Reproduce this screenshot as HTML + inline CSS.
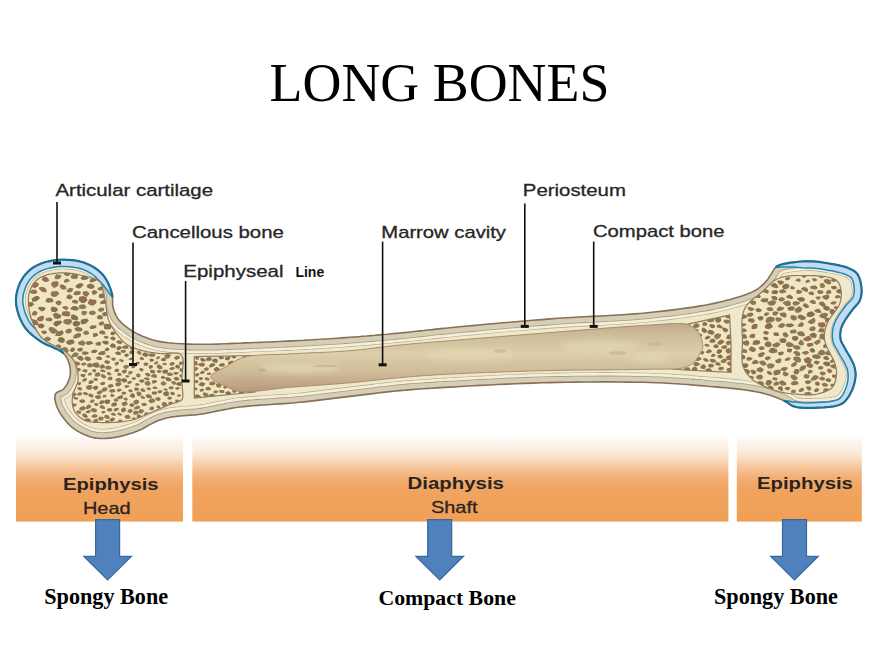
<!DOCTYPE html>
<html><head><meta charset="utf-8"><style>
html,body{margin:0;padding:0;background:#fff;}
body{width:880px;height:660px;overflow:hidden;}
svg{display:block;}
</style></head><body>
<svg width="880" height="660" viewBox="0 0 880 660">
<defs>
<linearGradient id="og" x1="0" y1="432" x2="0" y2="522" gradientUnits="userSpaceOnUse">
<stop offset="0" stop-color="#ffffff"/>
<stop offset="0.044" stop-color="#ffffff"/>
<stop offset="0.111" stop-color="#fdf4ee"/>
<stop offset="0.222" stop-color="#fbebd9"/>
<stop offset="0.289" stop-color="#f7e0c2"/>
<stop offset="0.378" stop-color="#f7c9a1"/>
<stop offset="0.489" stop-color="#f3b27b"/>
<stop offset="0.622" stop-color="#f0a461"/>
<stop offset="1" stop-color="#f0a055"/>
</linearGradient>
<linearGradient id="mg" x1="0" y1="0" x2="0" y2="1">
<stop offset="0" stop-color="#c0a888"/>
<stop offset="0.15" stop-color="#cdba98"/>
<stop offset="0.45" stop-color="#dccfaa"/>
<stop offset="0.75" stop-color="#cdb896"/>
<stop offset="1" stop-color="#b8987c"/>
</linearGradient>
<filter id="soft" x="-2%" y="-5%" width="104%" height="110%"><feGaussianBlur stdDeviation="0.35"/></filter>
<filter id="bl" x="-50%" y="-50%" width="200%" height="200%"><feGaussianBlur stdDeviation="2.5"/></filter>
<clipPath id="cm"><path d="M210.7,377.0 L211.0,376.0 L211.8,374.9 L213.1,373.7 L214.8,372.6 L216.7,371.5 L218.8,370.3 L221.0,369.2 L223.2,368.1 L225.2,367.0 L227.0,366.0 L228.6,365.0 L230.2,364.0 L231.7,363.1 L233.3,362.1 L234.8,361.2 L236.4,360.3 L238.1,359.5 L240.0,358.7 L241.9,358.0 L244.0,357.3 L247.6,356.5 L251.6,355.8 L255.9,355.4 L260.4,355.0 L265.1,354.8 L270.0,354.6 L275.0,354.5 L280.0,354.3 L285.0,354.2 L290.0,353.9 L295.7,353.6 L301.6,353.3 L307.6,353.0 L313.7,352.7 L319.9,352.5 L326.0,352.2 L332.2,351.9 L338.2,351.5 L344.2,351.1 L350.0,350.7 L355.2,350.2 L360.3,349.7 L365.3,349.1 L370.3,348.5 L375.3,347.9 L380.2,347.3 L385.1,346.7 L390.1,346.1 L395.0,345.5 L400.0,345.0 L404.9,344.5 L409.7,344.1 L414.5,343.6 L419.2,343.2 L423.9,342.8 L428.8,342.4 L433.7,342.0 L438.9,341.6 L444.3,341.2 L450.0,340.7 L458.6,340.0 L467.8,339.2 L477.5,338.4 L487.5,337.6 L497.9,336.8 L508.4,335.9 L518.9,335.1 L529.4,334.2 L539.8,333.4 L550.0,332.6 L560.2,331.8 L570.8,330.9 L581.6,330.1 L592.5,329.2 L603.2,328.3 L613.7,327.5 L623.8,326.7 L633.3,326.1 L642.1,325.5 L650.0,325.0 L654.3,324.7 L658.5,324.5 L662.5,324.2 L666.3,323.9 L670.0,323.7 L673.4,323.5 L676.6,323.4 L679.5,323.4 L682.2,323.5 L684.5,323.8 L685.5,324.0 L686.4,324.2 L687.2,324.4 L688.0,324.6 L688.7,324.9 L689.4,325.1 L690.1,325.5 L690.7,325.8 L691.4,326.1 L692.0,326.5 L692.6,326.9 L693.2,327.3 L693.8,327.7 L694.3,328.1 L694.8,328.6 L695.4,329.1 L695.9,329.6 L696.4,330.1 L696.8,330.6 L697.3,331.2 L697.8,331.8 L698.3,332.5 L698.8,333.2 L699.2,333.9 L699.7,334.7 L700.1,335.4 L700.5,336.2 L700.9,337.0 L701.2,337.8 L701.5,338.6 L701.8,339.5 L702.0,340.4 L702.3,341.4 L702.4,342.4 L702.6,343.4 L702.7,344.4 L702.8,345.4 L702.8,346.4 L702.7,347.3 L702.6,348.2 L702.4,348.9 L702.2,349.6 L702.0,350.2 L701.6,350.9 L701.3,351.5 L700.9,352.1 L700.6,352.7 L700.2,353.3 L699.8,353.9 L699.4,354.5 L699.0,355.2 L698.6,355.8 L698.3,356.5 L697.9,357.2 L697.5,357.8 L697.0,358.5 L696.6,359.1 L696.1,359.8 L695.6,360.4 L695.0,361.0 L694.3,361.7 L693.5,362.4 L692.8,363.1 L691.9,363.8 L691.1,364.5 L690.1,365.1 L689.1,365.7 L688.0,366.3 L686.9,366.8 L685.6,367.3 L683.1,368.0 L680.3,368.5 L677.3,368.8 L674.0,369.0 L670.4,369.0 L666.7,369.1 L662.8,369.1 L658.7,369.1 L654.4,369.1 L650.0,369.2 L642.0,369.4 L633.2,369.6 L623.7,369.7 L613.6,369.8 L603.2,369.9 L592.4,369.9 L581.6,370.0 L570.8,370.1 L560.2,370.3 L550.0,370.5 L539.8,370.8 L529.4,371.0 L518.9,371.4 L508.3,371.7 L497.8,372.1 L487.5,372.4 L477.5,372.8 L467.8,373.2 L458.6,373.7 L450.0,374.1 L444.3,374.4 L438.9,374.7 L433.7,375.0 L428.8,375.4 L423.9,375.7 L419.2,376.0 L414.5,376.4 L409.7,376.8 L404.9,377.2 L400.0,377.6 L395.0,378.1 L390.1,378.5 L385.1,379.1 L380.2,379.6 L375.3,380.2 L370.3,380.7 L365.3,381.3 L360.3,381.8 L355.2,382.3 L350.0,382.8 L344.2,383.3 L338.3,383.8 L332.2,384.2 L326.1,384.7 L320.0,385.1 L313.9,385.6 L307.8,386.0 L301.7,386.4 L295.8,386.9 L290.0,387.3 L284.7,387.8 L279.3,388.4 L273.8,389.1 L268.3,389.8 L262.9,390.5 L257.7,391.1 L252.8,391.5 L248.1,391.7 L243.8,391.7 L240.0,391.4 L238.0,391.1 L236.1,390.7 L234.4,390.2 L232.8,389.6 L231.3,389.0 L229.8,388.4 L228.3,387.7 L226.9,387.0 L225.5,386.2 L224.0,385.5 L222.5,384.8 L220.8,384.0 L219.0,383.2 L217.3,382.4 L215.6,381.5 L214.0,380.6 L212.7,379.7 L211.6,378.8 L211.0,377.9 L210.7,377.0Z"/></clipPath>
<clipPath id="cs"><path d="M57.0,260.0 L59.2,259.8 L61.6,259.7 L64.0,259.7 L66.4,259.8 L68.8,259.9 L71.3,260.1 L73.7,260.4 L76.1,260.7 L78.5,261.2 L80.8,261.7 L82.9,262.3 L85.0,263.0 L86.7,263.7 L88.5,264.4 L90.1,265.2 L91.8,266.1 L93.4,267.0 L94.9,268.0 L96.4,269.0 L97.9,270.1 L99.3,271.3 L100.6,272.5 L101.8,273.7 L103.0,275.0 L104.1,276.3 L105.1,277.8 L106.1,279.3 L107.0,280.9 L107.8,282.6 L108.6,284.2 L109.3,285.9 L110.0,287.6 L110.6,289.3 L111.1,290.9 L111.6,292.5 L112.0,294.0 L112.3,295.1 L112.4,296.3 L112.5,297.4 L112.6,298.5 L112.6,299.6 L112.6,300.7 L112.6,301.7 L112.6,302.8 L112.6,303.9 L112.7,304.9 L112.8,306.0 L113.0,307.0 L113.3,308.0 L113.6,309.1 L113.9,310.1 L114.2,311.2 L114.6,312.2 L114.9,313.2 L115.4,314.2 L115.8,315.2 L116.4,316.2 L116.9,317.2 L117.5,318.2 L118.2,319.1 L119.1,320.2 L120.1,321.3 L121.1,322.4 L122.3,323.5 L123.5,324.6 L124.8,325.6 L126.1,326.6 L127.4,327.6 L128.7,328.6 L130.1,329.5 L131.4,330.4 L132.7,331.2 L134.0,332.0 L135.2,332.7 L136.5,333.4 L137.8,334.1 L139.2,334.7 L140.5,335.3 L141.8,335.9 L143.2,336.5 L144.5,337.0 L145.9,337.5 L147.2,338.0 L148.5,338.5 L149.7,338.9 L150.8,339.3 L152.0,339.7 L153.1,340.0 L154.2,340.3 L155.3,340.6 L156.5,340.9 L157.7,341.1 L158.9,341.4 L160.2,341.6 L161.5,341.9 L163.0,342.1 L165.5,342.4 L168.1,342.8 L170.9,343.0 L173.8,343.3 L176.9,343.5 L180.1,343.7 L183.3,343.8 L186.6,344.0 L190.0,344.1 L193.3,344.2 L196.7,344.2 L200.0,344.3 L203.9,344.3 L207.9,344.3 L212.0,344.2 L216.1,344.1 L220.3,344.0 L224.5,343.8 L228.8,343.6 L233.1,343.4 L237.3,343.2 L241.6,343.1 L245.8,342.9 L250.0,342.7 L254.2,342.5 L258.3,342.4 L262.5,342.2 L266.7,342.0 L270.8,341.9 L275.0,341.7 L279.2,341.5 L283.3,341.3 L287.5,341.1 L291.7,340.9 L295.8,340.7 L300.0,340.5 L304.2,340.3 L308.3,340.0 L312.5,339.8 L316.7,339.5 L320.8,339.3 L325.0,339.0 L329.2,338.8 L333.3,338.5 L337.5,338.2 L341.7,337.9 L345.8,337.6 L350.0,337.3 L354.2,337.0 L358.3,336.7 L362.5,336.3 L366.7,336.0 L370.8,335.6 L375.0,335.3 L379.2,334.9 L383.3,334.5 L387.5,334.2 L391.7,333.8 L395.8,333.4 L400.0,333.0 L404.1,332.6 L408.1,332.2 L412.1,331.8 L416.0,331.3 L420.0,330.9 L423.9,330.5 L427.9,330.0 L432.1,329.6 L436.3,329.1 L440.7,328.6 L445.2,328.2 L450.0,327.7 L457.1,327.0 L464.7,326.3 L472.6,325.6 L480.8,324.8 L489.2,324.0 L497.8,323.2 L506.6,322.5 L515.4,321.7 L524.2,321.0 L532.9,320.2 L541.6,319.6 L550.0,318.9 L558.4,318.3 L566.9,317.8 L575.4,317.3 L584.0,316.8 L592.6,316.4 L601.1,316.0 L609.6,315.5 L618.0,315.0 L626.3,314.5 L634.4,313.9 L642.3,313.3 L650.0,312.5 L656.4,311.8 L662.7,311.1 L669.0,310.4 L675.2,309.6 L681.3,308.8 L687.4,307.9 L693.3,307.1 L699.0,306.1 L704.6,305.2 L709.9,304.2 L715.1,303.1 L720.0,302.0 L723.4,301.2 L726.8,300.3 L730.2,299.4 L733.4,298.5 L736.6,297.6 L739.6,296.7 L742.6,295.7 L745.4,294.7 L748.1,293.7 L750.6,292.7 L752.9,291.6 L755.0,290.5 L756.2,289.8 L757.4,289.1 L758.4,288.4 L759.5,287.6 L760.4,286.9 L761.3,286.1 L762.2,285.4 L763.0,284.6 L763.8,283.8 L764.5,283.1 L765.3,282.3 L766.0,281.5 L766.6,280.8 L767.1,280.2 L767.6,279.5 L768.1,278.9 L768.5,278.2 L768.9,277.5 L769.4,276.8 L769.8,276.1 L770.2,275.5 L770.6,274.8 L771.0,274.1 L771.5,273.5 L771.9,272.9 L772.3,272.2 L772.7,271.6 L773.0,270.9 L773.4,270.3 L773.8,269.7 L774.2,269.0 L774.6,268.4 L775.1,267.9 L775.6,267.3 L776.3,266.8 L777.0,266.3 L778.6,265.5 L780.6,264.8 L782.8,264.1 L785.3,263.6 L787.9,263.1 L790.7,262.6 L793.5,262.3 L796.3,262.0 L799.1,261.7 L801.9,261.5 L804.4,261.4 L806.8,261.3 L808.6,261.3 L810.4,261.3 L812.1,261.3 L813.8,261.4 L815.5,261.6 L817.1,261.7 L818.8,261.9 L820.4,262.2 L822.0,262.4 L823.7,262.7 L825.3,262.9 L827.0,263.2 L828.8,263.5 L830.6,263.8 L832.5,264.1 L834.3,264.4 L836.2,264.8 L838.1,265.2 L839.9,265.6 L841.7,266.0 L843.4,266.4 L845.0,266.9 L846.6,267.4 L848.0,268.0 L849.0,268.4 L849.9,268.8 L850.8,269.2 L851.7,269.6 L852.5,270.1 L853.3,270.5 L854.0,271.0 L854.8,271.5 L855.5,272.1 L856.1,272.6 L856.7,273.3 L857.3,274.0 L857.9,274.9 L858.4,275.9 L858.9,276.9 L859.4,278.0 L859.8,279.2 L860.1,280.4 L860.5,281.7 L860.7,282.9 L860.9,284.1 L861.1,285.4 L861.3,286.6 L861.4,287.7 L861.5,288.7 L861.5,289.8 L861.6,290.8 L861.6,291.9 L861.5,292.9 L861.4,294.0 L861.3,295.0 L861.1,296.0 L860.9,297.0 L860.7,298.0 L860.4,299.0 L860.0,300.0 L859.5,301.1 L858.9,302.1 L858.2,303.1 L857.4,304.1 L856.6,305.1 L855.7,306.1 L854.8,307.1 L853.9,308.1 L853.0,309.1 L852.1,310.2 L851.3,311.2 L850.5,312.3 L849.7,313.5 L848.8,314.7 L848.0,315.9 L847.1,317.2 L846.2,318.4 L845.4,319.7 L844.6,321.0 L843.8,322.3 L843.1,323.6 L842.5,324.8 L841.9,326.1 L841.5,327.3 L841.2,328.3 L840.9,329.3 L840.7,330.3 L840.5,331.3 L840.4,332.3 L840.3,333.3 L840.2,334.3 L840.2,335.3 L840.2,336.2 L840.3,337.2 L840.4,338.1 L840.5,339.0 L840.7,339.8 L840.9,340.5 L841.1,341.2 L841.4,341.9 L841.8,342.6 L842.1,343.3 L842.5,344.0 L842.9,344.6 L843.3,345.4 L843.7,346.1 L844.2,346.9 L844.6,347.7 L845.3,349.0 L846.0,350.4 L846.9,351.8 L847.7,353.3 L848.7,354.9 L849.6,356.4 L850.5,358.0 L851.3,359.6 L852.1,361.2 L852.9,362.7 L853.5,364.1 L854.0,365.5 L854.3,366.5 L854.6,367.4 L854.8,368.3 L855.0,369.2 L855.2,370.1 L855.3,371.0 L855.4,371.8 L855.5,372.7 L855.6,373.6 L855.6,374.5 L855.5,375.4 L855.5,376.4 L855.4,377.6 L855.2,378.8 L855.1,380.1 L854.8,381.3 L854.5,382.6 L854.2,383.9 L853.8,385.2 L853.4,386.5 L853.0,387.8 L852.5,389.0 L852.0,390.2 L851.4,391.4 L850.8,392.5 L850.2,393.7 L849.6,394.9 L849.0,396.0 L848.3,397.1 L847.5,398.2 L846.7,399.3 L845.9,400.3 L845.0,401.2 L844.0,402.1 L842.9,403.0 L841.8,403.7 L840.1,404.5 L838.2,405.3 L836.1,405.8 L833.8,406.3 L831.4,406.7 L829.0,407.0 L826.5,407.2 L824.0,407.4 L821.5,407.5 L819.1,407.6 L816.8,407.7 L814.6,407.8 L812.8,407.9 L810.9,407.9 L809.1,407.9 L807.2,407.9 L805.4,407.9 L803.6,407.8 L801.8,407.7 L800.1,407.6 L798.5,407.3 L796.9,407.1 L795.4,406.8 L794.0,406.4 L793.1,406.1 L792.2,405.7 L791.4,405.3 L790.7,404.9 L790.0,404.4 L789.3,403.9 L788.6,403.4 L787.9,402.9 L787.1,402.4 L786.3,401.9 L785.5,401.5 L784.5,401.0 L782.9,400.3 L781.2,399.6 L779.5,398.8 L777.7,398.1 L775.7,397.3 L773.7,396.6 L771.6,395.8 L769.5,395.1 L767.2,394.4 L764.9,393.7 L762.5,393.1 L760.0,392.5 L755.9,391.7 L751.5,390.9 L746.8,390.2 L741.8,389.5 L736.7,388.9 L731.4,388.4 L726.0,387.8 L720.6,387.4 L715.3,386.9 L710.0,386.5 L704.9,386.0 L700.0,385.6 L695.7,385.2 L691.6,384.9 L687.6,384.5 L683.6,384.2 L679.7,384.0 L675.8,383.7 L671.8,383.5 L667.8,383.2 L663.6,383.0 L659.3,382.8 L654.8,382.7 L650.0,382.5 L642.9,382.3 L635.3,382.2 L627.4,382.1 L619.2,382.0 L610.8,381.9 L602.1,381.9 L593.4,382.0 L584.6,382.0 L575.8,382.1 L567.1,382.3 L558.4,382.4 L550.0,382.6 L541.6,382.8 L532.9,383.1 L524.2,383.4 L515.4,383.8 L506.6,384.1 L497.8,384.5 L489.2,385.0 L480.8,385.4 L472.6,385.8 L464.7,386.3 L457.1,386.7 L450.0,387.1 L445.2,387.4 L440.7,387.6 L436.3,387.9 L432.1,388.2 L427.9,388.4 L423.9,388.7 L420.0,389.0 L416.0,389.3 L412.1,389.6 L408.1,389.9 L404.1,390.2 L400.0,390.6 L395.8,391.0 L391.7,391.4 L387.5,391.9 L383.3,392.4 L379.2,392.8 L375.0,393.4 L370.8,393.9 L366.7,394.4 L362.5,394.9 L358.3,395.4 L354.2,395.9 L350.0,396.4 L345.8,396.9 L341.7,397.4 L337.6,397.9 L333.5,398.4 L329.4,398.9 L325.3,399.4 L321.2,399.9 L317.0,400.4 L312.8,400.9 L308.6,401.4 L304.3,401.9 L300.0,402.3 L295.1,402.8 L289.9,403.2 L284.6,403.6 L279.2,403.9 L273.8,404.3 L268.3,404.7 L263.0,405.0 L257.8,405.4 L252.9,405.7 L248.2,406.1 L243.9,406.6 L240.0,407.0 L238.0,407.3 L236.0,407.5 L234.2,407.8 L232.5,408.1 L230.9,408.4 L229.3,408.7 L227.8,409.0 L226.3,409.3 L224.7,409.6 L223.2,409.9 L221.6,410.2 L220.0,410.5 L218.3,410.8 L216.7,411.1 L215.0,411.5 L213.3,411.8 L211.7,412.2 L210.0,412.5 L208.3,412.9 L206.7,413.2 L205.0,413.5 L203.3,413.8 L201.7,414.1 L200.0,414.3 L198.3,414.5 L196.6,414.7 L194.8,414.9 L193.1,415.0 L191.3,415.1 L189.6,415.3 L187.9,415.4 L186.2,415.5 L184.5,415.6 L182.9,415.7 L181.4,415.9 L180.0,416.0 L179.0,416.1 L178.1,416.2 L177.3,416.3 L176.4,416.4 L175.6,416.5 L174.8,416.6 L174.0,416.7 L173.2,416.8 L172.4,416.9 L171.6,417.0 L170.8,417.1 L170.0,417.3 L169.2,417.5 L168.3,417.7 L167.5,417.8 L166.6,418.0 L165.8,418.2 L165.0,418.5 L164.1,418.7 L163.3,418.9 L162.5,419.2 L161.6,419.4 L160.8,419.7 L160.0,420.0 L159.2,420.3 L158.3,420.6 L157.5,421.0 L156.6,421.3 L155.8,421.7 L155.0,422.1 L154.1,422.5 L153.3,422.9 L152.5,423.3 L151.7,423.7 L150.8,424.1 L150.0,424.5 L149.2,424.9 L148.4,425.4 L147.6,425.8 L146.8,426.3 L146.0,426.8 L145.2,427.2 L144.4,427.7 L143.6,428.2 L142.8,428.7 L141.9,429.1 L141.0,429.6 L140.0,430.0 L138.6,430.6 L137.1,431.2 L135.5,431.8 L133.9,432.4 L132.2,433.0 L130.5,433.5 L128.7,434.1 L127.0,434.6 L125.2,435.1 L123.4,435.6 L121.7,436.0 L120.0,436.4 L118.3,436.7 L116.6,437.1 L114.9,437.4 L113.2,437.6 L111.4,437.9 L109.7,438.1 L108.0,438.3 L106.3,438.4 L104.6,438.5 L103.0,438.5 L101.5,438.5 L100.0,438.5 L98.9,438.4 L97.8,438.3 L96.8,438.2 L95.8,438.1 L94.8,437.9 L93.8,437.7 L92.9,437.5 L91.9,437.3 L91.0,437.0 L90.0,436.7 L89.0,436.4 L88.0,436.0 L86.8,435.5 L85.5,435.0 L84.2,434.5 L82.9,433.9 L81.6,433.3 L80.3,432.6 L79.0,431.9 L77.8,431.2 L76.5,430.4 L75.3,429.6 L74.1,428.8 L73.0,428.0 L71.9,427.1 L70.9,426.3 L69.9,425.3 L68.9,424.4 L67.9,423.4 L67.0,422.3 L66.1,421.3 L65.2,420.2 L64.3,419.2 L63.5,418.1 L62.7,417.1 L62.0,416.0 L61.3,415.0 L60.7,414.1 L60.1,413.1 L59.5,412.1 L58.9,411.1 L58.4,410.0 L57.9,409.0 L57.4,408.0 L57.0,407.0 L56.6,406.0 L56.3,405.0 L56.0,404.0 L55.8,403.1 L55.6,402.3 L55.4,401.4 L55.2,400.5 L55.0,399.6 L54.9,398.7 L54.9,397.8 L54.8,397.0 L54.9,396.2 L55.0,395.4 L55.2,394.7 L55.5,394.0 L55.9,393.4 L56.4,392.9 L57.1,392.4 L57.8,392.0 L58.6,391.6 L59.4,391.3 L60.2,390.9 L61.1,390.5 L61.9,390.1 L62.7,389.6 L63.4,389.1 L64.0,388.5 L64.7,387.7 L65.3,386.8 L66.0,385.9 L66.6,384.9 L67.2,383.8 L67.7,382.7 L68.2,381.6 L68.7,380.5 L69.1,379.3 L69.5,378.2 L69.8,377.1 L70.0,376.0 L70.2,374.9 L70.3,373.9 L70.4,372.8 L70.4,371.6 L70.3,370.5 L70.3,369.4 L70.1,368.3 L70.0,367.2 L69.8,366.1 L69.6,365.0 L69.3,364.0 L69.0,363.0 L68.7,362.1 L68.4,361.2 L68.0,360.3 L67.6,359.4 L67.2,358.6 L66.8,357.8 L66.3,356.9 L65.7,356.1 L65.1,355.3 L64.5,354.6 L63.8,353.8 L63.0,353.0 L61.7,351.9 L60.1,350.9 L58.3,349.9 L56.4,348.9 L54.3,348.0 L52.2,347.1 L50.0,346.1 L47.9,345.2 L45.7,344.2 L43.7,343.2 L41.8,342.1 L40.0,341.0 L38.5,339.9 L37.0,338.8 L35.5,337.7 L34.0,336.5 L32.6,335.4 L31.2,334.2 L29.8,332.9 L28.5,331.7 L27.3,330.3 L26.1,329.0 L25.0,327.5 L24.0,326.0 L23.0,324.3 L22.0,322.5 L21.0,320.5 L20.1,318.6 L19.3,316.5 L18.5,314.4 L17.9,312.3 L17.3,310.2 L16.8,308.1 L16.4,306.0 L16.1,304.0 L16.0,302.0 L16.0,300.2 L16.0,298.4 L16.2,296.5 L16.4,294.7 L16.8,292.9 L17.2,291.0 L17.7,289.2 L18.2,287.5 L18.8,285.8 L19.5,284.1 L20.2,282.5 L21.0,281.0 L21.8,279.6 L22.6,278.3 L23.5,276.9 L24.5,275.6 L25.5,274.4 L26.6,273.2 L27.7,272.0 L28.8,270.9 L30.1,269.9 L31.3,268.8 L32.6,267.9 L34.0,267.0 L35.6,266.1 L37.3,265.2 L39.1,264.4 L40.9,263.6 L42.8,263.0 L44.8,262.3 L46.8,261.8 L48.8,261.3 L50.8,260.9 L52.9,260.5 L55.0,260.2 L57.0,260.0Z"/></clipPath>
<clipPath id="c1"><path d="M57.0,273.0 L59.2,272.8 L61.5,272.8 L63.8,272.8 L66.1,272.9 L68.5,273.1 L70.8,273.4 L73.2,273.7 L75.5,274.1 L77.8,274.5 L80.0,275.0 L82.2,275.5 L84.4,275.9 L86.7,276.5 L89.0,277.0 L91.2,277.7 L93.4,278.4 L95.4,279.1 L97.2,280.0 L98.7,280.9 L100.0,282.0 L100.7,282.8 L101.3,283.7 L101.7,284.7 L102.1,285.7 L102.4,286.7 L102.6,287.8 L102.8,288.9 L103.0,289.9 L103.2,291.0 L103.5,292.0 L103.8,293.0 L104.0,293.9 L104.2,294.9 L104.4,295.8 L104.6,296.8 L104.7,297.8 L104.9,298.8 L105.1,299.8 L105.3,300.9 L105.5,302.0 L105.8,303.6 L106.0,305.3 L106.2,307.1 L106.4,308.9 L106.6,310.8 L106.9,312.7 L107.2,314.6 L107.6,316.5 L108.0,318.3 L108.6,320.0 L109.3,321.6 L110.0,323.2 L110.8,324.8 L111.7,326.4 L112.6,327.9 L113.6,329.4 L114.6,330.9 L115.6,332.3 L116.6,333.7 L117.6,335.0 L118.5,336.1 L119.3,337.2 L120.2,338.2 L121.1,339.2 L121.9,340.2 L122.9,341.1 L123.8,342.0 L124.8,342.9 L125.9,343.7 L127.0,344.5 L128.3,345.3 L129.7,346.1 L131.2,346.8 L132.7,347.4 L134.3,348.0 L135.9,348.6 L137.5,349.2 L139.1,349.7 L140.8,350.1 L142.4,350.6 L144.1,351.0 L145.8,351.4 L147.5,351.8 L149.2,352.1 L151.0,352.4 L152.8,352.6 L154.5,352.8 L156.3,353.1 L158.2,353.3 L160.0,353.5 L162.1,353.6 L164.4,353.6 L166.9,353.4 L169.3,353.2 L171.8,353.1 L174.1,353.0 L176.3,353.1 L178.3,353.4 L180.0,354.0 L181.3,355.0 L182.3,356.5 L182.9,358.5 L183.2,360.8 L183.2,363.4 L183.0,366.2 L182.7,369.1 L182.4,372.0 L182.1,374.8 L181.9,377.5 L181.8,380.0 L181.9,382.1 L182.0,384.3 L182.2,386.5 L182.4,388.7 L182.6,390.8 L182.8,392.9 L182.8,394.7 L182.8,396.4 L182.6,397.9 L182.2,399.0 L182.0,399.4 L181.7,399.8 L181.5,400.1 L181.2,400.3 L180.9,400.5 L180.5,400.7 L180.2,400.9 L179.8,401.1 L179.4,401.3 L179.0,401.5 L178.3,401.8 L177.6,402.1 L176.8,402.4 L175.9,402.7 L175.0,402.9 L174.1,403.2 L173.1,403.5 L172.1,403.8 L171.1,404.1 L170.0,404.5 L168.3,405.2 L166.5,405.9 L164.6,406.7 L162.6,407.6 L160.5,408.5 L158.4,409.4 L156.3,410.4 L154.1,411.3 L152.0,412.2 L150.0,413.0 L148.0,413.8 L146.1,414.6 L144.2,415.5 L142.2,416.3 L140.3,417.1 L138.4,417.9 L136.4,418.7 L134.3,419.4 L132.2,420.0 L130.0,420.5 L127.2,421.0 L124.3,421.5 L121.2,421.8 L118.0,422.1 L114.8,422.4 L111.6,422.5 L108.5,422.6 L105.5,422.6 L102.6,422.6 L100.0,422.5 L98.2,422.4 L96.4,422.4 L94.7,422.3 L93.0,422.1 L91.3,422.0 L89.8,421.8 L88.2,421.5 L86.8,421.1 L85.4,420.6 L84.0,420.0 L82.8,419.3 L81.6,418.5 L80.4,417.7 L79.2,416.7 L78.2,415.7 L77.2,414.6 L76.2,413.5 L75.4,412.4 L74.6,411.2 L74.0,410.0 L73.5,408.8 L73.1,407.5 L72.7,406.1 L72.5,404.7 L72.3,403.3 L72.2,401.8 L72.2,400.4 L72.3,398.9 L72.4,397.4 L72.5,396.0 L72.8,394.4 L73.3,392.8 L73.9,391.3 L74.6,389.7 L75.3,388.1 L76.0,386.5 L76.7,384.8 L77.3,383.2 L77.7,381.6 L78.0,380.0 L78.1,378.4 L78.1,376.8 L78.1,375.1 L77.9,373.4 L77.7,371.8 L77.4,370.1 L77.0,368.5 L76.6,367.0 L76.1,365.5 L75.5,364.0 L74.9,362.7 L74.2,361.4 L73.4,360.1 L72.5,358.9 L71.6,357.7 L70.6,356.5 L69.6,355.4 L68.5,354.3 L67.3,353.1 L66.0,352.0 L64.1,350.5 L61.8,349.2 L59.4,347.9 L56.8,346.7 L54.1,345.5 L51.4,344.2 L48.7,342.9 L46.2,341.4 L44.0,339.8 L42.0,338.0 L40.3,336.0 L38.7,333.9 L37.2,331.6 L35.8,329.1 L34.5,326.7 L33.4,324.1 L32.4,321.5 L31.4,319.0 L30.7,316.5 L30.0,314.0 L29.5,311.8 L29.1,309.5 L28.8,307.2 L28.5,304.9 L28.4,302.6 L28.4,300.3 L28.5,298.1 L28.7,296.0 L29.0,293.9 L29.5,292.0 L30.0,290.5 L30.6,289.0 L31.2,287.5 L31.9,286.1 L32.8,284.7 L33.7,283.4 L34.6,282.2 L35.7,281.1 L36.8,280.0 L38.0,279.0 L39.5,278.0 L41.1,277.1 L42.9,276.3 L44.8,275.6 L46.7,274.9 L48.8,274.4 L50.8,274.0 L52.9,273.6 L55.0,273.3 L57.0,273.0Z"/></clipPath>
<clipPath id="c2"><path d="M194.3,356.6 L255.0,355.5 L255.0,392.0 L194.3,398.2 L194.3,356.6Z"/></clipPath>
<clipPath id="c3"><path d="M672.0,328.0 L689.0,323.8 L729.6,315.1 L731.0,343.0 L731.0,372.3 L684.0,370.0 L672.0,369.0 L672.0,328.0Z"/></clipPath>
<clipPath id="c4"><path d="M742.5,316.0 L742.8,314.7 L743.1,313.5 L743.4,312.3 L743.7,311.2 L744.1,310.1 L744.6,309.1 L745.1,308.1 L745.6,307.1 L746.3,306.0 L747.0,305.0 L748.1,303.6 L749.3,302.3 L750.7,301.0 L752.3,299.7 L753.9,298.4 L755.5,297.1 L757.2,295.9 L758.8,294.6 L760.5,293.3 L762.0,292.0 L763.5,290.7 L764.9,289.2 L766.3,287.8 L767.7,286.3 L769.1,284.9 L770.6,283.5 L772.1,282.2 L773.6,281.0 L775.3,279.9 L777.0,279.0 L779.0,278.2 L781.1,277.5 L783.2,276.9 L785.4,276.5 L787.7,276.2 L790.1,275.9 L792.5,275.7 L795.0,275.6 L797.5,275.5 L800.0,275.5 L803.4,275.5 L807.2,275.5 L811.3,275.6 L815.5,275.7 L819.7,276.0 L823.7,276.4 L827.5,277.0 L830.9,277.8 L833.8,278.8 L836.0,280.0 L837.0,280.8 L837.8,281.7 L838.5,282.7 L839.1,283.7 L839.6,284.8 L840.0,285.9 L840.3,287.0 L840.6,288.2 L840.8,289.3 L841.0,290.5 L841.2,291.8 L841.3,293.0 L841.3,294.3 L841.3,295.7 L841.2,297.0 L841.0,298.4 L840.8,299.8 L840.4,301.2 L840.1,302.6 L839.6,304.0 L838.8,305.8 L837.7,307.7 L836.5,309.6 L835.1,311.5 L833.6,313.5 L832.1,315.4 L830.6,317.4 L829.3,319.3 L828.2,321.3 L827.3,323.2 L826.7,324.8 L826.1,326.4 L825.6,328.0 L825.2,329.6 L824.8,331.2 L824.6,332.9 L824.4,334.5 L824.3,336.2 L824.4,337.9 L824.5,339.6 L825.0,341.9 L825.8,344.4 L826.8,346.9 L828.1,349.5 L829.4,352.1 L830.8,354.7 L832.1,357.2 L833.3,359.6 L834.3,361.9 L835.0,364.0 L835.3,365.2 L835.6,366.4 L835.9,367.6 L836.1,368.7 L836.3,369.7 L836.4,370.8 L836.5,371.8 L836.5,372.8 L836.5,373.9 L836.4,375.0 L836.3,376.2 L836.1,377.5 L835.9,378.8 L835.6,380.2 L835.3,381.5 L834.8,382.8 L834.4,384.0 L833.8,385.2 L833.1,386.3 L832.3,387.3 L831.3,388.3 L830.1,389.2 L828.7,390.1 L827.3,390.8 L825.7,391.5 L824.1,392.1 L822.5,392.7 L820.7,393.2 L819.0,393.6 L817.3,394.0 L815.2,394.4 L813.0,394.6 L810.7,394.8 L808.3,394.8 L805.9,394.8 L803.5,394.7 L801.0,394.6 L798.6,394.4 L796.3,394.2 L794.0,394.0 L791.9,393.8 L789.8,393.5 L787.8,393.3 L785.7,393.0 L783.7,392.6 L781.7,392.2 L779.6,391.8 L777.6,391.2 L775.6,390.7 L773.6,390.0 L771.4,389.2 L769.1,388.3 L766.7,387.4 L764.4,386.4 L762.0,385.3 L759.8,384.1 L757.6,382.9 L755.6,381.7 L753.7,380.4 L752.0,379.0 L750.8,377.9 L749.6,376.7 L748.5,375.6 L747.5,374.4 L746.6,373.1 L745.7,371.8 L744.9,370.5 L744.2,369.1 L743.6,367.6 L743.0,366.0 L742.4,363.8 L742.1,361.5 L741.9,358.9 L741.9,356.3 L741.9,353.6 L742.1,350.8 L742.2,348.1 L742.4,345.3 L742.5,342.6 L742.5,340.0 L742.4,337.5 L742.3,335.0 L742.2,332.4 L742.1,329.9 L742.0,327.3 L741.9,324.8 L741.9,322.4 L742.0,320.2 L742.2,318.0 L742.5,316.0Z"/></clipPath>
</defs>
<rect x="16" y="432" width="167" height="89.6" fill="url(#og)"/>
<rect x="192.3" y="432" width="536.1" height="89.6" fill="url(#og)"/>
<rect x="736.8" y="432" width="125" height="89.6" fill="url(#og)"/>
<g filter="url(#soft)">
<path d="M57.0,260.0 L59.2,259.8 L61.6,259.7 L64.0,259.7 L66.4,259.8 L68.8,259.9 L71.3,260.1 L73.7,260.4 L76.1,260.7 L78.5,261.2 L80.8,261.7 L82.9,262.3 L85.0,263.0 L86.7,263.7 L88.5,264.4 L90.1,265.2 L91.8,266.1 L93.4,267.0 L94.9,268.0 L96.4,269.0 L97.9,270.1 L99.3,271.3 L100.6,272.5 L101.8,273.7 L103.0,275.0 L104.1,276.3 L105.1,277.8 L106.1,279.3 L107.0,280.9 L107.8,282.6 L108.6,284.2 L109.3,285.9 L110.0,287.6 L110.6,289.3 L111.1,290.9 L111.6,292.5 L112.0,294.0 L112.3,295.1 L112.4,296.3 L112.5,297.4 L112.6,298.5 L112.6,299.6 L112.6,300.7 L112.6,301.7 L112.6,302.8 L112.6,303.9 L112.7,304.9 L112.8,306.0 L113.0,307.0 L113.3,308.0 L113.6,309.1 L113.9,310.1 L114.2,311.2 L114.6,312.2 L114.9,313.2 L115.4,314.2 L115.8,315.2 L116.4,316.2 L116.9,317.2 L117.5,318.2 L118.2,319.1 L119.1,320.2 L120.1,321.3 L121.1,322.4 L122.3,323.5 L123.5,324.6 L124.8,325.6 L126.1,326.6 L127.4,327.6 L128.7,328.6 L130.1,329.5 L131.4,330.4 L132.7,331.2 L134.0,332.0 L135.2,332.7 L136.5,333.4 L137.8,334.1 L139.2,334.7 L140.5,335.3 L141.8,335.9 L143.2,336.5 L144.5,337.0 L145.9,337.5 L147.2,338.0 L148.5,338.5 L149.7,338.9 L150.8,339.3 L152.0,339.7 L153.1,340.0 L154.2,340.3 L155.3,340.6 L156.5,340.9 L157.7,341.1 L158.9,341.4 L160.2,341.6 L161.5,341.9 L163.0,342.1 L165.5,342.4 L168.1,342.8 L170.9,343.0 L173.8,343.3 L176.9,343.5 L180.1,343.7 L183.3,343.8 L186.6,344.0 L190.0,344.1 L193.3,344.2 L196.7,344.2 L200.0,344.3 L203.9,344.3 L207.9,344.3 L212.0,344.2 L216.1,344.1 L220.3,344.0 L224.5,343.8 L228.8,343.6 L233.1,343.4 L237.3,343.2 L241.6,343.1 L245.8,342.9 L250.0,342.7 L254.2,342.5 L258.3,342.4 L262.5,342.2 L266.7,342.0 L270.8,341.9 L275.0,341.7 L279.2,341.5 L283.3,341.3 L287.5,341.1 L291.7,340.9 L295.8,340.7 L300.0,340.5 L304.2,340.3 L308.3,340.0 L312.5,339.8 L316.7,339.5 L320.8,339.3 L325.0,339.0 L329.2,338.8 L333.3,338.5 L337.5,338.2 L341.7,337.9 L345.8,337.6 L350.0,337.3 L354.2,337.0 L358.3,336.7 L362.5,336.3 L366.7,336.0 L370.8,335.6 L375.0,335.3 L379.2,334.9 L383.3,334.5 L387.5,334.2 L391.7,333.8 L395.8,333.4 L400.0,333.0 L404.1,332.6 L408.1,332.2 L412.1,331.8 L416.0,331.3 L420.0,330.9 L423.9,330.5 L427.9,330.0 L432.1,329.6 L436.3,329.1 L440.7,328.6 L445.2,328.2 L450.0,327.7 L457.1,327.0 L464.7,326.3 L472.6,325.6 L480.8,324.8 L489.2,324.0 L497.8,323.2 L506.6,322.5 L515.4,321.7 L524.2,321.0 L532.9,320.2 L541.6,319.6 L550.0,318.9 L558.4,318.3 L566.9,317.8 L575.4,317.3 L584.0,316.8 L592.6,316.4 L601.1,316.0 L609.6,315.5 L618.0,315.0 L626.3,314.5 L634.4,313.9 L642.3,313.3 L650.0,312.5 L656.4,311.8 L662.7,311.1 L669.0,310.4 L675.2,309.6 L681.3,308.8 L687.4,307.9 L693.3,307.1 L699.0,306.1 L704.6,305.2 L709.9,304.2 L715.1,303.1 L720.0,302.0 L723.4,301.2 L726.8,300.3 L730.2,299.4 L733.4,298.5 L736.6,297.6 L739.6,296.7 L742.6,295.7 L745.4,294.7 L748.1,293.7 L750.6,292.7 L752.9,291.6 L755.0,290.5 L756.2,289.8 L757.4,289.1 L758.4,288.4 L759.5,287.6 L760.4,286.9 L761.3,286.1 L762.2,285.4 L763.0,284.6 L763.8,283.8 L764.5,283.1 L765.3,282.3 L766.0,281.5 L766.6,280.8 L767.1,280.2 L767.6,279.5 L768.1,278.9 L768.5,278.2 L768.9,277.5 L769.4,276.8 L769.8,276.1 L770.2,275.5 L770.6,274.8 L771.0,274.1 L771.5,273.5 L771.9,272.9 L772.3,272.2 L772.7,271.6 L773.0,270.9 L773.4,270.3 L773.8,269.7 L774.2,269.0 L774.6,268.4 L775.1,267.9 L775.6,267.3 L776.3,266.8 L777.0,266.3 L778.6,265.5 L780.6,264.8 L782.8,264.1 L785.3,263.6 L787.9,263.1 L790.7,262.6 L793.5,262.3 L796.3,262.0 L799.1,261.7 L801.9,261.5 L804.4,261.4 L806.8,261.3 L808.6,261.3 L810.4,261.3 L812.1,261.3 L813.8,261.4 L815.5,261.6 L817.1,261.7 L818.8,261.9 L820.4,262.2 L822.0,262.4 L823.7,262.7 L825.3,262.9 L827.0,263.2 L828.8,263.5 L830.6,263.8 L832.5,264.1 L834.3,264.4 L836.2,264.8 L838.1,265.2 L839.9,265.6 L841.7,266.0 L843.4,266.4 L845.0,266.9 L846.6,267.4 L848.0,268.0 L849.0,268.4 L849.9,268.8 L850.8,269.2 L851.7,269.6 L852.5,270.1 L853.3,270.5 L854.0,271.0 L854.8,271.5 L855.5,272.1 L856.1,272.6 L856.7,273.3 L857.3,274.0 L857.9,274.9 L858.4,275.9 L858.9,276.9 L859.4,278.0 L859.8,279.2 L860.1,280.4 L860.5,281.7 L860.7,282.9 L860.9,284.1 L861.1,285.4 L861.3,286.6 L861.4,287.7 L861.5,288.7 L861.5,289.8 L861.6,290.8 L861.6,291.9 L861.5,292.9 L861.4,294.0 L861.3,295.0 L861.1,296.0 L860.9,297.0 L860.7,298.0 L860.4,299.0 L860.0,300.0 L859.5,301.1 L858.9,302.1 L858.2,303.1 L857.4,304.1 L856.6,305.1 L855.7,306.1 L854.8,307.1 L853.9,308.1 L853.0,309.1 L852.1,310.2 L851.3,311.2 L850.5,312.3 L849.7,313.5 L848.8,314.7 L848.0,315.9 L847.1,317.2 L846.2,318.4 L845.4,319.7 L844.6,321.0 L843.8,322.3 L843.1,323.6 L842.5,324.8 L841.9,326.1 L841.5,327.3 L841.2,328.3 L840.9,329.3 L840.7,330.3 L840.5,331.3 L840.4,332.3 L840.3,333.3 L840.2,334.3 L840.2,335.3 L840.2,336.2 L840.3,337.2 L840.4,338.1 L840.5,339.0 L840.7,339.8 L840.9,340.5 L841.1,341.2 L841.4,341.9 L841.8,342.6 L842.1,343.3 L842.5,344.0 L842.9,344.6 L843.3,345.4 L843.7,346.1 L844.2,346.9 L844.6,347.7 L845.3,349.0 L846.0,350.4 L846.9,351.8 L847.7,353.3 L848.7,354.9 L849.6,356.4 L850.5,358.0 L851.3,359.6 L852.1,361.2 L852.9,362.7 L853.5,364.1 L854.0,365.5 L854.3,366.5 L854.6,367.4 L854.8,368.3 L855.0,369.2 L855.2,370.1 L855.3,371.0 L855.4,371.8 L855.5,372.7 L855.6,373.6 L855.6,374.5 L855.5,375.4 L855.5,376.4 L855.4,377.6 L855.2,378.8 L855.1,380.1 L854.8,381.3 L854.5,382.6 L854.2,383.9 L853.8,385.2 L853.4,386.5 L853.0,387.8 L852.5,389.0 L852.0,390.2 L851.4,391.4 L850.8,392.5 L850.2,393.7 L849.6,394.9 L849.0,396.0 L848.3,397.1 L847.5,398.2 L846.7,399.3 L845.9,400.3 L845.0,401.2 L844.0,402.1 L842.9,403.0 L841.8,403.7 L840.1,404.5 L838.2,405.3 L836.1,405.8 L833.8,406.3 L831.4,406.7 L829.0,407.0 L826.5,407.2 L824.0,407.4 L821.5,407.5 L819.1,407.6 L816.8,407.7 L814.6,407.8 L812.8,407.9 L810.9,407.9 L809.1,407.9 L807.2,407.9 L805.4,407.9 L803.6,407.8 L801.8,407.7 L800.1,407.6 L798.5,407.3 L796.9,407.1 L795.4,406.8 L794.0,406.4 L793.1,406.1 L792.2,405.7 L791.4,405.3 L790.7,404.9 L790.0,404.4 L789.3,403.9 L788.6,403.4 L787.9,402.9 L787.1,402.4 L786.3,401.9 L785.5,401.5 L784.5,401.0 L782.9,400.3 L781.2,399.6 L779.5,398.8 L777.7,398.1 L775.7,397.3 L773.7,396.6 L771.6,395.8 L769.5,395.1 L767.2,394.4 L764.9,393.7 L762.5,393.1 L760.0,392.5 L755.9,391.7 L751.5,390.9 L746.8,390.2 L741.8,389.5 L736.7,388.9 L731.4,388.4 L726.0,387.8 L720.6,387.4 L715.3,386.9 L710.0,386.5 L704.9,386.0 L700.0,385.6 L695.7,385.2 L691.6,384.9 L687.6,384.5 L683.6,384.2 L679.7,384.0 L675.8,383.7 L671.8,383.5 L667.8,383.2 L663.6,383.0 L659.3,382.8 L654.8,382.7 L650.0,382.5 L642.9,382.3 L635.3,382.2 L627.4,382.1 L619.2,382.0 L610.8,381.9 L602.1,381.9 L593.4,382.0 L584.6,382.0 L575.8,382.1 L567.1,382.3 L558.4,382.4 L550.0,382.6 L541.6,382.8 L532.9,383.1 L524.2,383.4 L515.4,383.8 L506.6,384.1 L497.8,384.5 L489.2,385.0 L480.8,385.4 L472.6,385.8 L464.7,386.3 L457.1,386.7 L450.0,387.1 L445.2,387.4 L440.7,387.6 L436.3,387.9 L432.1,388.2 L427.9,388.4 L423.9,388.7 L420.0,389.0 L416.0,389.3 L412.1,389.6 L408.1,389.9 L404.1,390.2 L400.0,390.6 L395.8,391.0 L391.7,391.4 L387.5,391.9 L383.3,392.4 L379.2,392.8 L375.0,393.4 L370.8,393.9 L366.7,394.4 L362.5,394.9 L358.3,395.4 L354.2,395.9 L350.0,396.4 L345.8,396.9 L341.7,397.4 L337.6,397.9 L333.5,398.4 L329.4,398.9 L325.3,399.4 L321.2,399.9 L317.0,400.4 L312.8,400.9 L308.6,401.4 L304.3,401.9 L300.0,402.3 L295.1,402.8 L289.9,403.2 L284.6,403.6 L279.2,403.9 L273.8,404.3 L268.3,404.7 L263.0,405.0 L257.8,405.4 L252.9,405.7 L248.2,406.1 L243.9,406.6 L240.0,407.0 L238.0,407.3 L236.0,407.5 L234.2,407.8 L232.5,408.1 L230.9,408.4 L229.3,408.7 L227.8,409.0 L226.3,409.3 L224.7,409.6 L223.2,409.9 L221.6,410.2 L220.0,410.5 L218.3,410.8 L216.7,411.1 L215.0,411.5 L213.3,411.8 L211.7,412.2 L210.0,412.5 L208.3,412.9 L206.7,413.2 L205.0,413.5 L203.3,413.8 L201.7,414.1 L200.0,414.3 L198.3,414.5 L196.6,414.7 L194.8,414.9 L193.1,415.0 L191.3,415.1 L189.6,415.3 L187.9,415.4 L186.2,415.5 L184.5,415.6 L182.9,415.7 L181.4,415.9 L180.0,416.0 L179.0,416.1 L178.1,416.2 L177.3,416.3 L176.4,416.4 L175.6,416.5 L174.8,416.6 L174.0,416.7 L173.2,416.8 L172.4,416.9 L171.6,417.0 L170.8,417.1 L170.0,417.3 L169.2,417.5 L168.3,417.7 L167.5,417.8 L166.6,418.0 L165.8,418.2 L165.0,418.5 L164.1,418.7 L163.3,418.9 L162.5,419.2 L161.6,419.4 L160.8,419.7 L160.0,420.0 L159.2,420.3 L158.3,420.6 L157.5,421.0 L156.6,421.3 L155.8,421.7 L155.0,422.1 L154.1,422.5 L153.3,422.9 L152.5,423.3 L151.7,423.7 L150.8,424.1 L150.0,424.5 L149.2,424.9 L148.4,425.4 L147.6,425.8 L146.8,426.3 L146.0,426.8 L145.2,427.2 L144.4,427.7 L143.6,428.2 L142.8,428.7 L141.9,429.1 L141.0,429.6 L140.0,430.0 L138.6,430.6 L137.1,431.2 L135.5,431.8 L133.9,432.4 L132.2,433.0 L130.5,433.5 L128.7,434.1 L127.0,434.6 L125.2,435.1 L123.4,435.6 L121.7,436.0 L120.0,436.4 L118.3,436.7 L116.6,437.1 L114.9,437.4 L113.2,437.6 L111.4,437.9 L109.7,438.1 L108.0,438.3 L106.3,438.4 L104.6,438.5 L103.0,438.5 L101.5,438.5 L100.0,438.5 L98.9,438.4 L97.8,438.3 L96.8,438.2 L95.8,438.1 L94.8,437.9 L93.8,437.7 L92.9,437.5 L91.9,437.3 L91.0,437.0 L90.0,436.7 L89.0,436.4 L88.0,436.0 L86.8,435.5 L85.5,435.0 L84.2,434.5 L82.9,433.9 L81.6,433.3 L80.3,432.6 L79.0,431.9 L77.8,431.2 L76.5,430.4 L75.3,429.6 L74.1,428.8 L73.0,428.0 L71.9,427.1 L70.9,426.3 L69.9,425.3 L68.9,424.4 L67.9,423.4 L67.0,422.3 L66.1,421.3 L65.2,420.2 L64.3,419.2 L63.5,418.1 L62.7,417.1 L62.0,416.0 L61.3,415.0 L60.7,414.1 L60.1,413.1 L59.5,412.1 L58.9,411.1 L58.4,410.0 L57.9,409.0 L57.4,408.0 L57.0,407.0 L56.6,406.0 L56.3,405.0 L56.0,404.0 L55.8,403.1 L55.6,402.3 L55.4,401.4 L55.2,400.5 L55.0,399.6 L54.9,398.7 L54.9,397.8 L54.8,397.0 L54.9,396.2 L55.0,395.4 L55.2,394.7 L55.5,394.0 L55.9,393.4 L56.4,392.9 L57.1,392.4 L57.8,392.0 L58.6,391.6 L59.4,391.3 L60.2,390.9 L61.1,390.5 L61.9,390.1 L62.7,389.6 L63.4,389.1 L64.0,388.5 L64.7,387.7 L65.3,386.8 L66.0,385.9 L66.6,384.9 L67.2,383.8 L67.7,382.7 L68.2,381.6 L68.7,380.5 L69.1,379.3 L69.5,378.2 L69.8,377.1 L70.0,376.0 L70.2,374.9 L70.3,373.9 L70.4,372.8 L70.4,371.6 L70.3,370.5 L70.3,369.4 L70.1,368.3 L70.0,367.2 L69.8,366.1 L69.6,365.0 L69.3,364.0 L69.0,363.0 L68.7,362.1 L68.4,361.2 L68.0,360.3 L67.6,359.4 L67.2,358.6 L66.8,357.8 L66.3,356.9 L65.7,356.1 L65.1,355.3 L64.5,354.6 L63.8,353.8 L63.0,353.0 L61.7,351.9 L60.1,350.9 L58.3,349.9 L56.4,348.9 L54.3,348.0 L52.2,347.1 L50.0,346.1 L47.9,345.2 L45.7,344.2 L43.7,343.2 L41.8,342.1 L40.0,341.0 L38.5,339.9 L37.0,338.8 L35.5,337.7 L34.0,336.5 L32.6,335.4 L31.2,334.2 L29.8,332.9 L28.5,331.7 L27.3,330.3 L26.1,329.0 L25.0,327.5 L24.0,326.0 L23.0,324.3 L22.0,322.5 L21.0,320.5 L20.1,318.6 L19.3,316.5 L18.5,314.4 L17.9,312.3 L17.3,310.2 L16.8,308.1 L16.4,306.0 L16.1,304.0 L16.0,302.0 L16.0,300.2 L16.0,298.4 L16.2,296.5 L16.4,294.7 L16.8,292.9 L17.2,291.0 L17.7,289.2 L18.2,287.5 L18.8,285.8 L19.5,284.1 L20.2,282.5 L21.0,281.0 L21.8,279.6 L22.6,278.3 L23.5,276.9 L24.5,275.6 L25.5,274.4 L26.6,273.2 L27.7,272.0 L28.8,270.9 L30.1,269.9 L31.3,268.8 L32.6,267.9 L34.0,267.0 L35.6,266.1 L37.3,265.2 L39.1,264.4 L40.9,263.6 L42.8,263.0 L44.8,262.3 L46.8,261.8 L48.8,261.3 L50.8,260.9 L52.9,260.5 L55.0,260.2 L57.0,260.0Z" fill="#f0e8cb"/>
<g clip-path="url(#cs)"><path d="M57.0,260.0 L59.2,259.8 L61.6,259.7 L64.0,259.7 L66.4,259.8 L68.8,259.9 L71.3,260.1 L73.7,260.4 L76.1,260.7 L78.5,261.2 L80.8,261.7 L82.9,262.3 L85.0,263.0 L86.7,263.7 L88.5,264.4 L90.1,265.2 L91.8,266.1 L93.4,267.0 L94.9,268.0 L96.4,269.0 L97.9,270.1 L99.3,271.3 L100.6,272.5 L101.8,273.7 L103.0,275.0 L104.1,276.3 L105.1,277.8 L106.1,279.3 L107.0,280.9 L107.8,282.6 L108.6,284.2 L109.3,285.9 L110.0,287.6 L110.6,289.3 L111.1,290.9 L111.6,292.5 L112.0,294.0 L112.3,295.1 L112.4,296.3 L112.5,297.4 L112.6,298.5 L112.6,299.6 L112.6,300.7 L112.6,301.7 L112.6,302.8 L112.6,303.9 L112.7,304.9 L112.8,306.0 L113.0,307.0 L113.3,308.0 L113.6,309.1 L113.9,310.1 L114.2,311.2 L114.6,312.2 L114.9,313.2 L115.4,314.2 L115.8,315.2 L116.4,316.2 L116.9,317.2 L117.5,318.2 L118.2,319.1 L119.1,320.2 L120.1,321.3 L121.1,322.4 L122.3,323.5 L123.5,324.6 L124.8,325.6 L126.1,326.6 L127.4,327.6 L128.7,328.6 L130.1,329.5 L131.4,330.4 L132.7,331.2 L134.0,332.0 L135.2,332.7 L136.5,333.4 L137.8,334.1 L139.2,334.7 L140.5,335.3 L141.8,335.9 L143.2,336.5 L144.5,337.0 L145.9,337.5 L147.2,338.0 L148.5,338.5 L149.7,338.9 L150.8,339.3 L152.0,339.7 L153.1,340.0 L154.2,340.3 L155.3,340.6 L156.5,340.9 L157.7,341.1 L158.9,341.4 L160.2,341.6 L161.5,341.9 L163.0,342.1 L165.5,342.4 L168.1,342.8 L170.9,343.0 L173.8,343.3 L176.9,343.5 L180.1,343.7 L183.3,343.8 L186.6,344.0 L190.0,344.1 L193.3,344.2 L196.7,344.2 L200.0,344.3 L203.9,344.3 L207.9,344.3 L212.0,344.2 L216.1,344.1 L220.3,344.0 L224.5,343.8 L228.8,343.6 L233.1,343.4 L237.3,343.2 L241.6,343.1 L245.8,342.9 L250.0,342.7 L254.2,342.5 L258.3,342.4 L262.5,342.2 L266.7,342.0 L270.8,341.9 L275.0,341.7 L279.2,341.5 L283.3,341.3 L287.5,341.1 L291.7,340.9 L295.8,340.7 L300.0,340.5 L304.2,340.3 L308.3,340.0 L312.5,339.8 L316.7,339.5 L320.8,339.3 L325.0,339.0 L329.2,338.8 L333.3,338.5 L337.5,338.2 L341.7,337.9 L345.8,337.6 L350.0,337.3 L354.2,337.0 L358.3,336.7 L362.5,336.3 L366.7,336.0 L370.8,335.6 L375.0,335.3 L379.2,334.9 L383.3,334.5 L387.5,334.2 L391.7,333.8 L395.8,333.4 L400.0,333.0 L404.1,332.6 L408.1,332.2 L412.1,331.8 L416.0,331.3 L420.0,330.9 L423.9,330.5 L427.9,330.0 L432.1,329.6 L436.3,329.1 L440.7,328.6 L445.2,328.2 L450.0,327.7 L457.1,327.0 L464.7,326.3 L472.6,325.6 L480.8,324.8 L489.2,324.0 L497.8,323.2 L506.6,322.5 L515.4,321.7 L524.2,321.0 L532.9,320.2 L541.6,319.6 L550.0,318.9 L558.4,318.3 L566.9,317.8 L575.4,317.3 L584.0,316.8 L592.6,316.4 L601.1,316.0 L609.6,315.5 L618.0,315.0 L626.3,314.5 L634.4,313.9 L642.3,313.3 L650.0,312.5 L656.4,311.8 L662.7,311.1 L669.0,310.4 L675.2,309.6 L681.3,308.8 L687.4,307.9 L693.3,307.1 L699.0,306.1 L704.6,305.2 L709.9,304.2 L715.1,303.1 L720.0,302.0 L723.4,301.2 L726.8,300.3 L730.2,299.4 L733.4,298.5 L736.6,297.6 L739.6,296.7 L742.6,295.7 L745.4,294.7 L748.1,293.7 L750.6,292.7 L752.9,291.6 L755.0,290.5 L756.2,289.8 L757.4,289.1 L758.4,288.4 L759.5,287.6 L760.4,286.9 L761.3,286.1 L762.2,285.4 L763.0,284.6 L763.8,283.8 L764.5,283.1 L765.3,282.3 L766.0,281.5 L766.6,280.8 L767.1,280.2 L767.6,279.5 L768.1,278.9 L768.5,278.2 L768.9,277.5 L769.4,276.8 L769.8,276.1 L770.2,275.5 L770.6,274.8 L771.0,274.1 L771.5,273.5 L771.9,272.9 L772.3,272.2 L772.7,271.6 L773.0,270.9 L773.4,270.3 L773.8,269.7 L774.2,269.0 L774.6,268.4 L775.1,267.9 L775.6,267.3 L776.3,266.8 L777.0,266.3 L778.6,265.5 L780.6,264.8 L782.8,264.1 L785.3,263.6 L787.9,263.1 L790.7,262.6 L793.5,262.3 L796.3,262.0 L799.1,261.7 L801.9,261.5 L804.4,261.4 L806.8,261.3 L808.6,261.3 L810.4,261.3 L812.1,261.3 L813.8,261.4 L815.5,261.6 L817.1,261.7 L818.8,261.9 L820.4,262.2 L822.0,262.4 L823.7,262.7 L825.3,262.9 L827.0,263.2 L828.8,263.5 L830.6,263.8 L832.5,264.1 L834.3,264.4 L836.2,264.8 L838.1,265.2 L839.9,265.6 L841.7,266.0 L843.4,266.4 L845.0,266.9 L846.6,267.4 L848.0,268.0 L849.0,268.4 L849.9,268.8 L850.8,269.2 L851.7,269.6 L852.5,270.1 L853.3,270.5 L854.0,271.0 L854.8,271.5 L855.5,272.1 L856.1,272.6 L856.7,273.3 L857.3,274.0 L857.9,274.9 L858.4,275.9 L858.9,276.9 L859.4,278.0 L859.8,279.2 L860.1,280.4 L860.5,281.7 L860.7,282.9 L860.9,284.1 L861.1,285.4 L861.3,286.6 L861.4,287.7 L861.5,288.7 L861.5,289.8 L861.6,290.8 L861.6,291.9 L861.5,292.9 L861.4,294.0 L861.3,295.0 L861.1,296.0 L860.9,297.0 L860.7,298.0 L860.4,299.0 L860.0,300.0 L859.5,301.1 L858.9,302.1 L858.2,303.1 L857.4,304.1 L856.6,305.1 L855.7,306.1 L854.8,307.1 L853.9,308.1 L853.0,309.1 L852.1,310.2 L851.3,311.2 L850.5,312.3 L849.7,313.5 L848.8,314.7 L848.0,315.9 L847.1,317.2 L846.2,318.4 L845.4,319.7 L844.6,321.0 L843.8,322.3 L843.1,323.6 L842.5,324.8 L841.9,326.1 L841.5,327.3 L841.2,328.3 L840.9,329.3 L840.7,330.3 L840.5,331.3 L840.4,332.3 L840.3,333.3 L840.2,334.3 L840.2,335.3 L840.2,336.2 L840.3,337.2 L840.4,338.1 L840.5,339.0 L840.7,339.8 L840.9,340.5 L841.1,341.2 L841.4,341.9 L841.8,342.6 L842.1,343.3 L842.5,344.0 L842.9,344.6 L843.3,345.4 L843.7,346.1 L844.2,346.9 L844.6,347.7 L845.3,349.0 L846.0,350.4 L846.9,351.8 L847.7,353.3 L848.7,354.9 L849.6,356.4 L850.5,358.0 L851.3,359.6 L852.1,361.2 L852.9,362.7 L853.5,364.1 L854.0,365.5 L854.3,366.5 L854.6,367.4 L854.8,368.3 L855.0,369.2 L855.2,370.1 L855.3,371.0 L855.4,371.8 L855.5,372.7 L855.6,373.6 L855.6,374.5 L855.5,375.4 L855.5,376.4 L855.4,377.6 L855.2,378.8 L855.1,380.1 L854.8,381.3 L854.5,382.6 L854.2,383.9 L853.8,385.2 L853.4,386.5 L853.0,387.8 L852.5,389.0 L852.0,390.2 L851.4,391.4 L850.8,392.5 L850.2,393.7 L849.6,394.9 L849.0,396.0 L848.3,397.1 L847.5,398.2 L846.7,399.3 L845.9,400.3 L845.0,401.2 L844.0,402.1 L842.9,403.0 L841.8,403.7 L840.1,404.5 L838.2,405.3 L836.1,405.8 L833.8,406.3 L831.4,406.7 L829.0,407.0 L826.5,407.2 L824.0,407.4 L821.5,407.5 L819.1,407.6 L816.8,407.7 L814.6,407.8 L812.8,407.9 L810.9,407.9 L809.1,407.9 L807.2,407.9 L805.4,407.9 L803.6,407.8 L801.8,407.7 L800.1,407.6 L798.5,407.3 L796.9,407.1 L795.4,406.8 L794.0,406.4 L793.1,406.1 L792.2,405.7 L791.4,405.3 L790.7,404.9 L790.0,404.4 L789.3,403.9 L788.6,403.4 L787.9,402.9 L787.1,402.4 L786.3,401.9 L785.5,401.5 L784.5,401.0 L782.9,400.3 L781.2,399.6 L779.5,398.8 L777.7,398.1 L775.7,397.3 L773.7,396.6 L771.6,395.8 L769.5,395.1 L767.2,394.4 L764.9,393.7 L762.5,393.1 L760.0,392.5 L755.9,391.7 L751.5,390.9 L746.8,390.2 L741.8,389.5 L736.7,388.9 L731.4,388.4 L726.0,387.8 L720.6,387.4 L715.3,386.9 L710.0,386.5 L704.9,386.0 L700.0,385.6 L695.7,385.2 L691.6,384.9 L687.6,384.5 L683.6,384.2 L679.7,384.0 L675.8,383.7 L671.8,383.5 L667.8,383.2 L663.6,383.0 L659.3,382.8 L654.8,382.7 L650.0,382.5 L642.9,382.3 L635.3,382.2 L627.4,382.1 L619.2,382.0 L610.8,381.9 L602.1,381.9 L593.4,382.0 L584.6,382.0 L575.8,382.1 L567.1,382.3 L558.4,382.4 L550.0,382.6 L541.6,382.8 L532.9,383.1 L524.2,383.4 L515.4,383.8 L506.6,384.1 L497.8,384.5 L489.2,385.0 L480.8,385.4 L472.6,385.8 L464.7,386.3 L457.1,386.7 L450.0,387.1 L445.2,387.4 L440.7,387.6 L436.3,387.9 L432.1,388.2 L427.9,388.4 L423.9,388.7 L420.0,389.0 L416.0,389.3 L412.1,389.6 L408.1,389.9 L404.1,390.2 L400.0,390.6 L395.8,391.0 L391.7,391.4 L387.5,391.9 L383.3,392.4 L379.2,392.8 L375.0,393.4 L370.8,393.9 L366.7,394.4 L362.5,394.9 L358.3,395.4 L354.2,395.9 L350.0,396.4 L345.8,396.9 L341.7,397.4 L337.6,397.9 L333.5,398.4 L329.4,398.9 L325.3,399.4 L321.2,399.9 L317.0,400.4 L312.8,400.9 L308.6,401.4 L304.3,401.9 L300.0,402.3 L295.1,402.8 L289.9,403.2 L284.6,403.6 L279.2,403.9 L273.8,404.3 L268.3,404.7 L263.0,405.0 L257.8,405.4 L252.9,405.7 L248.2,406.1 L243.9,406.6 L240.0,407.0 L238.0,407.3 L236.0,407.5 L234.2,407.8 L232.5,408.1 L230.9,408.4 L229.3,408.7 L227.8,409.0 L226.3,409.3 L224.7,409.6 L223.2,409.9 L221.6,410.2 L220.0,410.5 L218.3,410.8 L216.7,411.1 L215.0,411.5 L213.3,411.8 L211.7,412.2 L210.0,412.5 L208.3,412.9 L206.7,413.2 L205.0,413.5 L203.3,413.8 L201.7,414.1 L200.0,414.3 L198.3,414.5 L196.6,414.7 L194.8,414.9 L193.1,415.0 L191.3,415.1 L189.6,415.3 L187.9,415.4 L186.2,415.5 L184.5,415.6 L182.9,415.7 L181.4,415.9 L180.0,416.0 L179.0,416.1 L178.1,416.2 L177.3,416.3 L176.4,416.4 L175.6,416.5 L174.8,416.6 L174.0,416.7 L173.2,416.8 L172.4,416.9 L171.6,417.0 L170.8,417.1 L170.0,417.3 L169.2,417.5 L168.3,417.7 L167.5,417.8 L166.6,418.0 L165.8,418.2 L165.0,418.5 L164.1,418.7 L163.3,418.9 L162.5,419.2 L161.6,419.4 L160.8,419.7 L160.0,420.0 L159.2,420.3 L158.3,420.6 L157.5,421.0 L156.6,421.3 L155.8,421.7 L155.0,422.1 L154.1,422.5 L153.3,422.9 L152.5,423.3 L151.7,423.7 L150.8,424.1 L150.0,424.5 L149.2,424.9 L148.4,425.4 L147.6,425.8 L146.8,426.3 L146.0,426.8 L145.2,427.2 L144.4,427.7 L143.6,428.2 L142.8,428.7 L141.9,429.1 L141.0,429.6 L140.0,430.0 L138.6,430.6 L137.1,431.2 L135.5,431.8 L133.9,432.4 L132.2,433.0 L130.5,433.5 L128.7,434.1 L127.0,434.6 L125.2,435.1 L123.4,435.6 L121.7,436.0 L120.0,436.4 L118.3,436.7 L116.6,437.1 L114.9,437.4 L113.2,437.6 L111.4,437.9 L109.7,438.1 L108.0,438.3 L106.3,438.4 L104.6,438.5 L103.0,438.5 L101.5,438.5 L100.0,438.5 L98.9,438.4 L97.8,438.3 L96.8,438.2 L95.8,438.1 L94.8,437.9 L93.8,437.7 L92.9,437.5 L91.9,437.3 L91.0,437.0 L90.0,436.7 L89.0,436.4 L88.0,436.0 L86.8,435.5 L85.5,435.0 L84.2,434.5 L82.9,433.9 L81.6,433.3 L80.3,432.6 L79.0,431.9 L77.8,431.2 L76.5,430.4 L75.3,429.6 L74.1,428.8 L73.0,428.0 L71.9,427.1 L70.9,426.3 L69.9,425.3 L68.9,424.4 L67.9,423.4 L67.0,422.3 L66.1,421.3 L65.2,420.2 L64.3,419.2 L63.5,418.1 L62.7,417.1 L62.0,416.0 L61.3,415.0 L60.7,414.1 L60.1,413.1 L59.5,412.1 L58.9,411.1 L58.4,410.0 L57.9,409.0 L57.4,408.0 L57.0,407.0 L56.6,406.0 L56.3,405.0 L56.0,404.0 L55.8,403.1 L55.6,402.3 L55.4,401.4 L55.2,400.5 L55.0,399.6 L54.9,398.7 L54.9,397.8 L54.8,397.0 L54.9,396.2 L55.0,395.4 L55.2,394.7 L55.5,394.0 L55.9,393.4 L56.4,392.9 L57.1,392.4 L57.8,392.0 L58.6,391.6 L59.4,391.3 L60.2,390.9 L61.1,390.5 L61.9,390.1 L62.7,389.6 L63.4,389.1 L64.0,388.5 L64.7,387.7 L65.3,386.8 L66.0,385.9 L66.6,384.9 L67.2,383.8 L67.7,382.7 L68.2,381.6 L68.7,380.5 L69.1,379.3 L69.5,378.2 L69.8,377.1 L70.0,376.0 L70.2,374.9 L70.3,373.9 L70.4,372.8 L70.4,371.6 L70.3,370.5 L70.3,369.4 L70.1,368.3 L70.0,367.2 L69.8,366.1 L69.6,365.0 L69.3,364.0 L69.0,363.0 L68.7,362.1 L68.4,361.2 L68.0,360.3 L67.6,359.4 L67.2,358.6 L66.8,357.8 L66.3,356.9 L65.7,356.1 L65.1,355.3 L64.5,354.6 L63.8,353.8 L63.0,353.0 L61.7,351.9 L60.1,350.9 L58.3,349.9 L56.4,348.9 L54.3,348.0 L52.2,347.1 L50.0,346.1 L47.9,345.2 L45.7,344.2 L43.7,343.2 L41.8,342.1 L40.0,341.0 L38.5,339.9 L37.0,338.8 L35.5,337.7 L34.0,336.5 L32.6,335.4 L31.2,334.2 L29.8,332.9 L28.5,331.7 L27.3,330.3 L26.1,329.0 L25.0,327.5 L24.0,326.0 L23.0,324.3 L22.0,322.5 L21.0,320.5 L20.1,318.6 L19.3,316.5 L18.5,314.4 L17.9,312.3 L17.3,310.2 L16.8,308.1 L16.4,306.0 L16.1,304.0 L16.0,302.0 L16.0,300.2 L16.0,298.4 L16.2,296.5 L16.4,294.7 L16.8,292.9 L17.2,291.0 L17.7,289.2 L18.2,287.5 L18.8,285.8 L19.5,284.1 L20.2,282.5 L21.0,281.0 L21.8,279.6 L22.6,278.3 L23.5,276.9 L24.5,275.6 L25.5,274.4 L26.6,273.2 L27.7,272.0 L28.8,270.9 L30.1,269.9 L31.3,268.8 L32.6,267.9 L34.0,267.0 L35.6,266.1 L37.3,265.2 L39.1,264.4 L40.9,263.6 L42.8,263.0 L44.8,262.3 L46.8,261.8 L48.8,261.3 L50.8,260.9 L52.9,260.5 L55.0,260.2 L57.0,260.0Z" fill="none" stroke="#b5a585" stroke-width="19.2"/><path d="M57.0,260.0 L59.2,259.8 L61.6,259.7 L64.0,259.7 L66.4,259.8 L68.8,259.9 L71.3,260.1 L73.7,260.4 L76.1,260.7 L78.5,261.2 L80.8,261.7 L82.9,262.3 L85.0,263.0 L86.7,263.7 L88.5,264.4 L90.1,265.2 L91.8,266.1 L93.4,267.0 L94.9,268.0 L96.4,269.0 L97.9,270.1 L99.3,271.3 L100.6,272.5 L101.8,273.7 L103.0,275.0 L104.1,276.3 L105.1,277.8 L106.1,279.3 L107.0,280.9 L107.8,282.6 L108.6,284.2 L109.3,285.9 L110.0,287.6 L110.6,289.3 L111.1,290.9 L111.6,292.5 L112.0,294.0 L112.3,295.1 L112.4,296.3 L112.5,297.4 L112.6,298.5 L112.6,299.6 L112.6,300.7 L112.6,301.7 L112.6,302.8 L112.6,303.9 L112.7,304.9 L112.8,306.0 L113.0,307.0 L113.3,308.0 L113.6,309.1 L113.9,310.1 L114.2,311.2 L114.6,312.2 L114.9,313.2 L115.4,314.2 L115.8,315.2 L116.4,316.2 L116.9,317.2 L117.5,318.2 L118.2,319.1 L119.1,320.2 L120.1,321.3 L121.1,322.4 L122.3,323.5 L123.5,324.6 L124.8,325.6 L126.1,326.6 L127.4,327.6 L128.7,328.6 L130.1,329.5 L131.4,330.4 L132.7,331.2 L134.0,332.0 L135.2,332.7 L136.5,333.4 L137.8,334.1 L139.2,334.7 L140.5,335.3 L141.8,335.9 L143.2,336.5 L144.5,337.0 L145.9,337.5 L147.2,338.0 L148.5,338.5 L149.7,338.9 L150.8,339.3 L152.0,339.7 L153.1,340.0 L154.2,340.3 L155.3,340.6 L156.5,340.9 L157.7,341.1 L158.9,341.4 L160.2,341.6 L161.5,341.9 L163.0,342.1 L165.5,342.4 L168.1,342.8 L170.9,343.0 L173.8,343.3 L176.9,343.5 L180.1,343.7 L183.3,343.8 L186.6,344.0 L190.0,344.1 L193.3,344.2 L196.7,344.2 L200.0,344.3 L203.9,344.3 L207.9,344.3 L212.0,344.2 L216.1,344.1 L220.3,344.0 L224.5,343.8 L228.8,343.6 L233.1,343.4 L237.3,343.2 L241.6,343.1 L245.8,342.9 L250.0,342.7 L254.2,342.5 L258.3,342.4 L262.5,342.2 L266.7,342.0 L270.8,341.9 L275.0,341.7 L279.2,341.5 L283.3,341.3 L287.5,341.1 L291.7,340.9 L295.8,340.7 L300.0,340.5 L304.2,340.3 L308.3,340.0 L312.5,339.8 L316.7,339.5 L320.8,339.3 L325.0,339.0 L329.2,338.8 L333.3,338.5 L337.5,338.2 L341.7,337.9 L345.8,337.6 L350.0,337.3 L354.2,337.0 L358.3,336.7 L362.5,336.3 L366.7,336.0 L370.8,335.6 L375.0,335.3 L379.2,334.9 L383.3,334.5 L387.5,334.2 L391.7,333.8 L395.8,333.4 L400.0,333.0 L404.1,332.6 L408.1,332.2 L412.1,331.8 L416.0,331.3 L420.0,330.9 L423.9,330.5 L427.9,330.0 L432.1,329.6 L436.3,329.1 L440.7,328.6 L445.2,328.2 L450.0,327.7 L457.1,327.0 L464.7,326.3 L472.6,325.6 L480.8,324.8 L489.2,324.0 L497.8,323.2 L506.6,322.5 L515.4,321.7 L524.2,321.0 L532.9,320.2 L541.6,319.6 L550.0,318.9 L558.4,318.3 L566.9,317.8 L575.4,317.3 L584.0,316.8 L592.6,316.4 L601.1,316.0 L609.6,315.5 L618.0,315.0 L626.3,314.5 L634.4,313.9 L642.3,313.3 L650.0,312.5 L656.4,311.8 L662.7,311.1 L669.0,310.4 L675.2,309.6 L681.3,308.8 L687.4,307.9 L693.3,307.1 L699.0,306.1 L704.6,305.2 L709.9,304.2 L715.1,303.1 L720.0,302.0 L723.4,301.2 L726.8,300.3 L730.2,299.4 L733.4,298.5 L736.6,297.6 L739.6,296.7 L742.6,295.7 L745.4,294.7 L748.1,293.7 L750.6,292.7 L752.9,291.6 L755.0,290.5 L756.2,289.8 L757.4,289.1 L758.4,288.4 L759.5,287.6 L760.4,286.9 L761.3,286.1 L762.2,285.4 L763.0,284.6 L763.8,283.8 L764.5,283.1 L765.3,282.3 L766.0,281.5 L766.6,280.8 L767.1,280.2 L767.6,279.5 L768.1,278.9 L768.5,278.2 L768.9,277.5 L769.4,276.8 L769.8,276.1 L770.2,275.5 L770.6,274.8 L771.0,274.1 L771.5,273.5 L771.9,272.9 L772.3,272.2 L772.7,271.6 L773.0,270.9 L773.4,270.3 L773.8,269.7 L774.2,269.0 L774.6,268.4 L775.1,267.9 L775.6,267.3 L776.3,266.8 L777.0,266.3 L778.6,265.5 L780.6,264.8 L782.8,264.1 L785.3,263.6 L787.9,263.1 L790.7,262.6 L793.5,262.3 L796.3,262.0 L799.1,261.7 L801.9,261.5 L804.4,261.4 L806.8,261.3 L808.6,261.3 L810.4,261.3 L812.1,261.3 L813.8,261.4 L815.5,261.6 L817.1,261.7 L818.8,261.9 L820.4,262.2 L822.0,262.4 L823.7,262.7 L825.3,262.9 L827.0,263.2 L828.8,263.5 L830.6,263.8 L832.5,264.1 L834.3,264.4 L836.2,264.8 L838.1,265.2 L839.9,265.6 L841.7,266.0 L843.4,266.4 L845.0,266.9 L846.6,267.4 L848.0,268.0 L849.0,268.4 L849.9,268.8 L850.8,269.2 L851.7,269.6 L852.5,270.1 L853.3,270.5 L854.0,271.0 L854.8,271.5 L855.5,272.1 L856.1,272.6 L856.7,273.3 L857.3,274.0 L857.9,274.9 L858.4,275.9 L858.9,276.9 L859.4,278.0 L859.8,279.2 L860.1,280.4 L860.5,281.7 L860.7,282.9 L860.9,284.1 L861.1,285.4 L861.3,286.6 L861.4,287.7 L861.5,288.7 L861.5,289.8 L861.6,290.8 L861.6,291.9 L861.5,292.9 L861.4,294.0 L861.3,295.0 L861.1,296.0 L860.9,297.0 L860.7,298.0 L860.4,299.0 L860.0,300.0 L859.5,301.1 L858.9,302.1 L858.2,303.1 L857.4,304.1 L856.6,305.1 L855.7,306.1 L854.8,307.1 L853.9,308.1 L853.0,309.1 L852.1,310.2 L851.3,311.2 L850.5,312.3 L849.7,313.5 L848.8,314.7 L848.0,315.9 L847.1,317.2 L846.2,318.4 L845.4,319.7 L844.6,321.0 L843.8,322.3 L843.1,323.6 L842.5,324.8 L841.9,326.1 L841.5,327.3 L841.2,328.3 L840.9,329.3 L840.7,330.3 L840.5,331.3 L840.4,332.3 L840.3,333.3 L840.2,334.3 L840.2,335.3 L840.2,336.2 L840.3,337.2 L840.4,338.1 L840.5,339.0 L840.7,339.8 L840.9,340.5 L841.1,341.2 L841.4,341.9 L841.8,342.6 L842.1,343.3 L842.5,344.0 L842.9,344.6 L843.3,345.4 L843.7,346.1 L844.2,346.9 L844.6,347.7 L845.3,349.0 L846.0,350.4 L846.9,351.8 L847.7,353.3 L848.7,354.9 L849.6,356.4 L850.5,358.0 L851.3,359.6 L852.1,361.2 L852.9,362.7 L853.5,364.1 L854.0,365.5 L854.3,366.5 L854.6,367.4 L854.8,368.3 L855.0,369.2 L855.2,370.1 L855.3,371.0 L855.4,371.8 L855.5,372.7 L855.6,373.6 L855.6,374.5 L855.5,375.4 L855.5,376.4 L855.4,377.6 L855.2,378.8 L855.1,380.1 L854.8,381.3 L854.5,382.6 L854.2,383.9 L853.8,385.2 L853.4,386.5 L853.0,387.8 L852.5,389.0 L852.0,390.2 L851.4,391.4 L850.8,392.5 L850.2,393.7 L849.6,394.9 L849.0,396.0 L848.3,397.1 L847.5,398.2 L846.7,399.3 L845.9,400.3 L845.0,401.2 L844.0,402.1 L842.9,403.0 L841.8,403.7 L840.1,404.5 L838.2,405.3 L836.1,405.8 L833.8,406.3 L831.4,406.7 L829.0,407.0 L826.5,407.2 L824.0,407.4 L821.5,407.5 L819.1,407.6 L816.8,407.7 L814.6,407.8 L812.8,407.9 L810.9,407.9 L809.1,407.9 L807.2,407.9 L805.4,407.9 L803.6,407.8 L801.8,407.7 L800.1,407.6 L798.5,407.3 L796.9,407.1 L795.4,406.8 L794.0,406.4 L793.1,406.1 L792.2,405.7 L791.4,405.3 L790.7,404.9 L790.0,404.4 L789.3,403.9 L788.6,403.4 L787.9,402.9 L787.1,402.4 L786.3,401.9 L785.5,401.5 L784.5,401.0 L782.9,400.3 L781.2,399.6 L779.5,398.8 L777.7,398.1 L775.7,397.3 L773.7,396.6 L771.6,395.8 L769.5,395.1 L767.2,394.4 L764.9,393.7 L762.5,393.1 L760.0,392.5 L755.9,391.7 L751.5,390.9 L746.8,390.2 L741.8,389.5 L736.7,388.9 L731.4,388.4 L726.0,387.8 L720.6,387.4 L715.3,386.9 L710.0,386.5 L704.9,386.0 L700.0,385.6 L695.7,385.2 L691.6,384.9 L687.6,384.5 L683.6,384.2 L679.7,384.0 L675.8,383.7 L671.8,383.5 L667.8,383.2 L663.6,383.0 L659.3,382.8 L654.8,382.7 L650.0,382.5 L642.9,382.3 L635.3,382.2 L627.4,382.1 L619.2,382.0 L610.8,381.9 L602.1,381.9 L593.4,382.0 L584.6,382.0 L575.8,382.1 L567.1,382.3 L558.4,382.4 L550.0,382.6 L541.6,382.8 L532.9,383.1 L524.2,383.4 L515.4,383.8 L506.6,384.1 L497.8,384.5 L489.2,385.0 L480.8,385.4 L472.6,385.8 L464.7,386.3 L457.1,386.7 L450.0,387.1 L445.2,387.4 L440.7,387.6 L436.3,387.9 L432.1,388.2 L427.9,388.4 L423.9,388.7 L420.0,389.0 L416.0,389.3 L412.1,389.6 L408.1,389.9 L404.1,390.2 L400.0,390.6 L395.8,391.0 L391.7,391.4 L387.5,391.9 L383.3,392.4 L379.2,392.8 L375.0,393.4 L370.8,393.9 L366.7,394.4 L362.5,394.9 L358.3,395.4 L354.2,395.9 L350.0,396.4 L345.8,396.9 L341.7,397.4 L337.6,397.9 L333.5,398.4 L329.4,398.9 L325.3,399.4 L321.2,399.9 L317.0,400.4 L312.8,400.9 L308.6,401.4 L304.3,401.9 L300.0,402.3 L295.1,402.8 L289.9,403.2 L284.6,403.6 L279.2,403.9 L273.8,404.3 L268.3,404.7 L263.0,405.0 L257.8,405.4 L252.9,405.7 L248.2,406.1 L243.9,406.6 L240.0,407.0 L238.0,407.3 L236.0,407.5 L234.2,407.8 L232.5,408.1 L230.9,408.4 L229.3,408.7 L227.8,409.0 L226.3,409.3 L224.7,409.6 L223.2,409.9 L221.6,410.2 L220.0,410.5 L218.3,410.8 L216.7,411.1 L215.0,411.5 L213.3,411.8 L211.7,412.2 L210.0,412.5 L208.3,412.9 L206.7,413.2 L205.0,413.5 L203.3,413.8 L201.7,414.1 L200.0,414.3 L198.3,414.5 L196.6,414.7 L194.8,414.9 L193.1,415.0 L191.3,415.1 L189.6,415.3 L187.9,415.4 L186.2,415.5 L184.5,415.6 L182.9,415.7 L181.4,415.9 L180.0,416.0 L179.0,416.1 L178.1,416.2 L177.3,416.3 L176.4,416.4 L175.6,416.5 L174.8,416.6 L174.0,416.7 L173.2,416.8 L172.4,416.9 L171.6,417.0 L170.8,417.1 L170.0,417.3 L169.2,417.5 L168.3,417.7 L167.5,417.8 L166.6,418.0 L165.8,418.2 L165.0,418.5 L164.1,418.7 L163.3,418.9 L162.5,419.2 L161.6,419.4 L160.8,419.7 L160.0,420.0 L159.2,420.3 L158.3,420.6 L157.5,421.0 L156.6,421.3 L155.8,421.7 L155.0,422.1 L154.1,422.5 L153.3,422.9 L152.5,423.3 L151.7,423.7 L150.8,424.1 L150.0,424.5 L149.2,424.9 L148.4,425.4 L147.6,425.8 L146.8,426.3 L146.0,426.8 L145.2,427.2 L144.4,427.7 L143.6,428.2 L142.8,428.7 L141.9,429.1 L141.0,429.6 L140.0,430.0 L138.6,430.6 L137.1,431.2 L135.5,431.8 L133.9,432.4 L132.2,433.0 L130.5,433.5 L128.7,434.1 L127.0,434.6 L125.2,435.1 L123.4,435.6 L121.7,436.0 L120.0,436.4 L118.3,436.7 L116.6,437.1 L114.9,437.4 L113.2,437.6 L111.4,437.9 L109.7,438.1 L108.0,438.3 L106.3,438.4 L104.6,438.5 L103.0,438.5 L101.5,438.5 L100.0,438.5 L98.9,438.4 L97.8,438.3 L96.8,438.2 L95.8,438.1 L94.8,437.9 L93.8,437.7 L92.9,437.5 L91.9,437.3 L91.0,437.0 L90.0,436.7 L89.0,436.4 L88.0,436.0 L86.8,435.5 L85.5,435.0 L84.2,434.5 L82.9,433.9 L81.6,433.3 L80.3,432.6 L79.0,431.9 L77.8,431.2 L76.5,430.4 L75.3,429.6 L74.1,428.8 L73.0,428.0 L71.9,427.1 L70.9,426.3 L69.9,425.3 L68.9,424.4 L67.9,423.4 L67.0,422.3 L66.1,421.3 L65.2,420.2 L64.3,419.2 L63.5,418.1 L62.7,417.1 L62.0,416.0 L61.3,415.0 L60.7,414.1 L60.1,413.1 L59.5,412.1 L58.9,411.1 L58.4,410.0 L57.9,409.0 L57.4,408.0 L57.0,407.0 L56.6,406.0 L56.3,405.0 L56.0,404.0 L55.8,403.1 L55.6,402.3 L55.4,401.4 L55.2,400.5 L55.0,399.6 L54.9,398.7 L54.9,397.8 L54.8,397.0 L54.9,396.2 L55.0,395.4 L55.2,394.7 L55.5,394.0 L55.9,393.4 L56.4,392.9 L57.1,392.4 L57.8,392.0 L58.6,391.6 L59.4,391.3 L60.2,390.9 L61.1,390.5 L61.9,390.1 L62.7,389.6 L63.4,389.1 L64.0,388.5 L64.7,387.7 L65.3,386.8 L66.0,385.9 L66.6,384.9 L67.2,383.8 L67.7,382.7 L68.2,381.6 L68.7,380.5 L69.1,379.3 L69.5,378.2 L69.8,377.1 L70.0,376.0 L70.2,374.9 L70.3,373.9 L70.4,372.8 L70.4,371.6 L70.3,370.5 L70.3,369.4 L70.1,368.3 L70.0,367.2 L69.8,366.1 L69.6,365.0 L69.3,364.0 L69.0,363.0 L68.7,362.1 L68.4,361.2 L68.0,360.3 L67.6,359.4 L67.2,358.6 L66.8,357.8 L66.3,356.9 L65.7,356.1 L65.1,355.3 L64.5,354.6 L63.8,353.8 L63.0,353.0 L61.7,351.9 L60.1,350.9 L58.3,349.9 L56.4,348.9 L54.3,348.0 L52.2,347.1 L50.0,346.1 L47.9,345.2 L45.7,344.2 L43.7,343.2 L41.8,342.1 L40.0,341.0 L38.5,339.9 L37.0,338.8 L35.5,337.7 L34.0,336.5 L32.6,335.4 L31.2,334.2 L29.8,332.9 L28.5,331.7 L27.3,330.3 L26.1,329.0 L25.0,327.5 L24.0,326.0 L23.0,324.3 L22.0,322.5 L21.0,320.5 L20.1,318.6 L19.3,316.5 L18.5,314.4 L17.9,312.3 L17.3,310.2 L16.8,308.1 L16.4,306.0 L16.1,304.0 L16.0,302.0 L16.0,300.2 L16.0,298.4 L16.2,296.5 L16.4,294.7 L16.8,292.9 L17.2,291.0 L17.7,289.2 L18.2,287.5 L18.8,285.8 L19.5,284.1 L20.2,282.5 L21.0,281.0 L21.8,279.6 L22.6,278.3 L23.5,276.9 L24.5,275.6 L25.5,274.4 L26.6,273.2 L27.7,272.0 L28.8,270.9 L30.1,269.9 L31.3,268.8 L32.6,267.9 L34.0,267.0 L35.6,266.1 L37.3,265.2 L39.1,264.4 L40.9,263.6 L42.8,263.0 L44.8,262.3 L46.8,261.8 L48.8,261.3 L50.8,260.9 L52.9,260.5 L55.0,260.2 L57.0,260.0Z" fill="none" stroke="#f3efdc" stroke-width="18"/><path d="M57.0,260.0 L59.2,259.8 L61.6,259.7 L64.0,259.7 L66.4,259.8 L68.8,259.9 L71.3,260.1 L73.7,260.4 L76.1,260.7 L78.5,261.2 L80.8,261.7 L82.9,262.3 L85.0,263.0 L86.7,263.7 L88.5,264.4 L90.1,265.2 L91.8,266.1 L93.4,267.0 L94.9,268.0 L96.4,269.0 L97.9,270.1 L99.3,271.3 L100.6,272.5 L101.8,273.7 L103.0,275.0 L104.1,276.3 L105.1,277.8 L106.1,279.3 L107.0,280.9 L107.8,282.6 L108.6,284.2 L109.3,285.9 L110.0,287.6 L110.6,289.3 L111.1,290.9 L111.6,292.5 L112.0,294.0 L112.3,295.1 L112.4,296.3 L112.5,297.4 L112.6,298.5 L112.6,299.6 L112.6,300.7 L112.6,301.7 L112.6,302.8 L112.6,303.9 L112.7,304.9 L112.8,306.0 L113.0,307.0 L113.3,308.0 L113.6,309.1 L113.9,310.1 L114.2,311.2 L114.6,312.2 L114.9,313.2 L115.4,314.2 L115.8,315.2 L116.4,316.2 L116.9,317.2 L117.5,318.2 L118.2,319.1 L119.1,320.2 L120.1,321.3 L121.1,322.4 L122.3,323.5 L123.5,324.6 L124.8,325.6 L126.1,326.6 L127.4,327.6 L128.7,328.6 L130.1,329.5 L131.4,330.4 L132.7,331.2 L134.0,332.0 L135.2,332.7 L136.5,333.4 L137.8,334.1 L139.2,334.7 L140.5,335.3 L141.8,335.9 L143.2,336.5 L144.5,337.0 L145.9,337.5 L147.2,338.0 L148.5,338.5 L149.7,338.9 L150.8,339.3 L152.0,339.7 L153.1,340.0 L154.2,340.3 L155.3,340.6 L156.5,340.9 L157.7,341.1 L158.9,341.4 L160.2,341.6 L161.5,341.9 L163.0,342.1 L165.5,342.4 L168.1,342.8 L170.9,343.0 L173.8,343.3 L176.9,343.5 L180.1,343.7 L183.3,343.8 L186.6,344.0 L190.0,344.1 L193.3,344.2 L196.7,344.2 L200.0,344.3 L203.9,344.3 L207.9,344.3 L212.0,344.2 L216.1,344.1 L220.3,344.0 L224.5,343.8 L228.8,343.6 L233.1,343.4 L237.3,343.2 L241.6,343.1 L245.8,342.9 L250.0,342.7 L254.2,342.5 L258.3,342.4 L262.5,342.2 L266.7,342.0 L270.8,341.9 L275.0,341.7 L279.2,341.5 L283.3,341.3 L287.5,341.1 L291.7,340.9 L295.8,340.7 L300.0,340.5 L304.2,340.3 L308.3,340.0 L312.5,339.8 L316.7,339.5 L320.8,339.3 L325.0,339.0 L329.2,338.8 L333.3,338.5 L337.5,338.2 L341.7,337.9 L345.8,337.6 L350.0,337.3 L354.2,337.0 L358.3,336.7 L362.5,336.3 L366.7,336.0 L370.8,335.6 L375.0,335.3 L379.2,334.9 L383.3,334.5 L387.5,334.2 L391.7,333.8 L395.8,333.4 L400.0,333.0 L404.1,332.6 L408.1,332.2 L412.1,331.8 L416.0,331.3 L420.0,330.9 L423.9,330.5 L427.9,330.0 L432.1,329.6 L436.3,329.1 L440.7,328.6 L445.2,328.2 L450.0,327.7 L457.1,327.0 L464.7,326.3 L472.6,325.6 L480.8,324.8 L489.2,324.0 L497.8,323.2 L506.6,322.5 L515.4,321.7 L524.2,321.0 L532.9,320.2 L541.6,319.6 L550.0,318.9 L558.4,318.3 L566.9,317.8 L575.4,317.3 L584.0,316.8 L592.6,316.4 L601.1,316.0 L609.6,315.5 L618.0,315.0 L626.3,314.5 L634.4,313.9 L642.3,313.3 L650.0,312.5 L656.4,311.8 L662.7,311.1 L669.0,310.4 L675.2,309.6 L681.3,308.8 L687.4,307.9 L693.3,307.1 L699.0,306.1 L704.6,305.2 L709.9,304.2 L715.1,303.1 L720.0,302.0 L723.4,301.2 L726.8,300.3 L730.2,299.4 L733.4,298.5 L736.6,297.6 L739.6,296.7 L742.6,295.7 L745.4,294.7 L748.1,293.7 L750.6,292.7 L752.9,291.6 L755.0,290.5 L756.2,289.8 L757.4,289.1 L758.4,288.4 L759.5,287.6 L760.4,286.9 L761.3,286.1 L762.2,285.4 L763.0,284.6 L763.8,283.8 L764.5,283.1 L765.3,282.3 L766.0,281.5 L766.6,280.8 L767.1,280.2 L767.6,279.5 L768.1,278.9 L768.5,278.2 L768.9,277.5 L769.4,276.8 L769.8,276.1 L770.2,275.5 L770.6,274.8 L771.0,274.1 L771.5,273.5 L771.9,272.9 L772.3,272.2 L772.7,271.6 L773.0,270.9 L773.4,270.3 L773.8,269.7 L774.2,269.0 L774.6,268.4 L775.1,267.9 L775.6,267.3 L776.3,266.8 L777.0,266.3 L778.6,265.5 L780.6,264.8 L782.8,264.1 L785.3,263.6 L787.9,263.1 L790.7,262.6 L793.5,262.3 L796.3,262.0 L799.1,261.7 L801.9,261.5 L804.4,261.4 L806.8,261.3 L808.6,261.3 L810.4,261.3 L812.1,261.3 L813.8,261.4 L815.5,261.6 L817.1,261.7 L818.8,261.9 L820.4,262.2 L822.0,262.4 L823.7,262.7 L825.3,262.9 L827.0,263.2 L828.8,263.5 L830.6,263.8 L832.5,264.1 L834.3,264.4 L836.2,264.8 L838.1,265.2 L839.9,265.6 L841.7,266.0 L843.4,266.4 L845.0,266.9 L846.6,267.4 L848.0,268.0 L849.0,268.4 L849.9,268.8 L850.8,269.2 L851.7,269.6 L852.5,270.1 L853.3,270.5 L854.0,271.0 L854.8,271.5 L855.5,272.1 L856.1,272.6 L856.7,273.3 L857.3,274.0 L857.9,274.9 L858.4,275.9 L858.9,276.9 L859.4,278.0 L859.8,279.2 L860.1,280.4 L860.5,281.7 L860.7,282.9 L860.9,284.1 L861.1,285.4 L861.3,286.6 L861.4,287.7 L861.5,288.7 L861.5,289.8 L861.6,290.8 L861.6,291.9 L861.5,292.9 L861.4,294.0 L861.3,295.0 L861.1,296.0 L860.9,297.0 L860.7,298.0 L860.4,299.0 L860.0,300.0 L859.5,301.1 L858.9,302.1 L858.2,303.1 L857.4,304.1 L856.6,305.1 L855.7,306.1 L854.8,307.1 L853.9,308.1 L853.0,309.1 L852.1,310.2 L851.3,311.2 L850.5,312.3 L849.7,313.5 L848.8,314.7 L848.0,315.9 L847.1,317.2 L846.2,318.4 L845.4,319.7 L844.6,321.0 L843.8,322.3 L843.1,323.6 L842.5,324.8 L841.9,326.1 L841.5,327.3 L841.2,328.3 L840.9,329.3 L840.7,330.3 L840.5,331.3 L840.4,332.3 L840.3,333.3 L840.2,334.3 L840.2,335.3 L840.2,336.2 L840.3,337.2 L840.4,338.1 L840.5,339.0 L840.7,339.8 L840.9,340.5 L841.1,341.2 L841.4,341.9 L841.8,342.6 L842.1,343.3 L842.5,344.0 L842.9,344.6 L843.3,345.4 L843.7,346.1 L844.2,346.9 L844.6,347.7 L845.3,349.0 L846.0,350.4 L846.9,351.8 L847.7,353.3 L848.7,354.9 L849.6,356.4 L850.5,358.0 L851.3,359.6 L852.1,361.2 L852.9,362.7 L853.5,364.1 L854.0,365.5 L854.3,366.5 L854.6,367.4 L854.8,368.3 L855.0,369.2 L855.2,370.1 L855.3,371.0 L855.4,371.8 L855.5,372.7 L855.6,373.6 L855.6,374.5 L855.5,375.4 L855.5,376.4 L855.4,377.6 L855.2,378.8 L855.1,380.1 L854.8,381.3 L854.5,382.6 L854.2,383.9 L853.8,385.2 L853.4,386.5 L853.0,387.8 L852.5,389.0 L852.0,390.2 L851.4,391.4 L850.8,392.5 L850.2,393.7 L849.6,394.9 L849.0,396.0 L848.3,397.1 L847.5,398.2 L846.7,399.3 L845.9,400.3 L845.0,401.2 L844.0,402.1 L842.9,403.0 L841.8,403.7 L840.1,404.5 L838.2,405.3 L836.1,405.8 L833.8,406.3 L831.4,406.7 L829.0,407.0 L826.5,407.2 L824.0,407.4 L821.5,407.5 L819.1,407.6 L816.8,407.7 L814.6,407.8 L812.8,407.9 L810.9,407.9 L809.1,407.9 L807.2,407.9 L805.4,407.9 L803.6,407.8 L801.8,407.7 L800.1,407.6 L798.5,407.3 L796.9,407.1 L795.4,406.8 L794.0,406.4 L793.1,406.1 L792.2,405.7 L791.4,405.3 L790.7,404.9 L790.0,404.4 L789.3,403.9 L788.6,403.4 L787.9,402.9 L787.1,402.4 L786.3,401.9 L785.5,401.5 L784.5,401.0 L782.9,400.3 L781.2,399.6 L779.5,398.8 L777.7,398.1 L775.7,397.3 L773.7,396.6 L771.6,395.8 L769.5,395.1 L767.2,394.4 L764.9,393.7 L762.5,393.1 L760.0,392.5 L755.9,391.7 L751.5,390.9 L746.8,390.2 L741.8,389.5 L736.7,388.9 L731.4,388.4 L726.0,387.8 L720.6,387.4 L715.3,386.9 L710.0,386.5 L704.9,386.0 L700.0,385.6 L695.7,385.2 L691.6,384.9 L687.6,384.5 L683.6,384.2 L679.7,384.0 L675.8,383.7 L671.8,383.5 L667.8,383.2 L663.6,383.0 L659.3,382.8 L654.8,382.7 L650.0,382.5 L642.9,382.3 L635.3,382.2 L627.4,382.1 L619.2,382.0 L610.8,381.9 L602.1,381.9 L593.4,382.0 L584.6,382.0 L575.8,382.1 L567.1,382.3 L558.4,382.4 L550.0,382.6 L541.6,382.8 L532.9,383.1 L524.2,383.4 L515.4,383.8 L506.6,384.1 L497.8,384.5 L489.2,385.0 L480.8,385.4 L472.6,385.8 L464.7,386.3 L457.1,386.7 L450.0,387.1 L445.2,387.4 L440.7,387.6 L436.3,387.9 L432.1,388.2 L427.9,388.4 L423.9,388.7 L420.0,389.0 L416.0,389.3 L412.1,389.6 L408.1,389.9 L404.1,390.2 L400.0,390.6 L395.8,391.0 L391.7,391.4 L387.5,391.9 L383.3,392.4 L379.2,392.8 L375.0,393.4 L370.8,393.9 L366.7,394.4 L362.5,394.9 L358.3,395.4 L354.2,395.9 L350.0,396.4 L345.8,396.9 L341.7,397.4 L337.6,397.9 L333.5,398.4 L329.4,398.9 L325.3,399.4 L321.2,399.9 L317.0,400.4 L312.8,400.9 L308.6,401.4 L304.3,401.9 L300.0,402.3 L295.1,402.8 L289.9,403.2 L284.6,403.6 L279.2,403.9 L273.8,404.3 L268.3,404.7 L263.0,405.0 L257.8,405.4 L252.9,405.7 L248.2,406.1 L243.9,406.6 L240.0,407.0 L238.0,407.3 L236.0,407.5 L234.2,407.8 L232.5,408.1 L230.9,408.4 L229.3,408.7 L227.8,409.0 L226.3,409.3 L224.7,409.6 L223.2,409.9 L221.6,410.2 L220.0,410.5 L218.3,410.8 L216.7,411.1 L215.0,411.5 L213.3,411.8 L211.7,412.2 L210.0,412.5 L208.3,412.9 L206.7,413.2 L205.0,413.5 L203.3,413.8 L201.7,414.1 L200.0,414.3 L198.3,414.5 L196.6,414.7 L194.8,414.9 L193.1,415.0 L191.3,415.1 L189.6,415.3 L187.9,415.4 L186.2,415.5 L184.5,415.6 L182.9,415.7 L181.4,415.9 L180.0,416.0 L179.0,416.1 L178.1,416.2 L177.3,416.3 L176.4,416.4 L175.6,416.5 L174.8,416.6 L174.0,416.7 L173.2,416.8 L172.4,416.9 L171.6,417.0 L170.8,417.1 L170.0,417.3 L169.2,417.5 L168.3,417.7 L167.5,417.8 L166.6,418.0 L165.8,418.2 L165.0,418.5 L164.1,418.7 L163.3,418.9 L162.5,419.2 L161.6,419.4 L160.8,419.7 L160.0,420.0 L159.2,420.3 L158.3,420.6 L157.5,421.0 L156.6,421.3 L155.8,421.7 L155.0,422.1 L154.1,422.5 L153.3,422.9 L152.5,423.3 L151.7,423.7 L150.8,424.1 L150.0,424.5 L149.2,424.9 L148.4,425.4 L147.6,425.8 L146.8,426.3 L146.0,426.8 L145.2,427.2 L144.4,427.7 L143.6,428.2 L142.8,428.7 L141.9,429.1 L141.0,429.6 L140.0,430.0 L138.6,430.6 L137.1,431.2 L135.5,431.8 L133.9,432.4 L132.2,433.0 L130.5,433.5 L128.7,434.1 L127.0,434.6 L125.2,435.1 L123.4,435.6 L121.7,436.0 L120.0,436.4 L118.3,436.7 L116.6,437.1 L114.9,437.4 L113.2,437.6 L111.4,437.9 L109.7,438.1 L108.0,438.3 L106.3,438.4 L104.6,438.5 L103.0,438.5 L101.5,438.5 L100.0,438.5 L98.9,438.4 L97.8,438.3 L96.8,438.2 L95.8,438.1 L94.8,437.9 L93.8,437.7 L92.9,437.5 L91.9,437.3 L91.0,437.0 L90.0,436.7 L89.0,436.4 L88.0,436.0 L86.8,435.5 L85.5,435.0 L84.2,434.5 L82.9,433.9 L81.6,433.3 L80.3,432.6 L79.0,431.9 L77.8,431.2 L76.5,430.4 L75.3,429.6 L74.1,428.8 L73.0,428.0 L71.9,427.1 L70.9,426.3 L69.9,425.3 L68.9,424.4 L67.9,423.4 L67.0,422.3 L66.1,421.3 L65.2,420.2 L64.3,419.2 L63.5,418.1 L62.7,417.1 L62.0,416.0 L61.3,415.0 L60.7,414.1 L60.1,413.1 L59.5,412.1 L58.9,411.1 L58.4,410.0 L57.9,409.0 L57.4,408.0 L57.0,407.0 L56.6,406.0 L56.3,405.0 L56.0,404.0 L55.8,403.1 L55.6,402.3 L55.4,401.4 L55.2,400.5 L55.0,399.6 L54.9,398.7 L54.9,397.8 L54.8,397.0 L54.9,396.2 L55.0,395.4 L55.2,394.7 L55.5,394.0 L55.9,393.4 L56.4,392.9 L57.1,392.4 L57.8,392.0 L58.6,391.6 L59.4,391.3 L60.2,390.9 L61.1,390.5 L61.9,390.1 L62.7,389.6 L63.4,389.1 L64.0,388.5 L64.7,387.7 L65.3,386.8 L66.0,385.9 L66.6,384.9 L67.2,383.8 L67.7,382.7 L68.2,381.6 L68.7,380.5 L69.1,379.3 L69.5,378.2 L69.8,377.1 L70.0,376.0 L70.2,374.9 L70.3,373.9 L70.4,372.8 L70.4,371.6 L70.3,370.5 L70.3,369.4 L70.1,368.3 L70.0,367.2 L69.8,366.1 L69.6,365.0 L69.3,364.0 L69.0,363.0 L68.7,362.1 L68.4,361.2 L68.0,360.3 L67.6,359.4 L67.2,358.6 L66.8,357.8 L66.3,356.9 L65.7,356.1 L65.1,355.3 L64.5,354.6 L63.8,353.8 L63.0,353.0 L61.7,351.9 L60.1,350.9 L58.3,349.9 L56.4,348.9 L54.3,348.0 L52.2,347.1 L50.0,346.1 L47.9,345.2 L45.7,344.2 L43.7,343.2 L41.8,342.1 L40.0,341.0 L38.5,339.9 L37.0,338.8 L35.5,337.7 L34.0,336.5 L32.6,335.4 L31.2,334.2 L29.8,332.9 L28.5,331.7 L27.3,330.3 L26.1,329.0 L25.0,327.5 L24.0,326.0 L23.0,324.3 L22.0,322.5 L21.0,320.5 L20.1,318.6 L19.3,316.5 L18.5,314.4 L17.9,312.3 L17.3,310.2 L16.8,308.1 L16.4,306.0 L16.1,304.0 L16.0,302.0 L16.0,300.2 L16.0,298.4 L16.2,296.5 L16.4,294.7 L16.8,292.9 L17.2,291.0 L17.7,289.2 L18.2,287.5 L18.8,285.8 L19.5,284.1 L20.2,282.5 L21.0,281.0 L21.8,279.6 L22.6,278.3 L23.5,276.9 L24.5,275.6 L25.5,274.4 L26.6,273.2 L27.7,272.0 L28.8,270.9 L30.1,269.9 L31.3,268.8 L32.6,267.9 L34.0,267.0 L35.6,266.1 L37.3,265.2 L39.1,264.4 L40.9,263.6 L42.8,263.0 L44.8,262.3 L46.8,261.8 L48.8,261.3 L50.8,260.9 L52.9,260.5 L55.0,260.2 L57.0,260.0Z" fill="none" stroke="#a89a7c" stroke-width="12.6"/><path d="M57.0,260.0 L59.2,259.8 L61.6,259.7 L64.0,259.7 L66.4,259.8 L68.8,259.9 L71.3,260.1 L73.7,260.4 L76.1,260.7 L78.5,261.2 L80.8,261.7 L82.9,262.3 L85.0,263.0 L86.7,263.7 L88.5,264.4 L90.1,265.2 L91.8,266.1 L93.4,267.0 L94.9,268.0 L96.4,269.0 L97.9,270.1 L99.3,271.3 L100.6,272.5 L101.8,273.7 L103.0,275.0 L104.1,276.3 L105.1,277.8 L106.1,279.3 L107.0,280.9 L107.8,282.6 L108.6,284.2 L109.3,285.9 L110.0,287.6 L110.6,289.3 L111.1,290.9 L111.6,292.5 L112.0,294.0 L112.3,295.1 L112.4,296.3 L112.5,297.4 L112.6,298.5 L112.6,299.6 L112.6,300.7 L112.6,301.7 L112.6,302.8 L112.6,303.9 L112.7,304.9 L112.8,306.0 L113.0,307.0 L113.3,308.0 L113.6,309.1 L113.9,310.1 L114.2,311.2 L114.6,312.2 L114.9,313.2 L115.4,314.2 L115.8,315.2 L116.4,316.2 L116.9,317.2 L117.5,318.2 L118.2,319.1 L119.1,320.2 L120.1,321.3 L121.1,322.4 L122.3,323.5 L123.5,324.6 L124.8,325.6 L126.1,326.6 L127.4,327.6 L128.7,328.6 L130.1,329.5 L131.4,330.4 L132.7,331.2 L134.0,332.0 L135.2,332.7 L136.5,333.4 L137.8,334.1 L139.2,334.7 L140.5,335.3 L141.8,335.9 L143.2,336.5 L144.5,337.0 L145.9,337.5 L147.2,338.0 L148.5,338.5 L149.7,338.9 L150.8,339.3 L152.0,339.7 L153.1,340.0 L154.2,340.3 L155.3,340.6 L156.5,340.9 L157.7,341.1 L158.9,341.4 L160.2,341.6 L161.5,341.9 L163.0,342.1 L165.5,342.4 L168.1,342.8 L170.9,343.0 L173.8,343.3 L176.9,343.5 L180.1,343.7 L183.3,343.8 L186.6,344.0 L190.0,344.1 L193.3,344.2 L196.7,344.2 L200.0,344.3 L203.9,344.3 L207.9,344.3 L212.0,344.2 L216.1,344.1 L220.3,344.0 L224.5,343.8 L228.8,343.6 L233.1,343.4 L237.3,343.2 L241.6,343.1 L245.8,342.9 L250.0,342.7 L254.2,342.5 L258.3,342.4 L262.5,342.2 L266.7,342.0 L270.8,341.9 L275.0,341.7 L279.2,341.5 L283.3,341.3 L287.5,341.1 L291.7,340.9 L295.8,340.7 L300.0,340.5 L304.2,340.3 L308.3,340.0 L312.5,339.8 L316.7,339.5 L320.8,339.3 L325.0,339.0 L329.2,338.8 L333.3,338.5 L337.5,338.2 L341.7,337.9 L345.8,337.6 L350.0,337.3 L354.2,337.0 L358.3,336.7 L362.5,336.3 L366.7,336.0 L370.8,335.6 L375.0,335.3 L379.2,334.9 L383.3,334.5 L387.5,334.2 L391.7,333.8 L395.8,333.4 L400.0,333.0 L404.1,332.6 L408.1,332.2 L412.1,331.8 L416.0,331.3 L420.0,330.9 L423.9,330.5 L427.9,330.0 L432.1,329.6 L436.3,329.1 L440.7,328.6 L445.2,328.2 L450.0,327.7 L457.1,327.0 L464.7,326.3 L472.6,325.6 L480.8,324.8 L489.2,324.0 L497.8,323.2 L506.6,322.5 L515.4,321.7 L524.2,321.0 L532.9,320.2 L541.6,319.6 L550.0,318.9 L558.4,318.3 L566.9,317.8 L575.4,317.3 L584.0,316.8 L592.6,316.4 L601.1,316.0 L609.6,315.5 L618.0,315.0 L626.3,314.5 L634.4,313.9 L642.3,313.3 L650.0,312.5 L656.4,311.8 L662.7,311.1 L669.0,310.4 L675.2,309.6 L681.3,308.8 L687.4,307.9 L693.3,307.1 L699.0,306.1 L704.6,305.2 L709.9,304.2 L715.1,303.1 L720.0,302.0 L723.4,301.2 L726.8,300.3 L730.2,299.4 L733.4,298.5 L736.6,297.6 L739.6,296.7 L742.6,295.7 L745.4,294.7 L748.1,293.7 L750.6,292.7 L752.9,291.6 L755.0,290.5 L756.2,289.8 L757.4,289.1 L758.4,288.4 L759.5,287.6 L760.4,286.9 L761.3,286.1 L762.2,285.4 L763.0,284.6 L763.8,283.8 L764.5,283.1 L765.3,282.3 L766.0,281.5 L766.6,280.8 L767.1,280.2 L767.6,279.5 L768.1,278.9 L768.5,278.2 L768.9,277.5 L769.4,276.8 L769.8,276.1 L770.2,275.5 L770.6,274.8 L771.0,274.1 L771.5,273.5 L771.9,272.9 L772.3,272.2 L772.7,271.6 L773.0,270.9 L773.4,270.3 L773.8,269.7 L774.2,269.0 L774.6,268.4 L775.1,267.9 L775.6,267.3 L776.3,266.8 L777.0,266.3 L778.6,265.5 L780.6,264.8 L782.8,264.1 L785.3,263.6 L787.9,263.1 L790.7,262.6 L793.5,262.3 L796.3,262.0 L799.1,261.7 L801.9,261.5 L804.4,261.4 L806.8,261.3 L808.6,261.3 L810.4,261.3 L812.1,261.3 L813.8,261.4 L815.5,261.6 L817.1,261.7 L818.8,261.9 L820.4,262.2 L822.0,262.4 L823.7,262.7 L825.3,262.9 L827.0,263.2 L828.8,263.5 L830.6,263.8 L832.5,264.1 L834.3,264.4 L836.2,264.8 L838.1,265.2 L839.9,265.6 L841.7,266.0 L843.4,266.4 L845.0,266.9 L846.6,267.4 L848.0,268.0 L849.0,268.4 L849.9,268.8 L850.8,269.2 L851.7,269.6 L852.5,270.1 L853.3,270.5 L854.0,271.0 L854.8,271.5 L855.5,272.1 L856.1,272.6 L856.7,273.3 L857.3,274.0 L857.9,274.9 L858.4,275.9 L858.9,276.9 L859.4,278.0 L859.8,279.2 L860.1,280.4 L860.5,281.7 L860.7,282.9 L860.9,284.1 L861.1,285.4 L861.3,286.6 L861.4,287.7 L861.5,288.7 L861.5,289.8 L861.6,290.8 L861.6,291.9 L861.5,292.9 L861.4,294.0 L861.3,295.0 L861.1,296.0 L860.9,297.0 L860.7,298.0 L860.4,299.0 L860.0,300.0 L859.5,301.1 L858.9,302.1 L858.2,303.1 L857.4,304.1 L856.6,305.1 L855.7,306.1 L854.8,307.1 L853.9,308.1 L853.0,309.1 L852.1,310.2 L851.3,311.2 L850.5,312.3 L849.7,313.5 L848.8,314.7 L848.0,315.9 L847.1,317.2 L846.2,318.4 L845.4,319.7 L844.6,321.0 L843.8,322.3 L843.1,323.6 L842.5,324.8 L841.9,326.1 L841.5,327.3 L841.2,328.3 L840.9,329.3 L840.7,330.3 L840.5,331.3 L840.4,332.3 L840.3,333.3 L840.2,334.3 L840.2,335.3 L840.2,336.2 L840.3,337.2 L840.4,338.1 L840.5,339.0 L840.7,339.8 L840.9,340.5 L841.1,341.2 L841.4,341.9 L841.8,342.6 L842.1,343.3 L842.5,344.0 L842.9,344.6 L843.3,345.4 L843.7,346.1 L844.2,346.9 L844.6,347.7 L845.3,349.0 L846.0,350.4 L846.9,351.8 L847.7,353.3 L848.7,354.9 L849.6,356.4 L850.5,358.0 L851.3,359.6 L852.1,361.2 L852.9,362.7 L853.5,364.1 L854.0,365.5 L854.3,366.5 L854.6,367.4 L854.8,368.3 L855.0,369.2 L855.2,370.1 L855.3,371.0 L855.4,371.8 L855.5,372.7 L855.6,373.6 L855.6,374.5 L855.5,375.4 L855.5,376.4 L855.4,377.6 L855.2,378.8 L855.1,380.1 L854.8,381.3 L854.5,382.6 L854.2,383.9 L853.8,385.2 L853.4,386.5 L853.0,387.8 L852.5,389.0 L852.0,390.2 L851.4,391.4 L850.8,392.5 L850.2,393.7 L849.6,394.9 L849.0,396.0 L848.3,397.1 L847.5,398.2 L846.7,399.3 L845.9,400.3 L845.0,401.2 L844.0,402.1 L842.9,403.0 L841.8,403.7 L840.1,404.5 L838.2,405.3 L836.1,405.8 L833.8,406.3 L831.4,406.7 L829.0,407.0 L826.5,407.2 L824.0,407.4 L821.5,407.5 L819.1,407.6 L816.8,407.7 L814.6,407.8 L812.8,407.9 L810.9,407.9 L809.1,407.9 L807.2,407.9 L805.4,407.9 L803.6,407.8 L801.8,407.7 L800.1,407.6 L798.5,407.3 L796.9,407.1 L795.4,406.8 L794.0,406.4 L793.1,406.1 L792.2,405.7 L791.4,405.3 L790.7,404.9 L790.0,404.4 L789.3,403.9 L788.6,403.4 L787.9,402.9 L787.1,402.4 L786.3,401.9 L785.5,401.5 L784.5,401.0 L782.9,400.3 L781.2,399.6 L779.5,398.8 L777.7,398.1 L775.7,397.3 L773.7,396.6 L771.6,395.8 L769.5,395.1 L767.2,394.4 L764.9,393.7 L762.5,393.1 L760.0,392.5 L755.9,391.7 L751.5,390.9 L746.8,390.2 L741.8,389.5 L736.7,388.9 L731.4,388.4 L726.0,387.8 L720.6,387.4 L715.3,386.9 L710.0,386.5 L704.9,386.0 L700.0,385.6 L695.7,385.2 L691.6,384.9 L687.6,384.5 L683.6,384.2 L679.7,384.0 L675.8,383.7 L671.8,383.5 L667.8,383.2 L663.6,383.0 L659.3,382.8 L654.8,382.7 L650.0,382.5 L642.9,382.3 L635.3,382.2 L627.4,382.1 L619.2,382.0 L610.8,381.9 L602.1,381.9 L593.4,382.0 L584.6,382.0 L575.8,382.1 L567.1,382.3 L558.4,382.4 L550.0,382.6 L541.6,382.8 L532.9,383.1 L524.2,383.4 L515.4,383.8 L506.6,384.1 L497.8,384.5 L489.2,385.0 L480.8,385.4 L472.6,385.8 L464.7,386.3 L457.1,386.7 L450.0,387.1 L445.2,387.4 L440.7,387.6 L436.3,387.9 L432.1,388.2 L427.9,388.4 L423.9,388.7 L420.0,389.0 L416.0,389.3 L412.1,389.6 L408.1,389.9 L404.1,390.2 L400.0,390.6 L395.8,391.0 L391.7,391.4 L387.5,391.9 L383.3,392.4 L379.2,392.8 L375.0,393.4 L370.8,393.9 L366.7,394.4 L362.5,394.9 L358.3,395.4 L354.2,395.9 L350.0,396.4 L345.8,396.9 L341.7,397.4 L337.6,397.9 L333.5,398.4 L329.4,398.9 L325.3,399.4 L321.2,399.9 L317.0,400.4 L312.8,400.9 L308.6,401.4 L304.3,401.9 L300.0,402.3 L295.1,402.8 L289.9,403.2 L284.6,403.6 L279.2,403.9 L273.8,404.3 L268.3,404.7 L263.0,405.0 L257.8,405.4 L252.9,405.7 L248.2,406.1 L243.9,406.6 L240.0,407.0 L238.0,407.3 L236.0,407.5 L234.2,407.8 L232.5,408.1 L230.9,408.4 L229.3,408.7 L227.8,409.0 L226.3,409.3 L224.7,409.6 L223.2,409.9 L221.6,410.2 L220.0,410.5 L218.3,410.8 L216.7,411.1 L215.0,411.5 L213.3,411.8 L211.7,412.2 L210.0,412.5 L208.3,412.9 L206.7,413.2 L205.0,413.5 L203.3,413.8 L201.7,414.1 L200.0,414.3 L198.3,414.5 L196.6,414.7 L194.8,414.9 L193.1,415.0 L191.3,415.1 L189.6,415.3 L187.9,415.4 L186.2,415.5 L184.5,415.6 L182.9,415.7 L181.4,415.9 L180.0,416.0 L179.0,416.1 L178.1,416.2 L177.3,416.3 L176.4,416.4 L175.6,416.5 L174.8,416.6 L174.0,416.7 L173.2,416.8 L172.4,416.9 L171.6,417.0 L170.8,417.1 L170.0,417.3 L169.2,417.5 L168.3,417.7 L167.5,417.8 L166.6,418.0 L165.8,418.2 L165.0,418.5 L164.1,418.7 L163.3,418.9 L162.5,419.2 L161.6,419.4 L160.8,419.7 L160.0,420.0 L159.2,420.3 L158.3,420.6 L157.5,421.0 L156.6,421.3 L155.8,421.7 L155.0,422.1 L154.1,422.5 L153.3,422.9 L152.5,423.3 L151.7,423.7 L150.8,424.1 L150.0,424.5 L149.2,424.9 L148.4,425.4 L147.6,425.8 L146.8,426.3 L146.0,426.8 L145.2,427.2 L144.4,427.7 L143.6,428.2 L142.8,428.7 L141.9,429.1 L141.0,429.6 L140.0,430.0 L138.6,430.6 L137.1,431.2 L135.5,431.8 L133.9,432.4 L132.2,433.0 L130.5,433.5 L128.7,434.1 L127.0,434.6 L125.2,435.1 L123.4,435.6 L121.7,436.0 L120.0,436.4 L118.3,436.7 L116.6,437.1 L114.9,437.4 L113.2,437.6 L111.4,437.9 L109.7,438.1 L108.0,438.3 L106.3,438.4 L104.6,438.5 L103.0,438.5 L101.5,438.5 L100.0,438.5 L98.9,438.4 L97.8,438.3 L96.8,438.2 L95.8,438.1 L94.8,437.9 L93.8,437.7 L92.9,437.5 L91.9,437.3 L91.0,437.0 L90.0,436.7 L89.0,436.4 L88.0,436.0 L86.8,435.5 L85.5,435.0 L84.2,434.5 L82.9,433.9 L81.6,433.3 L80.3,432.6 L79.0,431.9 L77.8,431.2 L76.5,430.4 L75.3,429.6 L74.1,428.8 L73.0,428.0 L71.9,427.1 L70.9,426.3 L69.9,425.3 L68.9,424.4 L67.9,423.4 L67.0,422.3 L66.1,421.3 L65.2,420.2 L64.3,419.2 L63.5,418.1 L62.7,417.1 L62.0,416.0 L61.3,415.0 L60.7,414.1 L60.1,413.1 L59.5,412.1 L58.9,411.1 L58.4,410.0 L57.9,409.0 L57.4,408.0 L57.0,407.0 L56.6,406.0 L56.3,405.0 L56.0,404.0 L55.8,403.1 L55.6,402.3 L55.4,401.4 L55.2,400.5 L55.0,399.6 L54.9,398.7 L54.9,397.8 L54.8,397.0 L54.9,396.2 L55.0,395.4 L55.2,394.7 L55.5,394.0 L55.9,393.4 L56.4,392.9 L57.1,392.4 L57.8,392.0 L58.6,391.6 L59.4,391.3 L60.2,390.9 L61.1,390.5 L61.9,390.1 L62.7,389.6 L63.4,389.1 L64.0,388.5 L64.7,387.7 L65.3,386.8 L66.0,385.9 L66.6,384.9 L67.2,383.8 L67.7,382.7 L68.2,381.6 L68.7,380.5 L69.1,379.3 L69.5,378.2 L69.8,377.1 L70.0,376.0 L70.2,374.9 L70.3,373.9 L70.4,372.8 L70.4,371.6 L70.3,370.5 L70.3,369.4 L70.1,368.3 L70.0,367.2 L69.8,366.1 L69.6,365.0 L69.3,364.0 L69.0,363.0 L68.7,362.1 L68.4,361.2 L68.0,360.3 L67.6,359.4 L67.2,358.6 L66.8,357.8 L66.3,356.9 L65.7,356.1 L65.1,355.3 L64.5,354.6 L63.8,353.8 L63.0,353.0 L61.7,351.9 L60.1,350.9 L58.3,349.9 L56.4,348.9 L54.3,348.0 L52.2,347.1 L50.0,346.1 L47.9,345.2 L45.7,344.2 L43.7,343.2 L41.8,342.1 L40.0,341.0 L38.5,339.9 L37.0,338.8 L35.5,337.7 L34.0,336.5 L32.6,335.4 L31.2,334.2 L29.8,332.9 L28.5,331.7 L27.3,330.3 L26.1,329.0 L25.0,327.5 L24.0,326.0 L23.0,324.3 L22.0,322.5 L21.0,320.5 L20.1,318.6 L19.3,316.5 L18.5,314.4 L17.9,312.3 L17.3,310.2 L16.8,308.1 L16.4,306.0 L16.1,304.0 L16.0,302.0 L16.0,300.2 L16.0,298.4 L16.2,296.5 L16.4,294.7 L16.8,292.9 L17.2,291.0 L17.7,289.2 L18.2,287.5 L18.8,285.8 L19.5,284.1 L20.2,282.5 L21.0,281.0 L21.8,279.6 L22.6,278.3 L23.5,276.9 L24.5,275.6 L25.5,274.4 L26.6,273.2 L27.7,272.0 L28.8,270.9 L30.1,269.9 L31.3,268.8 L32.6,267.9 L34.0,267.0 L35.6,266.1 L37.3,265.2 L39.1,264.4 L40.9,263.6 L42.8,263.0 L44.8,262.3 L46.8,261.8 L48.8,261.3 L50.8,260.9 L52.9,260.5 L55.0,260.2 L57.0,260.0Z" fill="none" stroke="#d6ceb5" stroke-width="11"/></g>
<path d="M57.0,260.0 L59.2,259.8 L61.6,259.7 L64.0,259.7 L66.4,259.8 L68.8,259.9 L71.3,260.1 L73.7,260.4 L76.1,260.7 L78.5,261.2 L80.8,261.7 L82.9,262.3 L85.0,263.0 L86.7,263.7 L88.5,264.4 L90.1,265.2 L91.8,266.1 L93.4,267.0 L94.9,268.0 L96.4,269.0 L97.9,270.1 L99.3,271.3 L100.6,272.5 L101.8,273.7 L103.0,275.0 L104.1,276.3 L105.1,277.8 L106.1,279.3 L107.0,280.9 L107.8,282.6 L108.6,284.2 L109.3,285.9 L110.0,287.6 L110.6,289.3 L111.1,290.9 L111.6,292.5 L112.0,294.0 L112.3,295.1 L112.4,296.3 L112.5,297.4 L112.6,298.5 L112.6,299.6 L112.6,300.7 L112.6,301.7 L112.6,302.8 L112.6,303.9 L112.7,304.9 L112.8,306.0 L113.0,307.0 L113.3,308.0 L113.6,309.1 L113.9,310.1 L114.2,311.2 L114.6,312.2 L114.9,313.2 L115.4,314.2 L115.8,315.2 L116.4,316.2 L116.9,317.2 L117.5,318.2 L118.2,319.1 L119.1,320.2 L120.1,321.3 L121.1,322.4 L122.3,323.5 L123.5,324.6 L124.8,325.6 L126.1,326.6 L127.4,327.6 L128.7,328.6 L130.1,329.5 L131.4,330.4 L132.7,331.2 L134.0,332.0 L135.2,332.7 L136.5,333.4 L137.8,334.1 L139.2,334.7 L140.5,335.3 L141.8,335.9 L143.2,336.5 L144.5,337.0 L145.9,337.5 L147.2,338.0 L148.5,338.5 L149.7,338.9 L150.8,339.3 L152.0,339.7 L153.1,340.0 L154.2,340.3 L155.3,340.6 L156.5,340.9 L157.7,341.1 L158.9,341.4 L160.2,341.6 L161.5,341.9 L163.0,342.1 L165.5,342.4 L168.1,342.8 L170.9,343.0 L173.8,343.3 L176.9,343.5 L180.1,343.7 L183.3,343.8 L186.6,344.0 L190.0,344.1 L193.3,344.2 L196.7,344.2 L200.0,344.3 L203.9,344.3 L207.9,344.3 L212.0,344.2 L216.1,344.1 L220.3,344.0 L224.5,343.8 L228.8,343.6 L233.1,343.4 L237.3,343.2 L241.6,343.1 L245.8,342.9 L250.0,342.7 L254.2,342.5 L258.3,342.4 L262.5,342.2 L266.7,342.0 L270.8,341.9 L275.0,341.7 L279.2,341.5 L283.3,341.3 L287.5,341.1 L291.7,340.9 L295.8,340.7 L300.0,340.5 L304.2,340.3 L308.3,340.0 L312.5,339.8 L316.7,339.5 L320.8,339.3 L325.0,339.0 L329.2,338.8 L333.3,338.5 L337.5,338.2 L341.7,337.9 L345.8,337.6 L350.0,337.3 L354.2,337.0 L358.3,336.7 L362.5,336.3 L366.7,336.0 L370.8,335.6 L375.0,335.3 L379.2,334.9 L383.3,334.5 L387.5,334.2 L391.7,333.8 L395.8,333.4 L400.0,333.0 L404.1,332.6 L408.1,332.2 L412.1,331.8 L416.0,331.3 L420.0,330.9 L423.9,330.5 L427.9,330.0 L432.1,329.6 L436.3,329.1 L440.7,328.6 L445.2,328.2 L450.0,327.7 L457.1,327.0 L464.7,326.3 L472.6,325.6 L480.8,324.8 L489.2,324.0 L497.8,323.2 L506.6,322.5 L515.4,321.7 L524.2,321.0 L532.9,320.2 L541.6,319.6 L550.0,318.9 L558.4,318.3 L566.9,317.8 L575.4,317.3 L584.0,316.8 L592.6,316.4 L601.1,316.0 L609.6,315.5 L618.0,315.0 L626.3,314.5 L634.4,313.9 L642.3,313.3 L650.0,312.5 L656.4,311.8 L662.7,311.1 L669.0,310.4 L675.2,309.6 L681.3,308.8 L687.4,307.9 L693.3,307.1 L699.0,306.1 L704.6,305.2 L709.9,304.2 L715.1,303.1 L720.0,302.0 L723.4,301.2 L726.8,300.3 L730.2,299.4 L733.4,298.5 L736.6,297.6 L739.6,296.7 L742.6,295.7 L745.4,294.7 L748.1,293.7 L750.6,292.7 L752.9,291.6 L755.0,290.5 L756.2,289.8 L757.4,289.1 L758.4,288.4 L759.5,287.6 L760.4,286.9 L761.3,286.1 L762.2,285.4 L763.0,284.6 L763.8,283.8 L764.5,283.1 L765.3,282.3 L766.0,281.5 L766.6,280.8 L767.1,280.2 L767.6,279.5 L768.1,278.9 L768.5,278.2 L768.9,277.5 L769.4,276.8 L769.8,276.1 L770.2,275.5 L770.6,274.8 L771.0,274.1 L771.5,273.5 L771.9,272.9 L772.3,272.2 L772.7,271.6 L773.0,270.9 L773.4,270.3 L773.8,269.7 L774.2,269.0 L774.6,268.4 L775.1,267.9 L775.6,267.3 L776.3,266.8 L777.0,266.3 L778.6,265.5 L780.6,264.8 L782.8,264.1 L785.3,263.6 L787.9,263.1 L790.7,262.6 L793.5,262.3 L796.3,262.0 L799.1,261.7 L801.9,261.5 L804.4,261.4 L806.8,261.3 L808.6,261.3 L810.4,261.3 L812.1,261.3 L813.8,261.4 L815.5,261.6 L817.1,261.7 L818.8,261.9 L820.4,262.2 L822.0,262.4 L823.7,262.7 L825.3,262.9 L827.0,263.2 L828.8,263.5 L830.6,263.8 L832.5,264.1 L834.3,264.4 L836.2,264.8 L838.1,265.2 L839.9,265.6 L841.7,266.0 L843.4,266.4 L845.0,266.9 L846.6,267.4 L848.0,268.0 L849.0,268.4 L849.9,268.8 L850.8,269.2 L851.7,269.6 L852.5,270.1 L853.3,270.5 L854.0,271.0 L854.8,271.5 L855.5,272.1 L856.1,272.6 L856.7,273.3 L857.3,274.0 L857.9,274.9 L858.4,275.9 L858.9,276.9 L859.4,278.0 L859.8,279.2 L860.1,280.4 L860.5,281.7 L860.7,282.9 L860.9,284.1 L861.1,285.4 L861.3,286.6 L861.4,287.7 L861.5,288.7 L861.5,289.8 L861.6,290.8 L861.6,291.9 L861.5,292.9 L861.4,294.0 L861.3,295.0 L861.1,296.0 L860.9,297.0 L860.7,298.0 L860.4,299.0 L860.0,300.0 L859.5,301.1 L858.9,302.1 L858.2,303.1 L857.4,304.1 L856.6,305.1 L855.7,306.1 L854.8,307.1 L853.9,308.1 L853.0,309.1 L852.1,310.2 L851.3,311.2 L850.5,312.3 L849.7,313.5 L848.8,314.7 L848.0,315.9 L847.1,317.2 L846.2,318.4 L845.4,319.7 L844.6,321.0 L843.8,322.3 L843.1,323.6 L842.5,324.8 L841.9,326.1 L841.5,327.3 L841.2,328.3 L840.9,329.3 L840.7,330.3 L840.5,331.3 L840.4,332.3 L840.3,333.3 L840.2,334.3 L840.2,335.3 L840.2,336.2 L840.3,337.2 L840.4,338.1 L840.5,339.0 L840.7,339.8 L840.9,340.5 L841.1,341.2 L841.4,341.9 L841.8,342.6 L842.1,343.3 L842.5,344.0 L842.9,344.6 L843.3,345.4 L843.7,346.1 L844.2,346.9 L844.6,347.7 L845.3,349.0 L846.0,350.4 L846.9,351.8 L847.7,353.3 L848.7,354.9 L849.6,356.4 L850.5,358.0 L851.3,359.6 L852.1,361.2 L852.9,362.7 L853.5,364.1 L854.0,365.5 L854.3,366.5 L854.6,367.4 L854.8,368.3 L855.0,369.2 L855.2,370.1 L855.3,371.0 L855.4,371.8 L855.5,372.7 L855.6,373.6 L855.6,374.5 L855.5,375.4 L855.5,376.4 L855.4,377.6 L855.2,378.8 L855.1,380.1 L854.8,381.3 L854.5,382.6 L854.2,383.9 L853.8,385.2 L853.4,386.5 L853.0,387.8 L852.5,389.0 L852.0,390.2 L851.4,391.4 L850.8,392.5 L850.2,393.7 L849.6,394.9 L849.0,396.0 L848.3,397.1 L847.5,398.2 L846.7,399.3 L845.9,400.3 L845.0,401.2 L844.0,402.1 L842.9,403.0 L841.8,403.7 L840.1,404.5 L838.2,405.3 L836.1,405.8 L833.8,406.3 L831.4,406.7 L829.0,407.0 L826.5,407.2 L824.0,407.4 L821.5,407.5 L819.1,407.6 L816.8,407.7 L814.6,407.8 L812.8,407.9 L810.9,407.9 L809.1,407.9 L807.2,407.9 L805.4,407.9 L803.6,407.8 L801.8,407.7 L800.1,407.6 L798.5,407.3 L796.9,407.1 L795.4,406.8 L794.0,406.4 L793.1,406.1 L792.2,405.7 L791.4,405.3 L790.7,404.9 L790.0,404.4 L789.3,403.9 L788.6,403.4 L787.9,402.9 L787.1,402.4 L786.3,401.9 L785.5,401.5 L784.5,401.0 L782.9,400.3 L781.2,399.6 L779.5,398.8 L777.7,398.1 L775.7,397.3 L773.7,396.6 L771.6,395.8 L769.5,395.1 L767.2,394.4 L764.9,393.7 L762.5,393.1 L760.0,392.5 L755.9,391.7 L751.5,390.9 L746.8,390.2 L741.8,389.5 L736.7,388.9 L731.4,388.4 L726.0,387.8 L720.6,387.4 L715.3,386.9 L710.0,386.5 L704.9,386.0 L700.0,385.6 L695.7,385.2 L691.6,384.9 L687.6,384.5 L683.6,384.2 L679.7,384.0 L675.8,383.7 L671.8,383.5 L667.8,383.2 L663.6,383.0 L659.3,382.8 L654.8,382.7 L650.0,382.5 L642.9,382.3 L635.3,382.2 L627.4,382.1 L619.2,382.0 L610.8,381.9 L602.1,381.9 L593.4,382.0 L584.6,382.0 L575.8,382.1 L567.1,382.3 L558.4,382.4 L550.0,382.6 L541.6,382.8 L532.9,383.1 L524.2,383.4 L515.4,383.8 L506.6,384.1 L497.8,384.5 L489.2,385.0 L480.8,385.4 L472.6,385.8 L464.7,386.3 L457.1,386.7 L450.0,387.1 L445.2,387.4 L440.7,387.6 L436.3,387.9 L432.1,388.2 L427.9,388.4 L423.9,388.7 L420.0,389.0 L416.0,389.3 L412.1,389.6 L408.1,389.9 L404.1,390.2 L400.0,390.6 L395.8,391.0 L391.7,391.4 L387.5,391.9 L383.3,392.4 L379.2,392.8 L375.0,393.4 L370.8,393.9 L366.7,394.4 L362.5,394.9 L358.3,395.4 L354.2,395.9 L350.0,396.4 L345.8,396.9 L341.7,397.4 L337.6,397.9 L333.5,398.4 L329.4,398.9 L325.3,399.4 L321.2,399.9 L317.0,400.4 L312.8,400.9 L308.6,401.4 L304.3,401.9 L300.0,402.3 L295.1,402.8 L289.9,403.2 L284.6,403.6 L279.2,403.9 L273.8,404.3 L268.3,404.7 L263.0,405.0 L257.8,405.4 L252.9,405.7 L248.2,406.1 L243.9,406.6 L240.0,407.0 L238.0,407.3 L236.0,407.5 L234.2,407.8 L232.5,408.1 L230.9,408.4 L229.3,408.7 L227.8,409.0 L226.3,409.3 L224.7,409.6 L223.2,409.9 L221.6,410.2 L220.0,410.5 L218.3,410.8 L216.7,411.1 L215.0,411.5 L213.3,411.8 L211.7,412.2 L210.0,412.5 L208.3,412.9 L206.7,413.2 L205.0,413.5 L203.3,413.8 L201.7,414.1 L200.0,414.3 L198.3,414.5 L196.6,414.7 L194.8,414.9 L193.1,415.0 L191.3,415.1 L189.6,415.3 L187.9,415.4 L186.2,415.5 L184.5,415.6 L182.9,415.7 L181.4,415.9 L180.0,416.0 L179.0,416.1 L178.1,416.2 L177.3,416.3 L176.4,416.4 L175.6,416.5 L174.8,416.6 L174.0,416.7 L173.2,416.8 L172.4,416.9 L171.6,417.0 L170.8,417.1 L170.0,417.3 L169.2,417.5 L168.3,417.7 L167.5,417.8 L166.6,418.0 L165.8,418.2 L165.0,418.5 L164.1,418.7 L163.3,418.9 L162.5,419.2 L161.6,419.4 L160.8,419.7 L160.0,420.0 L159.2,420.3 L158.3,420.6 L157.5,421.0 L156.6,421.3 L155.8,421.7 L155.0,422.1 L154.1,422.5 L153.3,422.9 L152.5,423.3 L151.7,423.7 L150.8,424.1 L150.0,424.5 L149.2,424.9 L148.4,425.4 L147.6,425.8 L146.8,426.3 L146.0,426.8 L145.2,427.2 L144.4,427.7 L143.6,428.2 L142.8,428.7 L141.9,429.1 L141.0,429.6 L140.0,430.0 L138.6,430.6 L137.1,431.2 L135.5,431.8 L133.9,432.4 L132.2,433.0 L130.5,433.5 L128.7,434.1 L127.0,434.6 L125.2,435.1 L123.4,435.6 L121.7,436.0 L120.0,436.4 L118.3,436.7 L116.6,437.1 L114.9,437.4 L113.2,437.6 L111.4,437.9 L109.7,438.1 L108.0,438.3 L106.3,438.4 L104.6,438.5 L103.0,438.5 L101.5,438.5 L100.0,438.5 L98.9,438.4 L97.8,438.3 L96.8,438.2 L95.8,438.1 L94.8,437.9 L93.8,437.7 L92.9,437.5 L91.9,437.3 L91.0,437.0 L90.0,436.7 L89.0,436.4 L88.0,436.0 L86.8,435.5 L85.5,435.0 L84.2,434.5 L82.9,433.9 L81.6,433.3 L80.3,432.6 L79.0,431.9 L77.8,431.2 L76.5,430.4 L75.3,429.6 L74.1,428.8 L73.0,428.0 L71.9,427.1 L70.9,426.3 L69.9,425.3 L68.9,424.4 L67.9,423.4 L67.0,422.3 L66.1,421.3 L65.2,420.2 L64.3,419.2 L63.5,418.1 L62.7,417.1 L62.0,416.0 L61.3,415.0 L60.7,414.1 L60.1,413.1 L59.5,412.1 L58.9,411.1 L58.4,410.0 L57.9,409.0 L57.4,408.0 L57.0,407.0 L56.6,406.0 L56.3,405.0 L56.0,404.0 L55.8,403.1 L55.6,402.3 L55.4,401.4 L55.2,400.5 L55.0,399.6 L54.9,398.7 L54.9,397.8 L54.8,397.0 L54.9,396.2 L55.0,395.4 L55.2,394.7 L55.5,394.0 L55.9,393.4 L56.4,392.9 L57.1,392.4 L57.8,392.0 L58.6,391.6 L59.4,391.3 L60.2,390.9 L61.1,390.5 L61.9,390.1 L62.7,389.6 L63.4,389.1 L64.0,388.5 L64.7,387.7 L65.3,386.8 L66.0,385.9 L66.6,384.9 L67.2,383.8 L67.7,382.7 L68.2,381.6 L68.7,380.5 L69.1,379.3 L69.5,378.2 L69.8,377.1 L70.0,376.0 L70.2,374.9 L70.3,373.9 L70.4,372.8 L70.4,371.6 L70.3,370.5 L70.3,369.4 L70.1,368.3 L70.0,367.2 L69.8,366.1 L69.6,365.0 L69.3,364.0 L69.0,363.0 L68.7,362.1 L68.4,361.2 L68.0,360.3 L67.6,359.4 L67.2,358.6 L66.8,357.8 L66.3,356.9 L65.7,356.1 L65.1,355.3 L64.5,354.6 L63.8,353.8 L63.0,353.0 L61.7,351.9 L60.1,350.9 L58.3,349.9 L56.4,348.9 L54.3,348.0 L52.2,347.1 L50.0,346.1 L47.9,345.2 L45.7,344.2 L43.7,343.2 L41.8,342.1 L40.0,341.0 L38.5,339.9 L37.0,338.8 L35.5,337.7 L34.0,336.5 L32.6,335.4 L31.2,334.2 L29.8,332.9 L28.5,331.7 L27.3,330.3 L26.1,329.0 L25.0,327.5 L24.0,326.0 L23.0,324.3 L22.0,322.5 L21.0,320.5 L20.1,318.6 L19.3,316.5 L18.5,314.4 L17.9,312.3 L17.3,310.2 L16.8,308.1 L16.4,306.0 L16.1,304.0 L16.0,302.0 L16.0,300.2 L16.0,298.4 L16.2,296.5 L16.4,294.7 L16.8,292.9 L17.2,291.0 L17.7,289.2 L18.2,287.5 L18.8,285.8 L19.5,284.1 L20.2,282.5 L21.0,281.0 L21.8,279.6 L22.6,278.3 L23.5,276.9 L24.5,275.6 L25.5,274.4 L26.6,273.2 L27.7,272.0 L28.8,270.9 L30.1,269.9 L31.3,268.8 L32.6,267.9 L34.0,267.0 L35.6,266.1 L37.3,265.2 L39.1,264.4 L40.9,263.6 L42.8,263.0 L44.8,262.3 L46.8,261.8 L48.8,261.3 L50.8,260.9 L52.9,260.5 L55.0,260.2 L57.0,260.0Z" fill="none" stroke="#86705a" stroke-width="1.6"/>
<path d="M63.0,353.0 L62.3,351.0 L61.0,349.3 L59.4,347.7 L57.6,346.3 L55.7,344.8 L53.8,343.5 L51.8,342.1 L49.8,340.8 L48.0,339.6 L46.3,338.3 L44.8,337.0 L43.5,335.7 L42.4,334.4 L41.0,333.3 L39.6,332.3 L38.2,331.2 L36.9,330.2 L35.7,329.1 L34.5,328.0 L33.4,326.9 L32.4,325.8 L31.4,324.7 L30.6,323.5 L29.7,322.3 L28.8,320.9 L28.0,319.3 L27.2,317.6 L26.4,315.9 L25.6,314.1 L25.0,312.2 L24.4,310.4 L23.9,308.5 L23.5,306.7 L23.1,305.0 L22.9,303.3 L22.8,301.7 L22.8,300.2 L22.8,298.8 L23.0,297.3 L23.2,295.7 L23.4,294.2 L23.8,292.7 L24.2,291.1 L24.7,289.7 L25.2,288.2 L25.8,286.8 L26.4,285.5 L27.0,284.2 L27.6,283.1 L28.3,282.0 L29.1,280.9 L29.8,279.8 L30.7,278.8 L31.6,277.8 L32.5,276.9 L33.4,275.9 L34.4,275.1 L35.4,274.3 L36.5,273.5 L37.6,272.8 L38.9,272.0 L40.3,271.3 L41.8,270.6 L43.3,270.0 L45.0,269.4 L46.7,268.9 L48.5,268.4 L50.3,267.9 L52.1,267.6 L54.0,267.2 L55.8,267.0 L57.6,266.8 L59.6,266.6 L61.7,266.5 L63.9,266.5 L66.1,266.6 L68.4,266.7 L70.6,266.9 L72.8,267.1 L75.0,267.5 L77.1,267.8 L79.1,268.3 L81.0,268.8 L82.8,269.4 L84.2,270.0 L85.6,270.6 L87.1,271.3 L88.5,272.0 L89.9,272.8 L91.2,273.7 L92.4,274.5 L93.7,275.5 L94.8,276.4 L95.9,277.4 L96.9,278.4 L97.8,279.4 L98.7,280.4 L99.8,281.3 L100.9,282.4 L102.0,283.6 L103.1,284.8 L104.2,286.2 L105.3,287.6 L106.3,289.0 L107.3,290.4 L108.3,291.8 L109.3,293.2 L110.2,294.4 L111.2,295.4 L112.4,296.3 L112.3,295.1 L112.0,294.0 L111.6,292.5 L111.1,290.9 L110.6,289.3 L110.0,287.6 L109.3,285.9 L108.6,284.2 L107.8,282.6 L107.0,280.9 L106.1,279.3 L105.1,277.8 L104.1,276.3 L103.0,275.0 L101.8,273.7 L100.6,272.5 L99.3,271.3 L97.9,270.1 L96.4,269.0 L94.9,268.0 L93.4,267.0 L91.8,266.1 L90.1,265.2 L88.5,264.4 L86.7,263.7 L85.0,263.0 L82.9,262.3 L80.8,261.7 L78.5,261.2 L76.1,260.7 L73.7,260.4 L71.3,260.1 L68.8,259.9 L66.4,259.8 L64.0,259.7 L61.6,259.7 L59.2,259.8 L57.0,260.0 L55.0,260.2 L52.9,260.5 L50.8,260.9 L48.8,261.3 L46.8,261.8 L44.8,262.3 L42.8,263.0 L40.9,263.6 L39.1,264.4 L37.3,265.2 L35.6,266.1 L34.0,267.0 L32.6,267.9 L31.3,268.8 L30.1,269.9 L28.8,270.9 L27.7,272.0 L26.6,273.2 L25.5,274.4 L24.5,275.6 L23.5,276.9 L22.6,278.3 L21.8,279.6 L21.0,281.0 L20.2,282.5 L19.5,284.1 L18.8,285.8 L18.2,287.5 L17.7,289.2 L17.2,291.0 L16.8,292.9 L16.4,294.7 L16.2,296.5 L16.0,298.4 L16.0,300.2 L16.0,302.0 L16.1,304.0 L16.4,306.0 L16.8,308.1 L17.3,310.2 L17.9,312.3 L18.5,314.4 L19.3,316.5 L20.1,318.6 L21.0,320.5 L22.0,322.5 L23.0,324.3 L24.0,326.0 L25.0,327.5 L26.1,329.0 L27.3,330.3 L28.5,331.7 L29.8,332.9 L31.2,334.2 L32.6,335.4 L34.0,336.5 L35.5,337.7 L37.0,338.8 L38.5,339.9 L40.0,341.0 L41.8,342.1 L43.7,343.2 L45.7,344.2 L47.9,345.2 L50.0,346.1 L52.2,347.1 L54.3,348.0 L56.4,348.9 L58.3,349.9 L60.1,350.9 L61.7,351.9 L63.0,353.0Z" fill="#c4dcf0"/>
<path d="M63.0,353.0 L62.3,351.0 L61.0,349.3 L59.4,347.7 L57.6,346.3 L55.7,344.8 L53.8,343.5 L51.8,342.1 L49.8,340.8 L48.0,339.6 L46.3,338.3 L44.8,337.0 L43.5,335.7 L42.4,334.4 L41.0,333.3 L39.6,332.3 L38.2,331.2 L36.9,330.2 L35.7,329.1 L34.5,328.0 L33.4,326.9 L32.4,325.8 L31.4,324.7 L30.6,323.5 L29.7,322.3 L28.8,320.9 L28.0,319.3 L27.2,317.6 L26.4,315.9 L25.6,314.1 L25.0,312.2 L24.4,310.4 L23.9,308.5 L23.5,306.7 L23.1,305.0 L22.9,303.3 L22.8,301.7 L22.8,300.2 L22.8,298.8 L23.0,297.3 L23.2,295.7 L23.4,294.2 L23.8,292.7 L24.2,291.1 L24.7,289.7 L25.2,288.2 L25.8,286.8 L26.4,285.5 L27.0,284.2 L27.6,283.1 L28.3,282.0 L29.1,280.9 L29.8,279.8 L30.7,278.8 L31.6,277.8 L32.5,276.9 L33.4,275.9 L34.4,275.1 L35.4,274.3 L36.5,273.5 L37.6,272.8 L38.9,272.0 L40.3,271.3 L41.8,270.6 L43.3,270.0 L45.0,269.4 L46.7,268.9 L48.5,268.4 L50.3,267.9 L52.1,267.6 L54.0,267.2 L55.8,267.0 L57.6,266.8 L59.6,266.6 L61.7,266.5 L63.9,266.5 L66.1,266.6 L68.4,266.7 L70.6,266.9 L72.8,267.1 L75.0,267.5 L77.1,267.8 L79.1,268.3 L81.0,268.8 L82.8,269.4 L84.2,270.0 L85.6,270.6 L87.1,271.3 L88.5,272.0 L89.9,272.8 L91.2,273.7 L92.4,274.5 L93.7,275.5 L94.8,276.4 L95.9,277.4 L96.9,278.4 L97.8,279.4 L98.7,280.4 L99.8,281.3 L100.9,282.4 L102.0,283.6 L103.1,284.8 L104.2,286.2 L105.3,287.6 L106.3,289.0 L107.3,290.4 L108.3,291.8 L109.3,293.2 L110.2,294.4 L111.2,295.4 L112.4,296.3" fill="none" stroke="#2187b2" stroke-width="1.5" stroke-linecap="round"/>
<path d="M63.0,353.0 L61.7,351.9 L60.1,350.9 L58.3,349.9 L56.4,348.9 L54.3,348.0 L52.2,347.1 L50.0,346.1 L47.9,345.2 L45.7,344.2 L43.7,343.2 L41.8,342.1 L40.0,341.0 L38.5,339.9 L37.0,338.8 L35.5,337.7 L34.0,336.5 L32.6,335.4 L31.2,334.2 L29.8,332.9 L28.5,331.7 L27.3,330.3 L26.1,329.0 L25.0,327.5 L24.0,326.0 L23.0,324.3 L22.0,322.5 L21.0,320.5 L20.1,318.6 L19.3,316.5 L18.5,314.4 L17.9,312.3 L17.3,310.2 L16.8,308.1 L16.4,306.0 L16.1,304.0 L16.0,302.0 L16.0,300.2 L16.0,298.4 L16.2,296.5 L16.4,294.7 L16.8,292.9 L17.2,291.0 L17.7,289.2 L18.2,287.5 L18.8,285.8 L19.5,284.1 L20.2,282.5 L21.0,281.0 L21.8,279.6 L22.6,278.3 L23.5,276.9 L24.5,275.6 L25.5,274.4 L26.6,273.2 L27.7,272.0 L28.8,270.9 L30.1,269.9 L31.3,268.8 L32.6,267.9 L34.0,267.0 L35.6,266.1 L37.3,265.2 L39.1,264.4 L40.9,263.6 L42.8,263.0 L44.8,262.3 L46.8,261.8 L48.8,261.3 L50.8,260.9 L52.9,260.5 L55.0,260.2 L57.0,260.0 L59.2,259.8 L61.6,259.7 L64.0,259.7 L66.4,259.8 L68.8,259.9 L71.3,260.1 L73.7,260.4 L76.1,260.7 L78.5,261.2 L80.8,261.7 L82.9,262.3 L85.0,263.0 L86.7,263.7 L88.5,264.4 L90.1,265.2 L91.8,266.1 L93.4,267.0 L94.9,268.0 L96.4,269.0 L97.9,270.1 L99.3,271.3 L100.6,272.5 L101.8,273.7 L103.0,275.0 L104.1,276.3 L105.1,277.8 L106.1,279.3 L107.0,280.9 L107.8,282.6 L108.6,284.2 L109.3,285.9 L110.0,287.6 L110.6,289.3 L111.1,290.9 L111.6,292.5 L112.0,294.0 L112.3,295.1 L112.4,296.3" fill="none" stroke="#1a7097" stroke-width="2.2" stroke-linecap="round"/>
<path d="M776.3,266.8 L777.5,267.3 L779.3,267.2 L781.3,267.1 L783.5,267.0 L786.0,267.0 L788.6,267.0 L791.3,267.0 L794.1,267.1 L796.9,267.3 L799.6,267.4 L802.3,267.7 L804.8,267.9 L807.0,267.9 L808.7,267.9 L810.3,267.9 L811.8,268.0 L813.3,268.1 L814.9,268.2 L816.4,268.4 L817.9,268.6 L819.5,268.8 L821.0,269.1 L822.6,269.3 L824.3,269.6 L825.9,269.9 L827.7,270.2 L829.5,270.5 L831.3,270.8 L833.1,271.1 L834.9,271.5 L836.7,271.9 L838.4,272.2 L840.0,272.6 L841.5,273.1 L842.9,273.5 L844.3,274.0 L845.5,274.5 L846.3,274.8 L847.1,275.2 L847.8,275.5 L848.5,275.9 L849.1,276.2 L849.7,276.5 L850.2,276.8 L850.6,277.1 L850.9,277.4 L851.2,277.7 L851.4,277.9 L851.6,278.1 L851.9,278.6 L852.2,279.1 L852.4,279.8 L852.7,280.5 L853.0,281.4 L853.3,282.3 L853.5,283.3 L853.7,284.3 L853.9,285.3 L854.0,286.4 L854.1,287.4 L854.2,288.4 L854.3,289.2 L854.3,290.1 L854.3,290.9 L854.3,291.7 L854.2,292.5 L854.1,293.2 L854.0,294.0 L853.9,294.7 L853.7,295.3 L853.5,296.0 L853.3,296.5 L853.1,297.0 L852.8,297.6 L852.5,298.1 L852.0,298.7 L851.5,299.4 L850.8,300.2 L850.0,301.1 L849.1,302.0 L848.1,303.0 L847.1,304.1 L846.1,305.3 L845.1,306.5 L844.2,307.7 L843.3,309.0 L842.4,310.2 L841.5,311.4 L840.6,312.7 L839.6,314.0 L838.7,315.4 L837.8,316.8 L836.9,318.3 L836.0,319.9 L835.3,321.5 L834.6,323.1 L834.0,324.7 L833.6,326.1 L833.2,327.4 L832.9,328.7 L832.7,330.0 L832.5,331.3 L832.4,332.7 L832.3,334.0 L832.3,335.3 L832.3,336.5 L832.4,337.8 L832.6,339.1 L832.8,340.4 L833.1,341.7 L833.4,342.9 L833.9,344.1 L834.3,345.1 L834.8,346.1 L835.3,347.0 L835.7,347.8 L836.2,348.5 L836.6,349.2 L837.0,349.8 L837.4,350.5 L837.8,351.3 L838.5,352.7 L839.3,354.1 L840.2,355.6 L841.1,357.2 L842.0,358.7 L842.9,360.2 L843.8,361.7 L844.6,363.2 L845.3,364.5 L845.9,365.8 L846.4,367.0 L846.8,368.1 L847.1,368.7 L847.3,369.4 L847.4,370.1 L847.6,370.8 L847.7,371.4 L847.9,372.0 L847.9,372.6 L848.0,373.2 L848.0,373.9 L848.1,374.5 L848.1,375.2 L848.1,375.9 L848.1,376.8 L848.1,377.8 L848.0,378.8 L847.9,379.9 L847.7,381.0 L847.5,382.1 L847.3,383.3 L847.0,384.4 L846.7,385.5 L846.4,386.5 L846.0,387.6 L845.6,388.6 L845.2,389.7 L844.7,390.8 L844.2,391.8 L843.7,392.9 L843.2,393.9 L842.7,394.8 L842.2,395.6 L841.6,396.4 L841.0,397.2 L840.4,397.8 L839.9,398.4 L839.2,398.9 L838.0,399.5 L836.5,400.1 L834.8,400.6 L832.8,401.1 L830.7,401.4 L828.4,401.7 L826.1,402.0 L823.7,402.2 L821.3,402.3 L818.9,402.4 L816.6,402.5 L814.4,402.7 L812.6,402.7 L810.8,402.8 L809.0,402.9 L807.3,402.9 L805.5,402.9 L803.8,402.8 L802.2,402.8 L800.7,402.6 L799.2,402.5 L797.8,402.3 L796.5,402.1 L795.3,401.8 L794.6,401.9 L793.9,402.0 L793.2,402.0 L792.5,401.9 L791.7,401.8 L790.9,401.6 L790.0,401.4 L789.0,401.2 L788.0,401.0 L787.0,400.8 L785.8,400.8 L784.5,401.0 L785.5,401.5 L786.3,401.9 L787.1,402.4 L787.9,402.9 L788.6,403.4 L789.3,403.9 L790.0,404.4 L790.7,404.9 L791.4,405.3 L792.2,405.7 L793.1,406.1 L794.0,406.4 L795.4,406.8 L796.9,407.1 L798.5,407.3 L800.1,407.6 L801.8,407.7 L803.6,407.8 L805.4,407.9 L807.2,407.9 L809.1,407.9 L810.9,407.9 L812.8,407.9 L814.6,407.8 L816.8,407.7 L819.1,407.6 L821.5,407.5 L824.0,407.4 L826.5,407.2 L829.0,407.0 L831.4,406.7 L833.8,406.3 L836.1,405.8 L838.2,405.3 L840.1,404.5 L841.8,403.7 L842.9,403.0 L844.0,402.1 L845.0,401.2 L845.9,400.3 L846.7,399.3 L847.5,398.2 L848.3,397.1 L849.0,396.0 L849.6,394.9 L850.2,393.7 L850.8,392.5 L851.4,391.4 L852.0,390.2 L852.5,389.0 L853.0,387.8 L853.4,386.5 L853.8,385.2 L854.2,383.9 L854.5,382.6 L854.8,381.3 L855.1,380.1 L855.2,378.8 L855.4,377.6 L855.5,376.4 L855.5,375.4 L855.6,374.5 L855.6,373.6 L855.5,372.7 L855.4,371.8 L855.3,371.0 L855.2,370.1 L855.0,369.2 L854.8,368.3 L854.6,367.4 L854.3,366.5 L854.0,365.5 L853.5,364.1 L852.9,362.7 L852.1,361.2 L851.3,359.6 L850.5,358.0 L849.6,356.4 L848.7,354.9 L847.7,353.3 L846.9,351.8 L846.0,350.4 L845.3,349.0 L844.6,347.7 L844.2,346.9 L843.7,346.1 L843.3,345.4 L842.9,344.6 L842.5,344.0 L842.1,343.3 L841.8,342.6 L841.4,341.9 L841.1,341.2 L840.9,340.5 L840.7,339.8 L840.5,339.0 L840.4,338.1 L840.3,337.2 L840.2,336.2 L840.2,335.3 L840.2,334.3 L840.3,333.3 L840.4,332.3 L840.5,331.3 L840.7,330.3 L840.9,329.3 L841.2,328.3 L841.5,327.3 L841.9,326.1 L842.5,324.8 L843.1,323.6 L843.8,322.3 L844.6,321.0 L845.4,319.7 L846.2,318.4 L847.1,317.2 L848.0,315.9 L848.8,314.7 L849.7,313.5 L850.5,312.3 L851.3,311.2 L852.1,310.2 L853.0,309.1 L853.9,308.1 L854.8,307.1 L855.7,306.1 L856.6,305.1 L857.4,304.1 L858.2,303.1 L858.9,302.1 L859.5,301.1 L860.0,300.0 L860.4,299.0 L860.7,298.0 L860.9,297.0 L861.1,296.0 L861.3,295.0 L861.4,294.0 L861.5,292.9 L861.6,291.9 L861.6,290.8 L861.5,289.8 L861.5,288.7 L861.4,287.7 L861.3,286.6 L861.1,285.4 L860.9,284.1 L860.7,282.9 L860.5,281.7 L860.1,280.4 L859.8,279.2 L859.4,278.0 L858.9,276.9 L858.4,275.9 L857.9,274.9 L857.3,274.0 L856.7,273.3 L856.1,272.6 L855.5,272.1 L854.8,271.5 L854.0,271.0 L853.3,270.5 L852.5,270.1 L851.7,269.6 L850.8,269.2 L849.9,268.8 L849.0,268.4 L848.0,268.0 L846.6,267.4 L845.0,266.9 L843.4,266.4 L841.7,266.0 L839.9,265.6 L838.1,265.2 L836.2,264.8 L834.3,264.4 L832.5,264.1 L830.6,263.8 L828.8,263.5 L827.0,263.2 L825.3,262.9 L823.7,262.7 L822.0,262.4 L820.4,262.2 L818.8,261.9 L817.1,261.7 L815.5,261.6 L813.8,261.4 L812.1,261.3 L810.4,261.3 L808.6,261.3 L806.8,261.3 L804.4,261.4 L801.9,261.5 L799.1,261.7 L796.3,262.0 L793.5,262.3 L790.7,262.6 L787.9,263.1 L785.3,263.6 L782.8,264.1 L780.6,264.8 L778.6,265.5 L777.0,266.3 L776.3,266.8Z" fill="#c4dcf0"/>
<path d="M776.3,266.8 L777.5,267.3 L779.3,267.2 L781.3,267.1 L783.5,267.0 L786.0,267.0 L788.6,267.0 L791.3,267.0 L794.1,267.1 L796.9,267.3 L799.6,267.4 L802.3,267.7 L804.8,267.9 L807.0,267.9 L808.7,267.9 L810.3,267.9 L811.8,268.0 L813.3,268.1 L814.9,268.2 L816.4,268.4 L817.9,268.6 L819.5,268.8 L821.0,269.1 L822.6,269.3 L824.3,269.6 L825.9,269.9 L827.7,270.2 L829.5,270.5 L831.3,270.8 L833.1,271.1 L834.9,271.5 L836.7,271.9 L838.4,272.2 L840.0,272.6 L841.5,273.1 L842.9,273.5 L844.3,274.0 L845.5,274.5 L846.3,274.8 L847.1,275.2 L847.8,275.5 L848.5,275.9 L849.1,276.2 L849.7,276.5 L850.2,276.8 L850.6,277.1 L850.9,277.4 L851.2,277.7 L851.4,277.9 L851.6,278.1 L851.9,278.6 L852.2,279.1 L852.4,279.8 L852.7,280.5 L853.0,281.4 L853.3,282.3 L853.5,283.3 L853.7,284.3 L853.9,285.3 L854.0,286.4 L854.1,287.4 L854.2,288.4 L854.3,289.2 L854.3,290.1 L854.3,290.9 L854.3,291.7 L854.2,292.5 L854.1,293.2 L854.0,294.0 L853.9,294.7 L853.7,295.3 L853.5,296.0 L853.3,296.5 L853.1,297.0 L852.8,297.6 L852.5,298.1 L852.0,298.7 L851.5,299.4 L850.8,300.2 L850.0,301.1 L849.1,302.0 L848.1,303.0 L847.1,304.1 L846.1,305.3 L845.1,306.5 L844.2,307.7 L843.3,309.0 L842.4,310.2 L841.5,311.4 L840.6,312.7 L839.6,314.0 L838.7,315.4 L837.8,316.8 L836.9,318.3 L836.0,319.9 L835.3,321.5 L834.6,323.1 L834.0,324.7 L833.6,326.1 L833.2,327.4 L832.9,328.7 L832.7,330.0 L832.5,331.3 L832.4,332.7 L832.3,334.0 L832.3,335.3 L832.3,336.5 L832.4,337.8 L832.6,339.1 L832.8,340.4 L833.1,341.7 L833.4,342.9 L833.9,344.1 L834.3,345.1 L834.8,346.1 L835.3,347.0 L835.7,347.8 L836.2,348.5 L836.6,349.2 L837.0,349.8 L837.4,350.5 L837.8,351.3 L838.5,352.7 L839.3,354.1 L840.2,355.6 L841.1,357.2 L842.0,358.7 L842.9,360.2 L843.8,361.7 L844.6,363.2 L845.3,364.5 L845.9,365.8 L846.4,367.0 L846.8,368.1 L847.1,368.7 L847.3,369.4 L847.4,370.1 L847.6,370.8 L847.7,371.4 L847.9,372.0 L847.9,372.6 L848.0,373.2 L848.0,373.9 L848.1,374.5 L848.1,375.2 L848.1,375.9 L848.1,376.8 L848.1,377.8 L848.0,378.8 L847.9,379.9 L847.7,381.0 L847.5,382.1 L847.3,383.3 L847.0,384.4 L846.7,385.5 L846.4,386.5 L846.0,387.6 L845.6,388.6 L845.2,389.7 L844.7,390.8 L844.2,391.8 L843.7,392.9 L843.2,393.9 L842.7,394.8 L842.2,395.6 L841.6,396.4 L841.0,397.2 L840.4,397.8 L839.9,398.4 L839.2,398.9 L838.0,399.5 L836.5,400.1 L834.8,400.6 L832.8,401.1 L830.7,401.4 L828.4,401.7 L826.1,402.0 L823.7,402.2 L821.3,402.3 L818.9,402.4 L816.6,402.5 L814.4,402.7 L812.6,402.7 L810.8,402.8 L809.0,402.9 L807.3,402.9 L805.5,402.9 L803.8,402.8 L802.2,402.8 L800.7,402.6 L799.2,402.5 L797.8,402.3 L796.5,402.1 L795.3,401.8 L794.6,401.9 L793.9,402.0 L793.2,402.0 L792.5,401.9 L791.7,401.8 L790.9,401.6 L790.0,401.4 L789.0,401.2 L788.0,401.0 L787.0,400.8 L785.8,400.8 L784.5,401.0" fill="none" stroke="#2187b2" stroke-width="1.5" stroke-linecap="round"/>
<path d="M776.3,266.8 L777.0,266.3 L778.6,265.5 L780.6,264.8 L782.8,264.1 L785.3,263.6 L787.9,263.1 L790.7,262.6 L793.5,262.3 L796.3,262.0 L799.1,261.7 L801.9,261.5 L804.4,261.4 L806.8,261.3 L808.6,261.3 L810.4,261.3 L812.1,261.3 L813.8,261.4 L815.5,261.6 L817.1,261.7 L818.8,261.9 L820.4,262.2 L822.0,262.4 L823.7,262.7 L825.3,262.9 L827.0,263.2 L828.8,263.5 L830.6,263.8 L832.5,264.1 L834.3,264.4 L836.2,264.8 L838.1,265.2 L839.9,265.6 L841.7,266.0 L843.4,266.4 L845.0,266.9 L846.6,267.4 L848.0,268.0 L849.0,268.4 L849.9,268.8 L850.8,269.2 L851.7,269.6 L852.5,270.1 L853.3,270.5 L854.0,271.0 L854.8,271.5 L855.5,272.1 L856.1,272.6 L856.7,273.3 L857.3,274.0 L857.9,274.9 L858.4,275.9 L858.9,276.9 L859.4,278.0 L859.8,279.2 L860.1,280.4 L860.5,281.7 L860.7,282.9 L860.9,284.1 L861.1,285.4 L861.3,286.6 L861.4,287.7 L861.5,288.7 L861.5,289.8 L861.6,290.8 L861.6,291.9 L861.5,292.9 L861.4,294.0 L861.3,295.0 L861.1,296.0 L860.9,297.0 L860.7,298.0 L860.4,299.0 L860.0,300.0 L859.5,301.1 L858.9,302.1 L858.2,303.1 L857.4,304.1 L856.6,305.1 L855.7,306.1 L854.8,307.1 L853.9,308.1 L853.0,309.1 L852.1,310.2 L851.3,311.2 L850.5,312.3 L849.7,313.5 L848.8,314.7 L848.0,315.9 L847.1,317.2 L846.2,318.4 L845.4,319.7 L844.6,321.0 L843.8,322.3 L843.1,323.6 L842.5,324.8 L841.9,326.1 L841.5,327.3 L841.2,328.3 L840.9,329.3 L840.7,330.3 L840.5,331.3 L840.4,332.3 L840.3,333.3 L840.2,334.3 L840.2,335.3 L840.2,336.2 L840.3,337.2 L840.4,338.1 L840.5,339.0 L840.7,339.8 L840.9,340.5 L841.1,341.2 L841.4,341.9 L841.8,342.6 L842.1,343.3 L842.5,344.0 L842.9,344.6 L843.3,345.4 L843.7,346.1 L844.2,346.9 L844.6,347.7 L845.3,349.0 L846.0,350.4 L846.9,351.8 L847.7,353.3 L848.7,354.9 L849.6,356.4 L850.5,358.0 L851.3,359.6 L852.1,361.2 L852.9,362.7 L853.5,364.1 L854.0,365.5 L854.3,366.5 L854.6,367.4 L854.8,368.3 L855.0,369.2 L855.2,370.1 L855.3,371.0 L855.4,371.8 L855.5,372.7 L855.6,373.6 L855.6,374.5 L855.5,375.4 L855.5,376.4 L855.4,377.6 L855.2,378.8 L855.1,380.1 L854.8,381.3 L854.5,382.6 L854.2,383.9 L853.8,385.2 L853.4,386.5 L853.0,387.8 L852.5,389.0 L852.0,390.2 L851.4,391.4 L850.8,392.5 L850.2,393.7 L849.6,394.9 L849.0,396.0 L848.3,397.1 L847.5,398.2 L846.7,399.3 L845.9,400.3 L845.0,401.2 L844.0,402.1 L842.9,403.0 L841.8,403.7 L840.1,404.5 L838.2,405.3 L836.1,405.8 L833.8,406.3 L831.4,406.7 L829.0,407.0 L826.5,407.2 L824.0,407.4 L821.5,407.5 L819.1,407.6 L816.8,407.7 L814.6,407.8 L812.8,407.9 L810.9,407.9 L809.1,407.9 L807.2,407.9 L805.4,407.9 L803.6,407.8 L801.8,407.7 L800.1,407.6 L798.5,407.3 L796.9,407.1 L795.4,406.8 L794.0,406.4 L793.1,406.1 L792.2,405.7 L791.4,405.3 L790.7,404.9 L790.0,404.4 L789.3,403.9 L788.6,403.4 L787.9,402.9 L787.1,402.4 L786.3,401.9 L785.5,401.5 L784.5,401.0" fill="none" stroke="#1a7097" stroke-width="2.2" stroke-linecap="round"/>
<path d="M57.0,273.0 L59.2,272.8 L61.5,272.8 L63.8,272.8 L66.1,272.9 L68.5,273.1 L70.8,273.4 L73.2,273.7 L75.5,274.1 L77.8,274.5 L80.0,275.0 L82.2,275.5 L84.4,275.9 L86.7,276.5 L89.0,277.0 L91.2,277.7 L93.4,278.4 L95.4,279.1 L97.2,280.0 L98.7,280.9 L100.0,282.0 L100.7,282.8 L101.3,283.7 L101.7,284.7 L102.1,285.7 L102.4,286.7 L102.6,287.8 L102.8,288.9 L103.0,289.9 L103.2,291.0 L103.5,292.0 L103.8,293.0 L104.0,293.9 L104.2,294.9 L104.4,295.8 L104.6,296.8 L104.7,297.8 L104.9,298.8 L105.1,299.8 L105.3,300.9 L105.5,302.0 L105.8,303.6 L106.0,305.3 L106.2,307.1 L106.4,308.9 L106.6,310.8 L106.9,312.7 L107.2,314.6 L107.6,316.5 L108.0,318.3 L108.6,320.0 L109.3,321.6 L110.0,323.2 L110.8,324.8 L111.7,326.4 L112.6,327.9 L113.6,329.4 L114.6,330.9 L115.6,332.3 L116.6,333.7 L117.6,335.0 L118.5,336.1 L119.3,337.2 L120.2,338.2 L121.1,339.2 L121.9,340.2 L122.9,341.1 L123.8,342.0 L124.8,342.9 L125.9,343.7 L127.0,344.5 L128.3,345.3 L129.7,346.1 L131.2,346.8 L132.7,347.4 L134.3,348.0 L135.9,348.6 L137.5,349.2 L139.1,349.7 L140.8,350.1 L142.4,350.6 L144.1,351.0 L145.8,351.4 L147.5,351.8 L149.2,352.1 L151.0,352.4 L152.8,352.6 L154.5,352.8 L156.3,353.1 L158.2,353.3 L160.0,353.5 L162.1,353.6 L164.4,353.6 L166.9,353.4 L169.3,353.2 L171.8,353.1 L174.1,353.0 L176.3,353.1 L178.3,353.4 L180.0,354.0 L181.3,355.0 L182.3,356.5 L182.9,358.5 L183.2,360.8 L183.2,363.4 L183.0,366.2 L182.7,369.1 L182.4,372.0 L182.1,374.8 L181.9,377.5 L181.8,380.0 L181.9,382.1 L182.0,384.3 L182.2,386.5 L182.4,388.7 L182.6,390.8 L182.8,392.9 L182.8,394.7 L182.8,396.4 L182.6,397.9 L182.2,399.0 L182.0,399.4 L181.7,399.8 L181.5,400.1 L181.2,400.3 L180.9,400.5 L180.5,400.7 L180.2,400.9 L179.8,401.1 L179.4,401.3 L179.0,401.5 L178.3,401.8 L177.6,402.1 L176.8,402.4 L175.9,402.7 L175.0,402.9 L174.1,403.2 L173.1,403.5 L172.1,403.8 L171.1,404.1 L170.0,404.5 L168.3,405.2 L166.5,405.9 L164.6,406.7 L162.6,407.6 L160.5,408.5 L158.4,409.4 L156.3,410.4 L154.1,411.3 L152.0,412.2 L150.0,413.0 L148.0,413.8 L146.1,414.6 L144.2,415.5 L142.2,416.3 L140.3,417.1 L138.4,417.9 L136.4,418.7 L134.3,419.4 L132.2,420.0 L130.0,420.5 L127.2,421.0 L124.3,421.5 L121.2,421.8 L118.0,422.1 L114.8,422.4 L111.6,422.5 L108.5,422.6 L105.5,422.6 L102.6,422.6 L100.0,422.5 L98.2,422.4 L96.4,422.4 L94.7,422.3 L93.0,422.1 L91.3,422.0 L89.8,421.8 L88.2,421.5 L86.8,421.1 L85.4,420.6 L84.0,420.0 L82.8,419.3 L81.6,418.5 L80.4,417.7 L79.2,416.7 L78.2,415.7 L77.2,414.6 L76.2,413.5 L75.4,412.4 L74.6,411.2 L74.0,410.0 L73.5,408.8 L73.1,407.5 L72.7,406.1 L72.5,404.7 L72.3,403.3 L72.2,401.8 L72.2,400.4 L72.3,398.9 L72.4,397.4 L72.5,396.0 L72.8,394.4 L73.3,392.8 L73.9,391.3 L74.6,389.7 L75.3,388.1 L76.0,386.5 L76.7,384.8 L77.3,383.2 L77.7,381.6 L78.0,380.0 L78.1,378.4 L78.1,376.8 L78.1,375.1 L77.9,373.4 L77.7,371.8 L77.4,370.1 L77.0,368.5 L76.6,367.0 L76.1,365.5 L75.5,364.0 L74.9,362.7 L74.2,361.4 L73.4,360.1 L72.5,358.9 L71.6,357.7 L70.6,356.5 L69.6,355.4 L68.5,354.3 L67.3,353.1 L66.0,352.0 L64.1,350.5 L61.8,349.2 L59.4,347.9 L56.8,346.7 L54.1,345.5 L51.4,344.2 L48.7,342.9 L46.2,341.4 L44.0,339.8 L42.0,338.0 L40.3,336.0 L38.7,333.9 L37.2,331.6 L35.8,329.1 L34.5,326.7 L33.4,324.1 L32.4,321.5 L31.4,319.0 L30.7,316.5 L30.0,314.0 L29.5,311.8 L29.1,309.5 L28.8,307.2 L28.5,304.9 L28.4,302.6 L28.4,300.3 L28.5,298.1 L28.7,296.0 L29.0,293.9 L29.5,292.0 L30.0,290.5 L30.6,289.0 L31.2,287.5 L31.9,286.1 L32.8,284.7 L33.7,283.4 L34.6,282.2 L35.7,281.1 L36.8,280.0 L38.0,279.0 L39.5,278.0 L41.1,277.1 L42.9,276.3 L44.8,275.6 L46.7,274.9 L48.8,274.4 L50.8,274.0 L52.9,273.6 L55.0,273.3 L57.0,273.0Z" fill="#f0e6c3"/>
<g clip-path="url(#c1)"><polygon points="59.5,285.9 60.8,284.2 63.5,284.7 65.6,286.2 66.7,288.9 63.5,289.8 60.8,288.7" fill="#956f4d"/><polygon points="166.6,384.1 163.7,385.7 161.4,385.1 160.5,383.4 161.5,382.0 163.3,381.1 166.0,382.5" fill="#8c7852"/><polygon points="99.8,303.2 101.2,301.1 104.3,299.8 107.4,299.7 108.8,302.0 105.9,303.8 101.2,304.1" fill="#85704c"/><polygon points="149.8,380.1 146.7,380.2 145.3,379.7 143.8,378.5 145.2,377.2 147.9,377.5 149.4,378.8" fill="#8f7550"/><polygon points="79.2,308.5 77.4,310.4 74.5,310.4 70.1,309.1 71.2,307.6 72.6,306.2 76.0,305.9" fill="#85704c"/><polygon points="53.0,323.8 55.6,321.1 60.3,320.5 62.3,321.8 60.6,324.0 56.2,326.8 54.7,325.7" fill="#85704c"/><polygon points="43.5,315.8 44.3,317.5 42.7,321.1 39.8,321.6 36.7,320.2 37.3,318.1 40.3,315.9" fill="#956f4d"/><polygon points="145.1,398.9 142.4,398.8 141.0,398.2 140.5,397.1 141.5,395.4 143.2,396.1 144.9,397.4" fill="#8c7852"/><polygon points="57.6,332.2 53.3,334.0 50.9,332.8 48.4,329.3 49.6,327.0 53.1,327.3 57.5,330.3" fill="#8c7852"/><polygon points="161.8,405.5 161.8,403.3 163.3,401.8 165.9,402.4 167.5,403.9 166.6,405.7 164.6,407.0" fill="#8f7550"/><polygon points="69.0,339.7 72.9,339.5 74.8,341.6 73.9,343.4 69.9,345.0 66.8,344.1 66.0,341.7" fill="#877250"/><polygon points="93.5,315.1 90.8,315.0 88.8,313.3 89.4,311.6 93.2,310.4 95.7,312.1 95.8,313.6" fill="#8c7852"/><polygon points="126.1,397.6 127.2,398.0 127.8,399.4 127.0,400.7 124.9,400.2 123.0,398.7 124.1,398.0" fill="#8a7350"/><polygon points="73.0,352.0 70.3,351.7 70.0,350.0 71.4,348.0 73.9,347.3 74.8,349.1 75.1,350.1" fill="#877250"/><polygon points="81.0,287.5 78.7,288.7 75.7,287.2 75.7,285.5 79.1,283.2 82.4,283.2 83.6,285.1" fill="#85704c"/><polygon points="50.6,309.8 51.1,307.5 53.0,306.4 57.0,307.8 58.1,310.3 55.7,312.0 52.2,311.9" fill="#877250"/><polygon points="180.3,357.2 179.1,358.7 176.4,360.0 175.1,359.2 173.8,357.9 176.0,356.1 177.7,355.5" fill="#956f4d"/><polygon points="67.3,329.1 70.4,328.5 71.7,329.8 71.8,332.0 68.9,333.7 66.1,333.0 64.9,331.3" fill="#8f7550"/><polygon points="170.8,389.6 168.5,388.4 168.8,387.4 170.3,386.2 172.5,386.2 173.4,387.2 173.5,388.7" fill="#8c7852"/><polygon points="103.3,310.9 100.1,311.9 97.9,310.6 98.4,309.1 100.1,307.7 103.6,307.8 104.1,310.0" fill="#8c7852"/><polygon points="91.6,374.6 90.7,375.4 88.5,375.5 87.7,374.7 88.4,373.3 90.4,372.4 92.0,373.0" fill="#8f7550"/><polygon points="155.6,379.9 157.2,381.3 156.6,382.3 154.4,383.5 152.3,383.4 151.8,381.4 152.6,380.2" fill="#956f4d"/><polygon points="115.3,344.6 115.9,346.9 115.0,348.0 111.0,347.4 109.7,345.7 111.2,343.9 112.8,343.2" fill="#85704c"/><polygon points="144.4,382.5 148.0,380.6 149.6,381.8 150.9,383.8 148.8,385.8 147.2,385.7 145.3,384.8" fill="#8c7852"/><polygon points="45.6,308.3 44.8,310.3 41.9,311.4 39.5,310.1 37.9,307.9 39.7,306.8 43.6,306.9" fill="#85704c"/><polygon points="177.0,390.0 174.9,388.4 176.2,387.2 177.4,386.9 179.8,387.4 179.8,388.6 178.4,389.6" fill="#8a7350"/><polygon points="125.1,365.1 127.6,364.9 129.0,366.0 128.3,367.8 126.4,369.0 123.8,368.2 123.1,366.4" fill="#8c7852"/><polygon points="118.3,401.1 116.7,401.7 114.3,401.5 113.8,400.2 114.3,398.7 116.9,398.2 118.1,399.8" fill="#8c7852"/><polygon points="124.2,386.4 125.6,385.1 127.5,385.2 129.2,385.6 129.6,386.6 127.8,387.8 125.6,388.0" fill="#8c7852"/><polygon points="41.6,291.4 39.2,289.2 39.1,287.2 43.3,287.1 45.6,288.2 47.0,291.4 45.0,292.5" fill="#956f4d"/><polygon points="87.0,313.0 86.1,314.5 84.0,315.4 81.8,314.4 81.3,312.0 82.9,310.8 86.5,311.3" fill="#8c7852"/><polygon points="114.3,331.8 115.4,333.0 114.9,334.7 112.1,335.2 110.3,334.3 111.0,332.3 112.2,331.6" fill="#85704c"/><polygon points="149.6,407.6 151.9,406.5 154.0,407.0 153.9,408.7 153.4,410.1 149.7,410.3 149.6,409.3" fill="#8c7852"/><polygon points="85.6,372.8 83.0,371.6 81.8,370.7 83.6,369.4 85.7,369.2 87.7,370.0 87.0,372.1" fill="#8a7350"/><polygon points="61.7,315.0 62.2,311.7 66.9,310.9 69.8,311.9 70.2,315.5 68.3,316.5 64.2,316.1" fill="#956f4d"/><polygon points="149.6,360.3 149.2,359.2 151.6,358.5 153.5,359.0 154.1,360.4 152.9,361.5 150.6,361.9" fill="#877250"/><polygon points="85.5,374.5 85.3,376.0 83.9,377.4 81.1,376.4 80.4,375.5 81.1,374.1 83.2,373.9" fill="#877250"/><polygon points="78.0,342.2 81.7,340.6 83.4,340.6 85.8,343.1 83.7,345.7 80.9,345.2 78.2,344.3" fill="#8c7852"/><polygon points="46.1,333.7 43.7,334.3 42.1,333.3 41.0,331.3 43.0,330.6 45.3,330.5 47.2,332.5" fill="#8f7550"/><polygon points="84.4,359.3 84.8,357.1 87.6,356.2 90.5,357.7 91.3,359.3 89.3,361.1 87.2,360.9" fill="#8a7350"/><polygon points="106.5,403.9 104.2,402.8 104.6,400.3 106.9,399.6 110.4,400.0 109.8,402.0 109.2,403.8" fill="#85704c"/><polygon points="86.1,334.9 84.2,334.4 82.9,333.1 84.4,331.1 87.1,330.4 88.8,331.7 89.0,334.0" fill="#8c7852"/><polygon points="48.1,278.5 49.5,280.5 46.1,282.3 43.1,281.1 41.7,279.6 43.3,276.4 46.6,277.1" fill="#956f4d"/><polygon points="103.7,334.6 100.4,333.9 98.8,332.2 100.0,330.9 102.1,330.3 104.7,331.3 105.5,334.3" fill="#956f4d"/><polygon points="109.9,356.1 110.4,357.5 108.8,357.8 107.2,357.7 105.3,356.3 106.6,355.5 108.2,355.0" fill="#8a7350"/><polygon points="96.5,303.0 93.0,305.7 89.6,304.9 87.6,303.2 89.4,299.1 92.8,299.5 96.2,299.9" fill="#956f4d"/><polygon points="100.8,341.9 101.0,343.7 100.6,345.4 97.3,345.8 95.5,344.3 95.8,343.2 97.6,341.8" fill="#8a7350"/><polygon points="135.9,385.7 135.2,385.1 135.3,383.4 136.9,383.1 139.6,383.9 139.5,384.7 138.4,385.8" fill="#877250"/><polygon points="81.9,388.4 82.2,389.9 79.9,390.4 77.5,388.9 77.5,387.5 79.1,386.9 81.4,387.6" fill="#956f4d"/><polygon points="178.2,373.7 175.9,374.9 174.4,374.2 173.2,373.1 174.8,372.1 176.7,371.9 178.9,372.5" fill="#956f4d"/><polygon points="37.4,324.1 41.5,323.4 44.0,324.4 44.5,326.5 42.3,328.5 39.0,327.9 37.7,325.7" fill="#85704c"/><polygon points="111.9,380.0 109.8,380.3 107.8,379.5 107.6,378.2 109.4,376.7 111.1,376.4 112.6,378.1" fill="#8f7550"/><polygon points="178.7,368.9 176.1,367.9 175.0,366.4 175.6,365.2 177.3,364.5 179.5,365.4 180.0,367.2" fill="#877250"/><polygon points="145.1,362.4 146.7,362.5 148.5,363.0 147.6,365.4 146.1,365.9 143.8,365.4 143.5,363.7" fill="#8a7350"/><polygon points="136.1,409.6 134.1,409.6 134.1,407.5 136.5,406.0 139.1,405.6 140.3,407.5 139.3,408.8" fill="#8c7852"/><polygon points="86.2,291.0 88.5,292.0 89.1,294.1 87.3,296.8 84.4,295.9 82.6,293.7 83.0,291.4" fill="#956f4d"/><polygon points="88.6,278.7 86.1,279.8 82.6,280.1 80.3,278.6 83.1,275.1 85.5,274.3 87.2,275.6" fill="#85704c"/><polygon points="156.5,374.4 156.9,376.6 156.4,378.1 152.9,377.6 150.9,376.7 151.6,375.0 153.4,373.9" fill="#956f4d"/><polygon points="58.8,282.4 58.0,286.0 54.3,287.9 52.1,286.6 50.9,283.8 52.7,281.7 56.7,281.0" fill="#8f7550"/><polygon points="121.6,413.8 122.5,415.1 120.2,415.7 118.4,415.1 117.2,413.6 117.9,412.7 119.3,412.5" fill="#8c7852"/><polygon points="178.1,402.6 176.8,402.6 175.2,401.4 175.3,399.8 178.2,399.4 179.5,400.8 179.6,402.1" fill="#8a7350"/><polygon points="130.1,389.2 131.9,389.6 132.7,391.4 131.5,392.4 129.9,392.3 128.7,391.4 128.1,390.0" fill="#8f7550"/><polygon points="115.2,383.7 116.6,382.6 119.7,382.3 121.6,382.7 121.2,384.8 118.5,386.6 116.0,386.1" fill="#956f4d"/><polygon points="97.3,288.8 99.7,287.1 102.8,286.3 105.6,286.8 104.4,289.2 101.4,290.5 98.5,290.2" fill="#85704c"/><polygon points="66.2,305.9 68.7,307.4 67.9,309.3 66.3,310.2 63.2,308.5 62.0,307.2 63.6,306.3" fill="#8c7852"/><polygon points="108.8,391.1 110.1,389.6 113.4,388.9 114.6,389.6 115.5,391.4 114.4,392.1 111.4,393.0" fill="#8f7550"/><polygon points="96.9,392.1 100.2,390.2 102.6,390.8 102.4,392.6 100.1,394.4 97.7,394.3 96.8,393.5" fill="#8c7852"/><polygon points="90.1,279.4 92.3,277.9 95.0,277.8 96.8,279.5 95.9,280.9 91.6,282.5 89.6,281.8" fill="#85704c"/><polygon points="104.9,344.4 102.3,342.8 102.3,341.0 105.2,340.7 107.0,340.8 109.0,342.2 107.8,344.5" fill="#85704c"/><polygon points="91.1,352.1 91.8,350.6 94.5,349.5 97.3,350.3 97.2,351.8 95.4,353.0 91.8,353.1" fill="#85704c"/><polygon points="85.9,377.9 87.3,378.9 86.9,380.1 84.6,381.7 82.0,381.2 82.1,379.9 84.5,378.1" fill="#8c7852"/><polygon points="101.8,408.8 100.0,407.7 99.7,406.2 101.4,404.9 103.6,405.7 105.2,407.5 104.7,409.1" fill="#8f7550"/><polygon points="50.0,317.5 52.4,318.6 52.3,320.6 50.7,321.4 46.6,320.7 45.2,319.8 46.6,318.0" fill="#956f4d"/><polygon points="80.0,333.1 81.3,334.8 80.4,337.0 75.9,338.4 73.1,338.2 73.8,335.2 76.8,333.4" fill="#8f7550"/><polygon points="119.4,360.7 118.9,359.8 120.4,358.9 123.1,359.8 123.8,360.5 123.0,362.0 121.9,362.3" fill="#956f4d"/><polygon points="123.4,391.5 126.4,392.6 125.9,394.0 124.9,394.4 122.2,394.4 121.4,393.6 121.8,392.5" fill="#877250"/><polygon points="117.4,375.6 117.3,373.7 118.3,372.8 120.3,372.8 121.5,374.2 121.4,375.5 119.2,376.0" fill="#8f7550"/><polygon points="73.3,321.7 76.3,320.8 80.0,322.1 80.3,324.0 78.0,326.3 74.7,326.5 72.5,324.4" fill="#85704c"/><polygon points="140.1,367.9 141.5,367.9 143.5,369.2 143.4,370.2 142.1,371.8 139.9,370.6 139.2,369.5" fill="#85704c"/><polygon points="109.2,363.6 108.2,364.1 104.5,363.1 104.5,361.7 105.1,360.2 108.1,360.5 110.2,361.8" fill="#85704c"/><polygon points="51.3,296.3 50.7,293.4 51.9,291.4 56.7,291.1 59.5,293.2 57.1,296.0 55.1,297.1" fill="#8c7852"/><polygon points="146.4,415.5 144.4,415.1 144.0,414.0 145.6,412.3 146.7,412.3 149.0,413.1 148.6,414.6" fill="#956f4d"/><polygon points="145.0,373.3 147.7,372.8 149.1,373.3 150.7,374.9 149.3,376.6 147.4,376.5 144.9,374.3" fill="#956f4d"/><polygon points="74.6,356.9 71.8,357.6 71.4,355.6 74.2,352.5 77.0,352.6 78.8,354.0 77.4,356.5" fill="#8c7852"/><polygon points="66.3,298.2 66.6,297.0 67.7,294.6 70.8,294.8 72.9,297.0 71.8,298.4 70.1,299.6" fill="#877250"/><polygon points="31.0,306.7 28.0,306.5 26.7,305.7 26.8,303.4 29.1,302.0 32.8,302.5 34.4,304.6" fill="#85704c"/><polygon points="60.2,278.6 57.5,279.3 55.4,279.2 54.7,277.3 56.1,274.3 58.7,274.6 61.7,275.4" fill="#8c7852"/><polygon points="128.7,355.5 127.7,356.7 125.3,357.0 124.5,355.2 124.8,353.9 126.6,353.5 128.7,354.3" fill="#877250"/><polygon points="114.5,364.1 115.0,362.9 116.9,361.4 118.7,362.0 118.9,363.6 117.7,365.0 115.8,365.7" fill="#8a7350"/><polygon points="167.1,391.1 169.1,392.9 168.9,394.9 167.0,396.3 163.8,395.6 163.0,393.8 164.0,391.9" fill="#85704c"/><polygon points="77.7,399.6 75.2,399.5 74.0,398.9 73.1,397.3 74.1,396.8 77.0,397.4 78.5,398.2" fill="#8a7350"/><polygon points="84.7,410.0 81.1,410.6 79.3,409.9 79.5,407.8 82.9,406.1 84.7,406.4 85.3,408.2" fill="#956f4d"/><polygon points="147.3,387.5 149.8,387.6 150.8,388.5 150.8,389.6 149.1,390.4 147.3,389.6 146.4,388.6" fill="#8f7550"/><polygon points="63.0,342.9 59.2,342.2 57.4,340.3 58.9,337.4 61.7,337.1 64.4,338.4 64.9,341.3" fill="#85704c"/><polygon points="94.7,376.2 94.8,374.6 95.9,373.0 98.7,372.3 100.6,373.8 99.6,376.0 97.7,376.7" fill="#956f4d"/><polygon points="100.2,398.7 98.6,399.2 95.6,398.5 95.1,396.9 95.3,395.8 99.4,395.1 101.3,396.8" fill="#8f7550"/><polygon points="32.1,301.4 31.6,298.6 35.9,296.0 38.4,296.0 40.1,298.2 37.2,300.7 35.0,301.7" fill="#85704c"/><polygon points="82.4,414.3 83.1,413.6 85.7,413.8 88.0,416.4 86.8,417.8 84.2,417.4 82.5,415.9" fill="#85704c"/><polygon points="98.1,335.7 94.8,337.0 93.2,336.9 92.9,334.7 93.4,333.3 96.5,333.0 98.0,334.0" fill="#8a7350"/><polygon points="170.9,382.0 172.5,380.9 174.5,381.2 176.3,382.8 176.3,384.1 173.8,385.0 172.3,383.7" fill="#8c7852"/><polygon points="97.4,318.8 96.8,316.5 99.2,314.9 101.9,315.4 102.7,317.1 102.6,318.9 99.5,319.6" fill="#877250"/><polygon points="106.5,376.9 104.9,378.3 103.2,378.3 101.1,376.7 100.6,374.7 102.4,374.0 104.8,375.1" fill="#8c7852"/><polygon points="142.3,406.0 141.7,404.6 141.3,403.2 144.4,402.7 146.9,403.7 146.9,405.0 145.3,406.1" fill="#8c7852"/><polygon points="159.0,373.3 157.8,373.0 156.7,371.1 158.2,370.1 160.1,369.8 161.7,371.6 160.9,372.6" fill="#8f7550"/><polygon points="86.6,351.5 89.2,353.0 87.5,354.3 85.0,355.0 82.5,354.6 82.1,352.6 82.9,351.6" fill="#85704c"/><polygon points="80.7,323.5 80.9,319.7 83.2,318.9 87.0,318.6 88.9,320.5 86.5,323.3 82.6,324.6" fill="#877250"/><polygon points="166.8,354.0 169.5,354.1 170.9,355.2 169.9,357.3 167.7,359.1 165.3,357.8 164.0,355.6" fill="#8c7852"/><polygon points="116.1,341.4 118.1,340.3 120.7,340.5 122.4,341.8 122.2,343.2 120.3,344.3 117.2,343.3" fill="#956f4d"/><polygon points="131.6,412.6 130.1,413.2 127.5,412.0 127.7,410.6 129.7,408.7 131.2,409.3 133.2,410.3" fill="#8c7852"/><polygon points="63.8,281.5 64.4,279.9 65.8,278.7 68.4,279.0 69.8,281.0 68.2,282.1 64.6,282.7" fill="#8c7852"/><polygon points="121.2,354.5 119.6,355.0 117.5,355.0 114.8,353.2 115.3,352.4 117.7,351.3 120.3,352.3" fill="#85704c"/><polygon points="122.2,347.1 123.6,345.7 126.4,345.2 128.2,346.0 128.5,348.0 126.2,349.1 122.3,348.3" fill="#85704c"/><polygon points="89.4,363.0 91.6,363.5 93.4,365.6 92.1,367.1 89.3,367.4 87.5,366.7 86.9,364.6" fill="#877250"/><polygon points="51.1,338.6 50.2,340.6 47.9,341.2 44.1,340.2 44.1,338.4 45.8,337.2 47.9,336.5" fill="#8c7852"/><polygon points="90.9,408.9 92.7,407.9 96.7,408.9 96.7,411.4 96.1,412.3 93.1,412.2 90.3,410.5" fill="#8c7852"/><polygon points="149.9,365.0 152.2,365.2 153.2,366.6 152.6,367.5 150.4,368.9 148.6,368.3 148.7,366.5" fill="#85704c"/><polygon points="141.4,413.8 139.2,412.8 138.1,411.6 140.1,409.0 142.1,409.4 144.0,410.0 143.3,411.9" fill="#8a7350"/><polygon points="104.2,323.2 103.4,324.8 101.0,325.7 98.8,324.8 99.0,322.8 100.0,321.9 103.3,321.2" fill="#956f4d"/><polygon points="93.8,378.2 95.3,377.9 97.5,378.3 98.0,380.1 97.3,380.7 95.1,381.0 93.4,379.5" fill="#8f7550"/><polygon points="131.7,368.3 131.5,367.2 131.6,365.5 133.1,364.8 134.8,365.3 135.7,366.6 134.4,367.9" fill="#877250"/><polygon points="132.6,419.7 131.8,418.7 133.1,417.6 134.8,417.6 136.1,418.8 135.7,419.4 133.6,420.2" fill="#8a7350"/><polygon points="137.0,395.2 136.4,392.6 137.1,391.7 139.4,391.5 141.3,393.0 141.3,395.3 138.7,396.3" fill="#8f7550"/><polygon points="98.5,387.4 97.0,389.4 95.6,390.3 93.3,389.0 92.2,387.5 94.4,385.9 97.1,385.8" fill="#85704c"/><polygon points="129.5,376.6 128.8,377.2 126.9,377.8 125.7,376.8 125.1,375.7 127.2,374.9 128.8,375.5" fill="#877250"/><polygon points="157.2,361.2 158.4,361.7 158.0,363.0 156.4,364.4 154.8,364.4 153.8,363.5 155.1,361.9" fill="#8f7550"/><polygon points="31.5,283.8 32.1,282.3 35.9,282.1 39.1,283.7 37.9,286.5 34.8,288.0 31.8,286.9" fill="#956f4d"/><polygon points="71.7,274.5 76.6,273.8 78.0,274.9 77.7,278.0 75.8,279.1 71.9,278.8 70.7,277.1" fill="#8a7350"/><polygon points="113.8,417.8 115.3,419.0 113.8,420.8 111.7,421.9 109.7,420.9 109.8,419.6 112.0,417.5" fill="#85704c"/><polygon points="83.4,296.0 86.3,296.9 87.5,300.3 84.6,302.9 81.8,303.1 78.5,300.4 79.3,296.8" fill="#877250"/><polygon points="98.9,360.0 96.3,359.2 96.4,357.2 98.3,356.2 101.3,357.0 102.1,358.4 101.6,359.9" fill="#8a7350"/><polygon points="179.1,396.7 177.2,396.4 177.1,395.2 178.0,394.6 179.3,394.2 181.2,395.0 181.0,395.9" fill="#956f4d"/><polygon points="112.9,384.4 113.7,386.4 111.1,387.6 109.2,387.9 107.8,386.6 108.3,384.9 110.3,384.1" fill="#8a7350"/><polygon points="160.8,378.0 161.2,376.5 163.0,375.8 164.5,376.6 165.6,378.1 163.7,378.7 162.3,379.0" fill="#85704c"/><polygon points="141.3,352.1 141.0,354.3 140.0,354.9 138.0,354.1 136.6,352.3 137.6,350.8 139.5,350.7" fill="#8c7852"/><polygon points="130.4,417.1 130.6,418.4 127.6,418.8 125.3,418.4 124.6,416.0 126.5,414.9 129.0,414.8" fill="#956f4d"/><polygon points="159.2,390.3 161.3,390.3 162.5,391.0 161.7,392.7 159.2,393.6 158.0,392.7 157.4,391.1" fill="#8a7350"/><polygon points="104.5,350.0 105.7,348.3 107.8,347.5 109.1,348.2 109.4,349.6 108.1,350.9 105.8,350.9" fill="#877250"/><polygon points="105.1,368.4 106.1,365.9 108.0,365.4 110.8,366.4 112.0,368.1 109.9,369.4 107.3,369.5" fill="#8c7852"/><polygon points="111.7,339.8 110.1,338.8 111.0,337.1 113.3,336.6 115.6,338.1 115.2,339.6 114.0,340.8" fill="#877250"/><polygon points="81.7,399.2 84.3,399.8 85.5,401.5 84.4,402.4 81.2,403.0 79.4,401.5 79.1,400.4" fill="#877250"/><polygon points="117.0,368.4 119.5,369.5 118.6,371.1 117.9,372.1 115.1,372.1 114.3,371.2 115.1,369.3" fill="#877250"/><polygon points="158.6,356.3 160.1,356.8 160.1,357.9 158.3,359.1 156.6,359.4 156.2,357.7 156.8,357.0" fill="#8f7550"/><polygon points="81.0,370.2 79.1,371.6 77.3,371.6 76.1,370.1 76.5,368.0 79.0,368.0 80.3,368.4" fill="#8f7550"/><polygon points="102.1,420.4 99.2,420.4 98.1,418.5 99.0,416.8 102.7,416.7 103.6,417.5 103.4,419.5" fill="#8f7550"/><polygon points="139.4,402.1 137.1,404.4 134.3,404.4 133.5,402.3 133.3,400.9 136.4,399.5 138.4,400.2" fill="#8f7550"/><polygon points="92.0,397.8 89.0,396.4 88.1,394.9 89.2,393.5 91.3,393.7 93.2,394.9 93.7,396.4" fill="#8c7852"/><polygon points="169.7,365.1 169.7,363.2 171.8,362.1 174.1,362.3 174.8,363.4 173.7,365.1 171.3,365.9" fill="#8a7350"/><polygon points="123.5,412.4 121.5,411.7 120.9,409.3 123.3,407.4 125.2,407.7 126.2,409.8 125.6,411.1" fill="#8a7350"/><polygon points="171.2,381.0 168.3,381.2 166.1,380.4 165.2,378.0 166.5,376.9 169.0,377.5 171.3,379.1" fill="#85704c"/><polygon points="140.5,357.0 142.2,357.1 143.6,358.1 144.1,359.6 142.2,360.3 139.7,359.2 139.8,357.9" fill="#956f4d"/><polygon points="132.8,393.0 134.8,394.8 135.1,396.7 133.1,398.2 130.9,397.1 129.4,396.4 130.4,394.4" fill="#85704c"/><polygon points="166.0,362.7 166.5,363.5 167.0,364.4 164.6,365.2 162.7,364.8 162.3,364.0 163.3,362.9" fill="#8f7550"/><polygon points="136.1,362.2 137.9,361.6 139.9,362.4 139.3,364.0 137.8,364.5 135.9,364.2 135.4,363.5" fill="#85704c"/><polygon points="115.2,411.4 113.6,410.7 114.4,408.6 116.0,408.0 118.6,407.8 118.8,409.4 117.4,410.6" fill="#8a7350"/><polygon points="107.0,410.8 107.2,408.8 109.5,408.0 111.6,408.3 112.0,409.2 112.3,411.0 109.4,411.7" fill="#956f4d"/><polygon points="91.8,291.3 94.0,290.1 96.1,290.6 97.7,292.5 95.2,294.6 93.0,294.7 91.9,293.1" fill="#8a7350"/><polygon points="126.5,369.4 126.7,371.6 126.0,372.9 123.9,373.7 121.6,372.0 122.1,370.8 124.1,369.5" fill="#8f7550"/><polygon points="104.0,364.8 105.2,366.9 104.5,368.1 101.1,368.8 100.0,367.7 100.5,365.0 102.4,364.2" fill="#877250"/><polygon points="91.1,389.4 88.6,389.9 86.2,388.4 86.3,386.0 89.0,385.0 91.7,385.3 92.0,388.2" fill="#8c7852"/><polygon points="124.4,352.8 123.0,352.9 121.2,352.5 120.5,350.6 123.3,349.7 125.2,350.0 126.1,351.2" fill="#8f7550"/><polygon points="148.4,400.5 151.1,398.5 153.9,398.6 155.5,400.8 154.5,402.3 151.1,403.3 148.8,402.0" fill="#8f7550"/><polygon points="115.7,359.0 114.8,360.8 112.2,360.6 111.2,359.1 111.3,358.2 113.2,357.5 115.1,357.7" fill="#877250"/><polygon points="33.4,311.3 35.7,311.1 37.6,312.3 37.0,314.4 35.7,315.6 32.6,315.6 31.6,314.0" fill="#8c7852"/><polygon points="84.0,392.0 85.5,392.1 87.9,393.2 87.8,395.0 86.5,395.2 84.0,394.8 82.8,393.3" fill="#956f4d"/><polygon points="144.4,381.4 142.1,382.9 139.3,381.9 139.2,380.7 139.9,379.7 142.4,379.2 144.4,379.9" fill="#8f7550"/><polygon points="93.3,343.4 89.1,344.9 86.7,344.6 85.6,343.3 86.7,341.6 90.6,341.0 92.7,342.2" fill="#85704c"/><polygon points="113.5,394.4 114.3,395.1 114.2,396.5 111.7,397.0 110.7,396.6 110.3,395.4 111.0,393.8" fill="#85704c"/><polygon points="121.5,404.1 121.9,402.5 125.7,401.2 126.9,402.1 127.9,404.6 124.8,405.9 123.3,406.2" fill="#8c7852"/><polygon points="94.1,404.8 94.0,403.6 96.0,403.1 98.2,403.5 98.5,405.2 96.7,406.0 95.0,405.6" fill="#877250"/><polygon points="105.2,323.8 109.8,324.0 111.7,326.5 110.7,328.9 107.6,329.6 104.2,329.0 103.7,325.0" fill="#8a7350"/><polygon points="89.3,327.7 91.0,325.6 92.8,325.3 96.6,325.5 96.1,327.8 93.0,329.0 90.8,329.0" fill="#877250"/><polygon points="53.0,302.0 48.7,302.7 45.7,302.1 45.8,299.8 47.6,297.7 51.8,298.2 53.7,300.5" fill="#8a7350"/><polygon points="173.4,395.3 171.5,394.9 170.2,393.3 170.8,392.1 172.6,391.8 174.5,392.8 175.1,394.3" fill="#8a7350"/><polygon points="102.2,293.2 105.5,294.8 105.1,296.5 104.0,298.2 99.9,298.0 98.5,296.5 99.4,294.2" fill="#877250"/><polygon points="179.3,379.7 177.5,380.6 175.7,380.8 173.6,378.7 174.3,377.2 176.2,376.8 179.0,377.7" fill="#956f4d"/><polygon points="128.5,359.3 129.6,358.1 132.1,357.5 133.4,358.2 133.3,359.5 131.6,360.3 129.6,360.1" fill="#8c7852"/><polygon points="129.8,353.8 129.1,352.0 131.5,350.0 133.4,350.4 134.3,351.9 133.6,353.8 131.0,354.3" fill="#8a7350"/><polygon points="77.0,394.1 78.7,392.5 80.2,392.3 81.8,392.7 82.4,394.1 80.5,395.6 77.6,395.6" fill="#956f4d"/><polygon points="79.8,385.2 78.3,384.9 77.0,383.8 77.7,382.5 79.1,382.2 80.9,382.0 80.9,384.0" fill="#85704c"/><polygon points="170.2,399.8 168.5,399.5 167.3,398.9 167.8,397.1 169.2,396.5 171.9,397.6 172.1,398.4" fill="#8a7350"/><polygon points="110.8,373.1 111.5,374.7 110.1,375.6 107.7,374.8 106.9,373.8 107.5,372.1 108.9,372.1" fill="#8c7852"/><polygon points="158.3,408.4 156.8,407.4 156.3,406.2 157.5,405.2 159.9,406.0 160.3,407.4 160.3,408.5" fill="#8a7350"/><polygon points="91.5,416.2 93.1,414.5 95.3,414.3 97.2,415.0 97.6,416.8 94.9,417.7 92.7,417.8" fill="#8f7550"/><polygon points="91.2,407.2 88.2,409.1 85.8,408.9 85.4,407.8 87.2,405.2 89.1,404.3 91.1,405.6" fill="#956f4d"/><polygon points="32.2,318.9 36.6,320.3 38.2,322.4 37.8,324.9 32.5,325.0 30.6,323.8 31.1,320.9" fill="#956f4d"/><polygon points="172.6,404.2 170.3,405.1 168.6,404.2 168.1,402.9 170.2,401.5 172.5,402.0 173.3,403.2" fill="#956f4d"/><polygon points="95.1,362.8 98.0,362.4 99.7,365.6 99.3,367.8 95.7,367.4 93.0,366.4 92.9,362.9" fill="#8a7350"/><polygon points="125.0,382.3 123.4,382.7 121.0,380.2 122.0,378.5 124.6,378.3 126.2,378.8 127.4,381.5" fill="#85704c"/><polygon points="61.6,347.3 58.9,347.6 57.2,347.3 55.3,346.1 57.2,344.5 59.6,344.6 61.2,346.0" fill="#956f4d"/><polygon points="160.7,399.5 159.7,400.7 157.3,401.1 155.4,399.0 155.4,398.0 158.2,396.9 160.2,398.1" fill="#85704c"/><polygon points="156.3,386.9 157.5,388.0 157.2,389.1 153.9,389.0 152.3,387.9 152.9,386.9 154.8,386.3" fill="#8a7350"/><polygon points="61.8,302.1 60.8,304.6 58.2,305.4 56.2,304.1 55.2,302.6 57.6,300.6 59.4,300.4" fill="#956f4d"/><polygon points="135.6,379.1 134.6,379.9 131.9,379.6 131.5,378.7 132.5,377.4 134.6,377.2 136.1,378.1" fill="#8a7350"/><polygon points="77.2,404.4 75.7,406.1 74.5,406.7 72.2,406.4 70.5,405.4 72.2,403.4 75.1,403.5" fill="#8f7550"/><polygon points="99.7,383.7 101.4,382.3 103.7,381.7 105.0,382.3 105.2,384.0 103.4,385.3 100.5,384.7" fill="#8f7550"/><polygon points="146.9,394.3 149.2,394.2 151.4,395.4 152.1,397.8 150.5,398.6 146.5,397.6 145.6,395.6" fill="#8a7350"/><polygon points="145.2,390.0 145.4,391.5 143.8,392.1 141.2,391.2 140.5,389.9 141.0,388.6 143.6,388.4" fill="#8a7350"/><polygon points="69.7,287.8 71.0,288.0 73.3,288.6 72.2,291.8 69.5,292.4 67.3,292.1 66.3,290.8" fill="#8a7350"/><polygon points="77.7,413.5 76.4,411.7 77.2,410.4 78.9,410.6 81.3,411.6 80.8,413.4 79.8,414.1" fill="#8f7550"/><polygon points="122.2,389.8 120.7,391.0 118.5,392.1 116.9,391.0 117.0,389.7 118.9,388.5 120.9,389.0" fill="#956f4d"/><polygon points="76.7,295.3 74.0,294.9 73.4,293.3 75.8,291.0 80.3,291.3 80.8,292.5 80.2,294.5" fill="#877250"/><polygon points="115.1,413.4 116.2,414.8 114.9,416.1 112.9,415.5 110.7,414.5 111.7,412.9 113.1,412.6" fill="#956f4d"/><polygon points="167.9,371.3 167.8,373.4 163.7,373.7 162.4,372.5 162.4,370.6 164.9,369.5 167.9,369.9" fill="#877250"/><polygon points="152.6,353.2 155.0,353.9 155.2,356.2 152.6,356.8 148.8,356.3 148.4,354.5 151.0,353.3" fill="#877250"/><polygon points="100.0,370.7 101.0,369.5 103.4,369.4 106.1,371.0 105.1,372.3 103.3,372.3 100.6,371.7" fill="#8c7852"/><polygon points="36.1,293.8 33.5,294.0 31.0,293.4 29.6,291.4 32.9,289.6 36.2,290.1 37.3,292.0" fill="#8a7350"/><polygon points="105.0,411.0 105.5,411.7 104.3,413.4 102.6,413.4 101.6,412.8 101.8,411.0 103.2,410.9" fill="#877250"/><polygon points="151.6,392.1 153.0,391.5 156.1,391.4 157.1,392.4 156.9,393.9 155.0,394.8 152.3,394.2" fill="#877250"/><polygon points="107.1,390.3 105.1,391.4 102.8,391.7 101.5,389.4 103.7,387.6 106.4,387.3 107.6,388.4" fill="#8a7350"/><polygon points="179.6,365.0 178.9,363.1 179.6,362.1 182.3,361.4 184.1,362.3 183.4,363.2 181.2,365.0" fill="#877250"/><polygon points="82.7,348.0 82.7,350.2 81.2,351.6 78.6,351.4 77.0,349.9 77.9,348.4 80.5,347.5" fill="#8a7350"/><polygon points="73.5,363.9 74.4,361.5 76.8,361.4 79.8,362.8 80.4,364.2 78.2,365.4 74.6,365.1" fill="#956f4d"/><polygon points="91.1,419.9 89.6,422.0 87.8,422.4 84.5,422.2 83.9,420.2 85.8,418.6 89.0,418.6" fill="#85704c"/><polygon points="137.9,387.8 139.4,389.2 137.6,390.7 135.4,390.7 134.3,390.0 134.3,387.9 136.0,387.2" fill="#8a7350"/><polygon points="122.8,421.3 122.0,422.5 120.5,423.0 117.9,422.6 117.7,421.2 119.2,419.6 121.9,419.8" fill="#8c7852"/><polygon points="136.7,376.9 136.0,375.0 136.5,373.9 138.7,373.6 140.3,374.3 140.4,376.6 138.8,377.4" fill="#8f7550"/><polygon points="86.9,285.3 89.9,283.6 93.3,284.5 94.9,286.7 93.2,288.6 90.4,288.9 86.9,287.3" fill="#877250"/><polygon points="54.5,318.3 52.6,314.4 55.7,312.5 58.9,314.0 61.5,315.3 60.7,318.0 57.4,319.1" fill="#8a7350"/><polygon points="71.6,314.6 74.0,314.5 77.4,316.2 78.4,319.3 76.8,320.4 72.0,319.5 70.8,317.5" fill="#85704c"/><polygon points="70.5,274.8 67.3,276.2 64.9,275.3 63.7,273.5 65.4,272.1 68.9,271.7 69.7,273.7" fill="#877250"/><polygon points="163.4,389.5 164.4,388.2 165.8,388.3 167.9,389.4 167.5,390.6 166.1,390.8 164.9,390.7" fill="#8c7852"/><polygon points="85.7,412.7 85.8,411.4 87.6,410.2 89.3,409.9 90.9,411.6 90.2,412.6 88.2,413.3" fill="#8f7550"/><polygon points="84.7,304.6 86.2,306.8 86.2,308.3 82.0,309.3 79.2,308.3 78.5,306.0 80.9,304.4" fill="#8c7852"/><polygon points="132.1,373.5 130.8,374.2 128.6,374.7 128.4,372.1 128.8,371.2 131.7,371.0 132.7,372.1" fill="#8f7550"/><polygon points="129.4,405.4 130.0,403.7 132.0,403.1 134.1,404.2 134.1,406.1 132.4,407.0 130.4,406.5" fill="#85704c"/><polygon points="115.6,402.3 116.8,403.5 117.2,404.8 114.9,406.5 111.8,406.4 111.3,404.9 112.0,403.1" fill="#8a7350"/><polygon points="105.7,353.7 103.9,354.9 99.3,355.1 98.0,353.9 99.4,351.9 101.6,351.1 104.9,351.1" fill="#956f4d"/><polygon points="179.6,369.4 180.4,368.1 182.7,368.8 184.2,369.3 184.1,370.9 181.7,372.0 179.5,371.0" fill="#877250"/><polygon points="93.5,402.5 90.8,403.0 89.8,401.9 90.9,399.9 92.6,399.3 94.1,399.8 94.7,400.7" fill="#956f4d"/><polygon points="157.7,364.7 159.1,364.3 162.0,366.2 162.7,368.4 160.2,369.3 158.3,368.8 156.6,366.9" fill="#8a7350"/><polygon points="170.2,370.0 169.1,368.7 170.3,367.7 172.8,366.7 175.3,367.9 174.2,369.1 172.7,370.1" fill="#8a7350"/><polygon points="82.3,365.4 81.2,364.5 81.5,363.2 84.2,362.4 86.5,362.9 85.9,364.8 83.8,365.8" fill="#8f7550"/><polygon points="121.5,380.3 120.3,381.9 116.9,381.7 115.3,380.6 116.0,378.8 119.1,377.8 120.8,378.8" fill="#8a7350"/><polygon points="104.5,316.6 102.8,316.0 102.2,312.9 104.5,312.0 108.5,311.9 109.8,314.0 108.3,315.3" fill="#8c7852"/><polygon points="128.1,381.4 130.8,380.7 132.2,381.7 131.5,383.1 129.4,383.9 127.8,383.9 127.3,382.5" fill="#8f7550"/><polygon points="119.1,345.9 121.1,346.6 122.1,347.7 119.2,350.2 117.4,349.9 116.5,348.3 117.0,346.9" fill="#85704c"/><polygon points="93.2,420.7 94.3,419.6 96.4,418.6 98.0,419.6 98.1,421.5 96.0,423.0 93.5,423.0" fill="#8f7550"/><polygon points="92.0,370.5 92.8,369.2 94.6,369.1 96.1,369.9 96.1,371.4 95.5,372.5 93.5,372.2" fill="#8c7852"/><polygon points="72.2,322.0 69.9,324.4 67.1,324.8 63.2,323.1 63.7,319.7 67.0,319.1 71.2,319.3" fill="#8c7852"/><polygon points="137.9,411.1 138.8,413.2 136.2,414.7 134.0,414.7 133.0,413.0 133.8,411.3 135.1,410.7" fill="#956f4d"/><polygon points="182.2,384.0 180.2,386.2 178.5,385.7 175.9,384.6 177.0,382.4 179.8,382.1 181.1,382.1" fill="#877250"/><polygon points="105.2,394.8 106.3,395.2 106.3,396.7 105.6,397.3 102.8,397.4 102.7,396.7 103.3,395.1" fill="#8a7350"/><polygon points="81.9,328.1 82.6,330.6 80.7,331.5 77.4,331.6 75.0,330.1 74.6,328.3 77.7,326.8" fill="#8a7350"/><polygon points="104.3,415.7 105.5,414.8 108.7,415.5 109.7,417.5 109.2,419.3 107.2,418.8 104.4,417.9" fill="#956f4d"/><polygon points="146.3,357.0 144.3,356.5 141.9,354.9 143.2,353.0 144.9,352.2 148.7,353.9 147.9,355.8" fill="#85704c"/><polygon points="105.1,421.2 106.8,420.2 109.2,420.8 109.3,422.6 108.0,423.2 106.4,423.7 104.8,422.4" fill="#85704c"/><polygon points="137.2,414.5 139.6,414.5 142.0,416.6 141.7,418.5 138.7,419.1 137.5,418.0 136.8,416.0" fill="#85704c"/><polygon points="75.9,299.8 78.1,301.3 77.8,303.2 76.4,303.8 73.3,303.3 71.9,302.0 72.3,300.3" fill="#956f4d"/><polygon points="63.9,333.0 62.1,335.0 60.1,336.1 55.1,336.1 56.1,332.9 57.4,331.4 62.5,330.2" fill="#8f7550"/><polygon points="88.5,381.9 90.5,380.1 92.4,380.4 93.9,381.0 93.1,383.0 90.8,383.9 88.8,384.0" fill="#85704c"/><polygon points="101.3,400.3 104.2,400.4 103.9,402.8 102.5,404.0 100.4,404.2 99.0,403.5 99.9,401.2" fill="#956f4d"/><polygon points="150.2,371.3 150.4,369.8 152.6,369.7 155.4,371.0 155.0,373.1 153.8,373.5 150.6,373.1" fill="#8a7350"/><polygon points="130.1,347.1 132.2,346.0 134.4,347.1 134.2,348.2 132.8,349.7 130.5,349.4 129.7,348.4" fill="#8a7350"/><polygon points="104.4,336.2 106.9,335.8 108.7,336.9 108.4,338.0 106.3,339.1 104.7,338.2 103.6,337.0" fill="#8a7350"/><polygon points="71.5,396.5 70.2,395.4 71.3,393.6 73.4,392.6 75.7,393.0 76.7,394.4 74.7,396.3" fill="#956f4d"/><polygon points="76.7,357.4 79.1,355.8 81.2,355.8 83.1,357.4 83.5,359.7 81.7,360.9 78.9,360.0" fill="#877250"/><polygon points="67.4,352.8 64.8,352.8 60.9,350.8 60.9,348.6 64.4,346.9 67.0,347.7 69.0,350.5" fill="#8f7550"/><polygon points="118.1,399.3 116.6,397.8 118.2,396.5 121.8,395.1 122.9,396.2 123.2,397.1 121.9,398.7" fill="#85704c"/><polygon points="165.9,358.1 165.9,360.4 163.4,361.2 162.1,361.1 160.6,360.1 162.0,358.6 163.8,357.6" fill="#85704c"/><polygon points="168.0,375.8 166.8,374.7 168.7,372.6 170.9,372.5 172.9,374.0 173.5,374.9 170.3,375.9" fill="#8f7550"/><polygon points="180.3,377.3 179.4,376.3 179.4,374.4 181.0,374.5 183.6,375.5 183.3,376.6 183.1,377.6" fill="#8c7852"/></g>
<path d="M57.0,273.0 L59.2,272.8 L61.5,272.8 L63.8,272.8 L66.1,272.9 L68.5,273.1 L70.8,273.4 L73.2,273.7 L75.5,274.1 L77.8,274.5 L80.0,275.0 L82.2,275.5 L84.4,275.9 L86.7,276.5 L89.0,277.0 L91.2,277.7 L93.4,278.4 L95.4,279.1 L97.2,280.0 L98.7,280.9 L100.0,282.0 L100.7,282.8 L101.3,283.7 L101.7,284.7 L102.1,285.7 L102.4,286.7 L102.6,287.8 L102.8,288.9 L103.0,289.9 L103.2,291.0 L103.5,292.0 L103.8,293.0 L104.0,293.9 L104.2,294.9 L104.4,295.8 L104.6,296.8 L104.7,297.8 L104.9,298.8 L105.1,299.8 L105.3,300.9 L105.5,302.0 L105.8,303.6 L106.0,305.3 L106.2,307.1 L106.4,308.9 L106.6,310.8 L106.9,312.7 L107.2,314.6 L107.6,316.5 L108.0,318.3 L108.6,320.0 L109.3,321.6 L110.0,323.2 L110.8,324.8 L111.7,326.4 L112.6,327.9 L113.6,329.4 L114.6,330.9 L115.6,332.3 L116.6,333.7 L117.6,335.0 L118.5,336.1 L119.3,337.2 L120.2,338.2 L121.1,339.2 L121.9,340.2 L122.9,341.1 L123.8,342.0 L124.8,342.9 L125.9,343.7 L127.0,344.5 L128.3,345.3 L129.7,346.1 L131.2,346.8 L132.7,347.4 L134.3,348.0 L135.9,348.6 L137.5,349.2 L139.1,349.7 L140.8,350.1 L142.4,350.6 L144.1,351.0 L145.8,351.4 L147.5,351.8 L149.2,352.1 L151.0,352.4 L152.8,352.6 L154.5,352.8 L156.3,353.1 L158.2,353.3 L160.0,353.5 L162.1,353.6 L164.4,353.6 L166.9,353.4 L169.3,353.2 L171.8,353.1 L174.1,353.0 L176.3,353.1 L178.3,353.4 L180.0,354.0 L181.3,355.0 L182.3,356.5 L182.9,358.5 L183.2,360.8 L183.2,363.4 L183.0,366.2 L182.7,369.1 L182.4,372.0 L182.1,374.8 L181.9,377.5 L181.8,380.0 L181.9,382.1 L182.0,384.3 L182.2,386.5 L182.4,388.7 L182.6,390.8 L182.8,392.9 L182.8,394.7 L182.8,396.4 L182.6,397.9 L182.2,399.0 L182.0,399.4 L181.7,399.8 L181.5,400.1 L181.2,400.3 L180.9,400.5 L180.5,400.7 L180.2,400.9 L179.8,401.1 L179.4,401.3 L179.0,401.5 L178.3,401.8 L177.6,402.1 L176.8,402.4 L175.9,402.7 L175.0,402.9 L174.1,403.2 L173.1,403.5 L172.1,403.8 L171.1,404.1 L170.0,404.5 L168.3,405.2 L166.5,405.9 L164.6,406.7 L162.6,407.6 L160.5,408.5 L158.4,409.4 L156.3,410.4 L154.1,411.3 L152.0,412.2 L150.0,413.0 L148.0,413.8 L146.1,414.6 L144.2,415.5 L142.2,416.3 L140.3,417.1 L138.4,417.9 L136.4,418.7 L134.3,419.4 L132.2,420.0 L130.0,420.5 L127.2,421.0 L124.3,421.5 L121.2,421.8 L118.0,422.1 L114.8,422.4 L111.6,422.5 L108.5,422.6 L105.5,422.6 L102.6,422.6 L100.0,422.5 L98.2,422.4 L96.4,422.4 L94.7,422.3 L93.0,422.1 L91.3,422.0 L89.8,421.8 L88.2,421.5 L86.8,421.1 L85.4,420.6 L84.0,420.0 L82.8,419.3 L81.6,418.5 L80.4,417.7 L79.2,416.7 L78.2,415.7 L77.2,414.6 L76.2,413.5 L75.4,412.4 L74.6,411.2 L74.0,410.0 L73.5,408.8 L73.1,407.5 L72.7,406.1 L72.5,404.7 L72.3,403.3 L72.2,401.8 L72.2,400.4 L72.3,398.9 L72.4,397.4 L72.5,396.0 L72.8,394.4 L73.3,392.8 L73.9,391.3 L74.6,389.7 L75.3,388.1 L76.0,386.5 L76.7,384.8 L77.3,383.2 L77.7,381.6 L78.0,380.0 L78.1,378.4 L78.1,376.8 L78.1,375.1 L77.9,373.4 L77.7,371.8 L77.4,370.1 L77.0,368.5 L76.6,367.0 L76.1,365.5 L75.5,364.0 L74.9,362.7 L74.2,361.4 L73.4,360.1 L72.5,358.9 L71.6,357.7 L70.6,356.5 L69.6,355.4 L68.5,354.3 L67.3,353.1 L66.0,352.0 L64.1,350.5 L61.8,349.2 L59.4,347.9 L56.8,346.7 L54.1,345.5 L51.4,344.2 L48.7,342.9 L46.2,341.4 L44.0,339.8 L42.0,338.0 L40.3,336.0 L38.7,333.9 L37.2,331.6 L35.8,329.1 L34.5,326.7 L33.4,324.1 L32.4,321.5 L31.4,319.0 L30.7,316.5 L30.0,314.0 L29.5,311.8 L29.1,309.5 L28.8,307.2 L28.5,304.9 L28.4,302.6 L28.4,300.3 L28.5,298.1 L28.7,296.0 L29.0,293.9 L29.5,292.0 L30.0,290.5 L30.6,289.0 L31.2,287.5 L31.9,286.1 L32.8,284.7 L33.7,283.4 L34.6,282.2 L35.7,281.1 L36.8,280.0 L38.0,279.0 L39.5,278.0 L41.1,277.1 L42.9,276.3 L44.8,275.6 L46.7,274.9 L48.8,274.4 L50.8,274.0 L52.9,273.6 L55.0,273.3 L57.0,273.0Z" fill="none" stroke="#8f7b5a" stroke-width="1.2"/>
<path d="M194.3,356.6 L255.0,355.5 L255.0,392.0 L194.3,398.2 L194.3,356.6Z" fill="#f0e6c3"/>
<g clip-path="url(#c2)"><polygon points="212.8,361.9 211.8,360.1 214.3,358.6 215.9,358.5 217.8,359.7 217.6,361.7 216.7,362.9" fill="#877250"/><polygon points="245.6,369.9 242.9,370.0 241.9,369.7 240.7,368.5 242.6,367.2 245.0,367.5 246.0,368.5" fill="#8a7350"/><polygon points="236.4,392.0 234.0,392.9 232.3,391.9 232.3,390.4 234.3,389.0 235.9,389.0 236.9,390.0" fill="#8a7350"/><polygon points="198.2,373.0 199.5,373.5 198.9,375.1 197.8,376.6 195.5,376.4 195.1,374.9 195.1,373.8" fill="#85704c"/><polygon points="217.0,393.0 215.8,393.5 213.7,392.9 213.5,392.0 214.1,390.6 217.1,390.5 218.5,391.3" fill="#8c7852"/><polygon points="200.1,386.0 198.3,384.5 200.4,382.5 202.1,381.9 205.3,383.2 204.3,385.6 202.5,386.4" fill="#8a7350"/><polygon points="248.5,375.5 250.7,373.0 253.1,372.8 254.8,374.2 254.5,376.3 252.4,377.5 248.7,377.2" fill="#877250"/><polygon points="243.8,391.0 244.3,392.6 242.6,394.0 240.3,394.3 238.6,393.4 238.9,392.1 240.8,391.0" fill="#8f7550"/><polygon points="235.0,371.2 235.9,372.5 234.6,373.9 232.7,374.8 230.1,373.8 230.4,372.6 232.7,371.0" fill="#956f4d"/><polygon points="240.7,371.6 241.7,373.4 241.7,374.5 239.8,375.2 238.6,374.9 237.9,373.4 238.6,371.7" fill="#877250"/><polygon points="230.4,360.9 232.4,360.6 234.0,361.5 232.6,363.6 230.9,364.6 227.9,364.2 228.2,362.0" fill="#8f7550"/><polygon points="220.4,375.5 222.2,376.3 221.6,377.7 219.6,378.1 218.2,377.6 217.1,376.0 218.7,375.5" fill="#8c7852"/><polygon points="213.7,368.7 216.4,366.8 218.5,367.7 220.2,369.3 218.2,370.8 215.2,371.3 214.1,370.5" fill="#877250"/><polygon points="203.8,392.3 206.2,392.8 208.2,393.7 208.6,395.8 205.5,397.3 204.1,396.6 202.7,393.8" fill="#8c7852"/><polygon points="229.0,381.4 227.2,383.1 225.3,383.1 224.0,381.6 224.7,380.0 226.7,379.7 228.7,379.6" fill="#8c7852"/><polygon points="240.5,386.1 241.5,387.9 240.5,389.5 238.2,388.6 236.5,387.4 236.5,385.6 238.9,385.7" fill="#8c7852"/><polygon points="226.3,384.6 227.6,384.6 228.4,386.3 227.0,387.8 224.7,388.9 223.0,387.3 223.6,386.2" fill="#8c7852"/><polygon points="213.6,381.2 215.8,383.3 214.1,385.1 211.4,385.5 209.5,384.7 209.4,382.4 210.4,381.7" fill="#8c7852"/><polygon points="240.6,379.6 243.4,381.3 243.9,383.2 241.7,384.0 239.9,384.2 237.7,383.0 238.7,380.3" fill="#956f4d"/><polygon points="247.1,366.2 248.0,365.1 251.6,364.2 253.6,365.8 253.6,367.0 250.5,368.7 246.9,367.8" fill="#956f4d"/><polygon points="246.1,359.3 243.5,358.6 242.5,357.2 242.9,355.9 244.4,355.9 247.2,357.1 247.0,358.5" fill="#8f7550"/><polygon points="199.1,358.1 198.5,359.7 196.5,359.7 195.2,358.5 195.2,356.6 197.2,356.2 198.4,356.2" fill="#8c7852"/><polygon points="228.7,373.4 227.5,374.8 224.5,375.2 223.2,374.2 224.0,372.6 227.3,371.3 229.0,371.7" fill="#956f4d"/><polygon points="256.1,359.1 252.5,360.3 250.2,359.4 251.4,357.3 253.8,355.7 256.7,356.1 257.5,357.6" fill="#956f4d"/><polygon points="192.7,380.9 195.4,380.2 197.8,380.0 198.6,381.3 197.6,383.0 196.2,383.3 193.6,382.6" fill="#956f4d"/><polygon points="209.6,379.4 209.4,380.5 206.6,380.4 204.8,379.2 204.7,377.7 206.0,377.3 208.7,377.8" fill="#956f4d"/><polygon points="236.2,363.0 238.6,363.6 239.6,365.5 238.7,366.2 236.4,366.9 234.7,365.3 234.4,363.6" fill="#877250"/><polygon points="256.3,384.0 255.0,385.5 252.5,385.3 251.3,384.6 251.3,383.2 253.2,381.6 255.9,382.3" fill="#956f4d"/><polygon points="204.2,389.7 203.5,390.9 201.2,391.8 200.0,391.6 199.7,389.9 201.1,388.8 203.0,388.7" fill="#85704c"/><polygon points="192.1,363.4 192.8,361.4 195.9,361.0 197.5,361.8 197.5,364.4 196.3,365.7 194.0,364.6" fill="#956f4d"/><polygon points="245.4,362.4 243.7,363.8 240.3,363.5 239.4,362.1 240.8,361.0 242.6,360.3 245.4,361.0" fill="#877250"/><polygon points="195.7,387.2 197.0,388.3 197.7,389.3 196.2,390.4 194.0,389.8 193.1,388.8 194.1,387.4" fill="#956f4d"/><polygon points="203.7,369.3 204.6,368.3 206.5,367.2 208.6,367.7 208.8,368.6 208.2,370.4 205.2,370.7" fill="#8f7550"/><polygon points="231.3,393.4 229.7,395.2 227.3,395.5 225.5,394.1 225.5,392.3 228.2,391.1 230.4,392.0" fill="#85704c"/><polygon points="203.8,363.0 205.2,365.0 203.8,366.4 200.7,366.5 197.9,365.1 198.4,363.7 202.1,362.4" fill="#956f4d"/><polygon points="207.0,373.6 207.3,372.7 209.9,372.6 211.4,373.6 211.2,374.6 209.3,375.1 206.9,374.8" fill="#956f4d"/><polygon points="196.2,398.3 194.9,396.4 194.5,395.3 196.8,394.2 199.9,395.2 201.7,397.4 199.9,398.1" fill="#8a7350"/><polygon points="242.2,377.6 242.8,375.7 245.9,374.9 247.8,376.3 247.5,377.1 246.2,379.0 243.2,378.4" fill="#956f4d"/><polygon points="193.8,367.2 197.1,367.1 198.5,368.5 196.7,370.4 194.5,371.3 192.2,370.2 191.7,368.3" fill="#8c7852"/><polygon points="235.4,381.0 237.3,382.8 235.2,383.8 232.7,383.8 230.7,382.0 231.7,380.7 234.4,380.2" fill="#8a7350"/><polygon points="219.5,364.3 222.1,363.1 224.5,363.4 225.0,365.2 223.4,366.6 220.4,366.7 218.6,365.6" fill="#877250"/><polygon points="250.4,388.4 248.4,389.7 246.0,390.3 244.4,389.3 244.0,387.5 246.7,386.0 248.4,386.7" fill="#956f4d"/><polygon points="207.2,357.6 209.8,357.1 211.6,357.9 211.6,360.0 209.7,360.9 206.7,360.8 205.9,359.2" fill="#85704c"/><polygon points="215.6,384.3 218.3,383.1 221.0,383.7 221.6,385.0 220.9,387.2 217.5,387.7 216.2,386.0" fill="#8c7852"/><polygon points="231.1,356.2 232.2,354.6 234.5,354.0 236.2,355.3 236.0,357.9 233.7,358.5 232.6,358.0" fill="#85704c"/><polygon points="227.8,356.5 229.9,356.2 230.7,357.7 228.9,360.0 227.4,360.4 224.9,359.5 225.1,357.5" fill="#8a7350"/><polygon points="205.8,387.6 208.6,386.7 210.3,387.7 211.2,389.7 209.2,390.2 206.3,390.2 205.4,389.0" fill="#956f4d"/><polygon points="227.9,376.2 230.1,375.1 233.4,376.0 234.9,377.1 233.2,379.1 230.0,379.8 228.6,378.9" fill="#956f4d"/><polygon points="227.8,369.9 227.3,368.0 227.6,366.4 231.5,366.2 233.1,367.6 232.8,369.6 230.6,370.4" fill="#8a7350"/><polygon points="250.4,363.2 250.5,361.8 253.6,360.7 256.2,361.7 257.2,363.1 255.2,364.4 252.5,364.2" fill="#877250"/><polygon points="246.4,371.9 246.9,370.0 248.8,369.3 252.1,370.3 252.2,372.0 249.9,373.7 246.6,373.2" fill="#877250"/><polygon points="248.9,380.1 250.1,381.4 250.4,382.4 248.5,383.3 245.0,382.6 244.4,380.5 245.9,379.2" fill="#956f4d"/><polygon points="219.5,391.5 219.4,390.1 221.8,390.1 224.3,390.4 224.3,392.5 223.0,393.1 219.6,392.8" fill="#877250"/><polygon points="254.2,389.2 255.8,391.9 254.4,393.9 252.5,393.9 249.2,392.8 248.5,390.9 251.8,389.5" fill="#8a7350"/><polygon points="213.4,366.5 211.0,367.6 209.2,366.9 209.3,365.0 211.5,363.3 214.9,363.4 215.5,364.7" fill="#85704c"/><polygon points="221.0,355.8 223.2,356.3 224.0,358.2 222.7,359.2 220.2,359.2 218.4,357.9 218.9,356.6" fill="#8f7550"/><polygon points="202.9,357.9 205.8,359.8 205.3,361.6 202.6,361.6 201.2,361.2 200.3,359.6 200.5,358.1" fill="#85704c"/><polygon points="199.9,373.1 200.9,371.4 202.8,370.5 205.0,371.4 204.4,373.1 202.6,374.0 200.5,373.9" fill="#877250"/><polygon points="214.6,379.8 212.3,379.3 211.4,378.1 212.2,376.7 213.2,376.7 215.4,377.2 215.4,378.6" fill="#877250"/><polygon points="202.5,377.6 203.0,379.1 202.1,379.8 200.2,380.2 198.9,378.9 199.0,377.6 200.6,377.0" fill="#85704c"/><polygon points="239.9,376.8 240.2,378.5 238.9,380.7 237.5,381.0 235.3,379.2 235.5,376.6 237.4,376.1" fill="#877250"/><polygon points="208.7,395.8 209.5,394.4 212.3,393.8 214.9,394.8 214.9,396.5 211.8,397.5 209.6,397.2" fill="#877250"/></g>
<path d="M194.3,356.6 L255.0,355.5 L255.0,392.0 L194.3,398.2 L194.3,356.6Z" fill="none" stroke="#8f7b5a" stroke-width="1.2"/>
<path d="M672.0,328.0 L689.0,323.8 L729.6,315.1 L731.0,343.0 L731.0,372.3 L684.0,370.0 L672.0,369.0 L672.0,328.0Z" fill="#f0e6c3"/>
<g clip-path="url(#c3)"><polygon points="674.0,356.1 676.0,354.6 679.2,355.8 679.7,357.3 677.9,359.3 675.7,359.1 673.5,357.5" fill="#956f4d"/><polygon points="706.7,353.3 705.8,352.0 707.7,350.0 709.3,348.9 711.4,350.4 712.1,352.0 708.5,353.3" fill="#8a7350"/><polygon points="698.2,333.7 701.3,333.7 702.4,335.1 701.0,336.9 699.0,336.9 697.8,336.3 696.9,334.7" fill="#956f4d"/><polygon points="702.6,324.3 702.3,323.0 704.6,321.8 707.1,322.9 707.3,325.1 706.2,325.8 703.0,326.2" fill="#877250"/><polygon points="683.1,334.9 680.8,335.9 677.3,335.9 675.7,333.8 676.8,331.4 678.4,330.8 682.3,331.6" fill="#956f4d"/><polygon points="717.5,344.4 717.4,342.9 718.5,341.1 720.8,339.5 723.4,340.2 724.4,342.0 720.9,344.8" fill="#956f4d"/><polygon points="721.4,320.3 719.8,322.4 716.5,322.7 715.1,320.3 715.5,319.0 717.0,317.5 720.6,318.1" fill="#8a7350"/><polygon points="685.8,350.8 684.2,350.1 684.4,348.4 687.2,347.0 691.2,346.7 691.4,349.0 689.7,350.6" fill="#8a7350"/><polygon points="704.6,345.3 704.6,344.0 706.5,343.7 709.0,344.5 709.9,345.9 708.8,346.5 706.1,346.7" fill="#8f7550"/><polygon points="685.9,343.7 682.8,342.4 681.5,341.5 681.6,338.7 684.2,338.4 687.4,340.1 687.8,342.2" fill="#877250"/><polygon points="702.3,364.6 704.2,364.3 705.9,366.2 705.5,368.0 704.6,369.3 701.2,368.4 700.1,367.2" fill="#877250"/><polygon points="732.0,338.4 728.6,339.3 726.0,338.5 727.5,335.1 729.6,334.6 732.5,335.0 733.3,337.1" fill="#85704c"/><polygon points="722.1,329.1 722.2,327.5 725.1,327.8 727.7,328.9 728.3,331.0 725.6,332.4 723.5,331.2" fill="#877250"/><polygon points="711.3,358.8 713.4,359.1 715.3,359.7 716.3,361.8 713.1,362.7 710.7,362.1 709.6,359.8" fill="#877250"/><polygon points="692.2,347.4 691.2,345.1 691.5,343.0 694.0,342.5 696.8,343.4 696.7,345.3 695.4,346.9" fill="#85704c"/><polygon points="717.3,353.8 716.6,352.4 717.2,350.0 718.3,349.3 722.1,349.5 722.0,351.4 719.9,353.8" fill="#85704c"/><polygon points="704.2,351.2 704.3,352.5 703.4,354.3 701.3,354.4 699.8,353.6 699.9,352.7 701.5,351.0" fill="#956f4d"/><polygon points="718.0,369.4 718.8,367.4 720.7,366.8 723.5,366.9 723.9,368.5 722.8,369.7 720.5,370.6" fill="#956f4d"/><polygon points="714.2,337.5 714.5,334.8 717.8,333.3 721.1,334.2 721.0,335.9 719.6,337.9 716.9,339.4" fill="#8c7852"/><polygon points="710.9,372.9 707.3,373.2 705.7,371.0 705.3,369.4 707.5,368.4 710.4,368.3 712.6,371.4" fill="#8a7350"/><polygon points="680.5,351.1 678.1,352.1 675.5,350.7 675.2,348.9 676.4,347.5 678.1,347.7 679.7,349.3" fill="#8c7852"/><polygon points="708.5,333.8 707.1,332.3 708.9,329.8 712.1,330.2 714.5,331.9 714.3,333.2 712.3,335.1" fill="#8a7350"/><polygon points="693.0,361.4 691.4,362.5 689.5,361.9 686.8,360.4 687.7,359.2 689.4,358.3 693.2,359.2" fill="#8f7550"/><polygon points="723.1,363.1 720.8,362.6 720.9,360.7 723.3,358.8 726.1,358.7 727.1,360.1 725.8,362.4" fill="#8c7852"/><polygon points="717.7,355.4 720.1,354.5 722.2,355.5 723.1,357.8 720.6,358.6 718.8,358.1 717.7,357.3" fill="#85704c"/><polygon points="688.4,352.7 690.7,353.3 690.9,354.2 689.5,355.7 686.5,355.8 685.4,355.3 686.5,353.6" fill="#8f7550"/><polygon points="682.5,363.4 683.6,365.1 683.3,366.2 680.7,366.5 678.5,365.3 678.4,363.4 679.5,361.8" fill="#8a7350"/><polygon points="693.2,327.0 693.1,325.2 695.8,323.3 698.0,323.4 699.9,325.4 698.3,327.5 694.7,328.2" fill="#8f7550"/><polygon points="726.2,323.7 723.7,322.1 723.9,320.0 726.5,319.6 729.6,320.2 730.2,321.4 729.0,323.2" fill="#8a7350"/><polygon points="715.1,325.5 714.7,327.7 712.7,328.2 711.1,327.9 709.3,325.7 709.9,324.1 712.8,324.2" fill="#877250"/><polygon points="697.3,370.7 694.8,371.3 691.8,369.5 692.3,367.5 694.0,366.9 696.3,367.0 697.5,368.9" fill="#8a7350"/><polygon points="672.4,341.0 671.1,338.6 671.0,337.3 673.3,336.8 675.4,338.2 676.1,339.9 675.4,340.7" fill="#85704c"/><polygon points="730.4,349.1 731.4,351.2 730.2,353.1 727.9,354.0 725.7,351.6 725.8,349.2 728.6,348.0" fill="#956f4d"/><polygon points="692.0,351.5 694.1,350.2 696.4,349.5 697.4,350.7 696.5,352.6 695.4,353.5 693.1,353.2" fill="#956f4d"/><polygon points="694.3,339.3 692.4,340.2 691.3,339.0 691.7,337.4 693.9,336.3 695.2,336.5 696.4,337.7" fill="#8f7550"/><polygon points="710.1,337.9 707.9,339.2 705.6,339.4 704.5,338.4 706.3,336.4 707.7,335.5 710.3,336.2" fill="#8a7350"/><polygon points="675.9,329.3 676.6,331.6 673.8,333.2 671.2,333.9 669.7,332.1 670.8,330.2 673.5,329.3" fill="#8c7852"/><polygon points="705.9,358.1 707.7,359.2 709.0,360.7 707.2,362.0 704.2,361.1 703.2,359.6 703.5,358.2" fill="#8a7350"/><polygon points="691.2,331.6 693.4,333.4 692.9,335.1 688.7,336.4 686.7,334.4 685.4,333.1 687.5,331.4" fill="#8f7550"/><polygon points="730.9,354.5 732.3,355.6 732.9,358.1 731.9,360.2 727.4,360.2 725.6,357.2 727.1,355.9" fill="#956f4d"/><polygon points="683.4,325.2 685.5,323.0 688.3,323.4 690.3,324.8 690.1,327.3 686.7,327.8 684.5,327.5" fill="#877250"/><polygon points="682.3,355.7 685.9,356.4 686.6,357.7 687.0,360.5 683.5,361.0 681.3,360.1 680.5,358.0" fill="#956f4d"/><polygon points="700.9,338.7 702.7,341.1 701.7,343.0 699.5,343.5 696.4,341.7 696.5,338.9 697.9,338.4" fill="#877250"/><polygon points="701.7,329.0 702.5,327.6 705.0,328.3 707.2,330.4 706.6,332.3 704.2,332.9 701.9,331.4" fill="#85704c"/><polygon points="671.3,367.4 670.2,366.4 672.5,364.8 674.6,364.4 677.0,365.7 676.0,367.3 673.3,368.2" fill="#8a7350"/><polygon points="675.9,347.2 673.1,346.1 672.6,344.1 675.1,342.5 677.8,343.1 679.4,344.1 679.3,346.4" fill="#8f7550"/><polygon points="695.4,359.9 696.8,357.5 700.0,357.1 701.5,358.3 701.3,359.4 698.4,361.0 696.7,361.1" fill="#8f7550"/><polygon points="732.4,371.2 729.2,372.6 727.5,371.8 726.4,369.4 727.2,368.2 732.0,367.3 733.4,369.1" fill="#8f7550"/><polygon points="713.4,345.6 716.0,344.0 718.0,345.4 718.9,346.7 717.9,347.7 715.9,348.1 713.8,347.5" fill="#85704c"/><polygon points="686.1,367.4 688.9,367.2 690.5,369.2 689.1,370.7 685.7,371.3 684.0,370.1 684.4,368.5" fill="#8c7852"/><polygon points="714.2,365.4 712.4,367.4 709.3,367.6 708.1,366.2 708.4,364.7 709.8,363.8 713.7,364.5" fill="#85704c"/><polygon points="707.0,319.8 709.7,317.9 711.8,317.4 714.9,318.9 713.4,321.7 710.4,322.3 707.6,321.9" fill="#8c7852"/><polygon points="725.7,342.2 728.1,340.5 732.1,341.3 731.8,343.2 730.4,344.5 727.5,345.3 726.3,344.1" fill="#8c7852"/><polygon points="680.7,326.4 681.0,328.1 678.7,329.1 677.2,328.8 675.4,327.4 676.2,325.7 678.0,325.2" fill="#8a7350"/><polygon points="725.8,314.3 727.7,314.6 730.7,315.9 729.9,318.1 728.2,318.6 725.9,317.7 724.3,315.5" fill="#956f4d"/><polygon points="717.4,327.5 716.7,326.2 717.6,324.6 719.8,324.5 721.1,325.4 723.0,327.6 720.8,328.5" fill="#877250"/><polygon points="733.5,365.3 730.6,365.9 728.6,365.5 726.6,363.1 728.4,361.7 730.5,361.3 734.1,363.3" fill="#8f7550"/><polygon points="695.4,366.4 693.7,365.5 693.4,363.5 695.3,361.8 697.6,362.2 700.5,364.2 698.3,365.8" fill="#8c7852"/><polygon points="698.1,344.8 700.8,344.8 702.8,346.1 703.2,348.6 701.4,348.9 699.1,348.4 697.8,347.0" fill="#877250"/><polygon points="720.8,347.5 722.3,345.9 725.3,344.9 727.2,345.7 726.6,347.9 724.9,348.9 722.4,348.5" fill="#956f4d"/><polygon points="714.3,353.8 715.5,354.8 715.4,356.0 712.8,357.1 711.1,356.6 710.7,355.9 712.1,354.1" fill="#877250"/><polygon points="712.3,343.0 710.1,342.4 709.0,341.2 711.7,338.4 714.4,339.0 715.6,340.1 714.9,342.4" fill="#956f4d"/><polygon points="719.3,362.6 720.9,364.6 720.2,365.5 717.6,365.7 714.9,364.0 715.8,362.8 716.8,362.0" fill="#8a7350"/><polygon points="691.5,330.8 693.6,328.5 696.1,328.7 699.0,329.9 697.8,331.6 695.6,333.4 691.9,332.5" fill="#8a7350"/></g>
<path d="M672.0,328.0 L689.0,323.8 L729.6,315.1 L731.0,343.0 L731.0,372.3 L684.0,370.0 L672.0,369.0 L672.0,328.0Z" fill="none" stroke="#8f7b5a" stroke-width="1.2"/>
<path d="M742.5,316.0 L742.8,314.7 L743.1,313.5 L743.4,312.3 L743.7,311.2 L744.1,310.1 L744.6,309.1 L745.1,308.1 L745.6,307.1 L746.3,306.0 L747.0,305.0 L748.1,303.6 L749.3,302.3 L750.7,301.0 L752.3,299.7 L753.9,298.4 L755.5,297.1 L757.2,295.9 L758.8,294.6 L760.5,293.3 L762.0,292.0 L763.5,290.7 L764.9,289.2 L766.3,287.8 L767.7,286.3 L769.1,284.9 L770.6,283.5 L772.1,282.2 L773.6,281.0 L775.3,279.9 L777.0,279.0 L779.0,278.2 L781.1,277.5 L783.2,276.9 L785.4,276.5 L787.7,276.2 L790.1,275.9 L792.5,275.7 L795.0,275.6 L797.5,275.5 L800.0,275.5 L803.4,275.5 L807.2,275.5 L811.3,275.6 L815.5,275.7 L819.7,276.0 L823.7,276.4 L827.5,277.0 L830.9,277.8 L833.8,278.8 L836.0,280.0 L837.0,280.8 L837.8,281.7 L838.5,282.7 L839.1,283.7 L839.6,284.8 L840.0,285.9 L840.3,287.0 L840.6,288.2 L840.8,289.3 L841.0,290.5 L841.2,291.8 L841.3,293.0 L841.3,294.3 L841.3,295.7 L841.2,297.0 L841.0,298.4 L840.8,299.8 L840.4,301.2 L840.1,302.6 L839.6,304.0 L838.8,305.8 L837.7,307.7 L836.5,309.6 L835.1,311.5 L833.6,313.5 L832.1,315.4 L830.6,317.4 L829.3,319.3 L828.2,321.3 L827.3,323.2 L826.7,324.8 L826.1,326.4 L825.6,328.0 L825.2,329.6 L824.8,331.2 L824.6,332.9 L824.4,334.5 L824.3,336.2 L824.4,337.9 L824.5,339.6 L825.0,341.9 L825.8,344.4 L826.8,346.9 L828.1,349.5 L829.4,352.1 L830.8,354.7 L832.1,357.2 L833.3,359.6 L834.3,361.9 L835.0,364.0 L835.3,365.2 L835.6,366.4 L835.9,367.6 L836.1,368.7 L836.3,369.7 L836.4,370.8 L836.5,371.8 L836.5,372.8 L836.5,373.9 L836.4,375.0 L836.3,376.2 L836.1,377.5 L835.9,378.8 L835.6,380.2 L835.3,381.5 L834.8,382.8 L834.4,384.0 L833.8,385.2 L833.1,386.3 L832.3,387.3 L831.3,388.3 L830.1,389.2 L828.7,390.1 L827.3,390.8 L825.7,391.5 L824.1,392.1 L822.5,392.7 L820.7,393.2 L819.0,393.6 L817.3,394.0 L815.2,394.4 L813.0,394.6 L810.7,394.8 L808.3,394.8 L805.9,394.8 L803.5,394.7 L801.0,394.6 L798.6,394.4 L796.3,394.2 L794.0,394.0 L791.9,393.8 L789.8,393.5 L787.8,393.3 L785.7,393.0 L783.7,392.6 L781.7,392.2 L779.6,391.8 L777.6,391.2 L775.6,390.7 L773.6,390.0 L771.4,389.2 L769.1,388.3 L766.7,387.4 L764.4,386.4 L762.0,385.3 L759.8,384.1 L757.6,382.9 L755.6,381.7 L753.7,380.4 L752.0,379.0 L750.8,377.9 L749.6,376.7 L748.5,375.6 L747.5,374.4 L746.6,373.1 L745.7,371.8 L744.9,370.5 L744.2,369.1 L743.6,367.6 L743.0,366.0 L742.4,363.8 L742.1,361.5 L741.9,358.9 L741.9,356.3 L741.9,353.6 L742.1,350.8 L742.2,348.1 L742.4,345.3 L742.5,342.6 L742.5,340.0 L742.4,337.5 L742.3,335.0 L742.2,332.4 L742.1,329.9 L742.0,327.3 L741.9,324.8 L741.9,322.4 L742.0,320.2 L742.2,318.0 L742.5,316.0Z" fill="#f0e6c3"/>
<g clip-path="url(#c4)"><polygon points="775.2,360.6 777.7,359.0 779.8,358.3 781.7,359.6 780.7,362.3 779.5,363.3 776.0,363.0" fill="#8f7550"/><polygon points="762.9,316.4 763.7,318.6 761.6,320.5 759.2,320.4 757.3,318.0 758.1,316.7 761.0,315.9" fill="#85704c"/><polygon points="814.0,363.3 813.8,362.1 815.8,360.6 817.9,361.0 820.0,361.6 818.7,363.6 817.3,364.7" fill="#877250"/><polygon points="803.1,341.3 804.1,343.9 802.8,345.4 800.2,345.2 798.2,343.7 799.4,340.9 800.7,339.6" fill="#8c7852"/><polygon points="817.1,280.1 816.5,281.0 814.0,281.6 812.3,279.7 812.2,278.5 814.0,278.3 816.2,278.7" fill="#877250"/><polygon points="832.6,370.9 831.8,372.1 830.0,373.3 827.9,372.5 826.8,370.1 828.3,368.7 830.2,368.8" fill="#956f4d"/><polygon points="796.2,291.6 797.1,289.8 799.9,289.9 801.8,290.7 801.9,292.9 798.5,294.0 796.5,293.6" fill="#956f4d"/><polygon points="794.4,306.6 794.6,309.3 793.0,310.4 788.6,310.7 787.5,308.6 787.9,307.2 791.4,306.2" fill="#85704c"/><polygon points="808.6,292.6 811.3,291.3 813.0,291.7 814.2,293.6 813.3,295.3 810.2,294.9 808.1,293.6" fill="#8f7550"/><polygon points="800.2,354.8 799.5,356.0 796.2,355.8 793.1,352.3 795.2,351.0 796.9,350.7 800.2,352.9" fill="#8f7550"/><polygon points="744.1,328.3 746.2,329.5 747.1,330.7 745.4,332.1 742.7,332.4 740.7,330.4 741.5,329.0" fill="#8f7550"/><polygon points="768.1,371.0 771.2,371.8 772.0,373.6 771.7,375.1 769.0,374.7 767.5,373.6 766.7,371.6" fill="#877250"/><polygon points="809.8,328.1 810.9,326.7 814.3,326.3 815.7,327.9 815.0,330.5 811.9,331.2 808.9,329.8" fill="#8c7852"/><polygon points="751.6,329.2 751.6,326.2 753.4,323.9 757.0,323.9 757.6,325.1 757.1,328.3 755.0,328.9" fill="#877250"/><polygon points="781.2,368.0 784.3,367.0 787.3,367.3 787.6,368.8 785.5,370.9 783.4,371.1 780.6,369.9" fill="#8f7550"/><polygon points="798.1,318.3 797.6,315.8 800.2,314.5 802.7,315.2 805.9,317.3 805.1,319.4 801.8,320.3" fill="#877250"/><polygon points="814.9,389.1 817.0,388.0 819.1,389.1 818.7,390.7 817.1,392.0 815.0,392.1 813.8,390.8" fill="#8f7550"/><polygon points="790.3,299.0 786.5,297.8 786.4,296.2 788.6,294.7 790.4,294.7 793.0,296.9 792.5,298.9" fill="#85704c"/><polygon points="836.0,301.6 836.5,302.6 835.2,304.4 832.1,304.5 830.5,303.4 830.8,302.2 833.3,301.3" fill="#8f7550"/><polygon points="763.4,366.1 760.8,364.6 758.9,361.7 761.7,360.5 763.5,360.6 766.6,363.2 765.9,364.7" fill="#8c7852"/><polygon points="821.2,355.4 817.4,354.2 818.5,351.4 821.0,349.8 823.5,349.9 825.7,352.4 824.4,354.7" fill="#8c7852"/><polygon points="773.7,353.2 770.4,352.9 768.3,351.3 770.3,348.5 772.7,347.6 776.9,349.3 777.3,352.3" fill="#8a7350"/><polygon points="801.3,359.8 800.2,362.4 796.1,362.2 793.1,359.2 793.4,357.5 795.8,356.2 799.4,356.9" fill="#8c7852"/><polygon points="830.1,322.7 825.2,322.2 825.2,320.6 824.3,318.0 827.8,317.4 830.8,319.2 832.2,322.3" fill="#8f7550"/><polygon points="764.2,331.3 766.3,330.7 769.0,332.5 768.5,333.9 766.2,335.1 763.9,334.1 763.1,332.3" fill="#956f4d"/><polygon points="791.5,382.6 793.5,380.9 797.6,381.2 798.5,383.4 797.8,384.6 793.1,385.4 790.6,384.1" fill="#8f7550"/><polygon points="772.4,313.8 773.0,311.9 774.6,311.2 778.1,311.7 778.4,313.0 776.4,315.5 773.4,315.5" fill="#877250"/><polygon points="786.5,292.0 784.2,293.1 781.0,293.5 779.0,291.8 779.4,290.4 783.3,288.8 784.7,289.7" fill="#8c7852"/><polygon points="823.4,358.9 823.7,356.5 826.1,356.1 827.7,356.5 829.2,358.6 828.2,360.3 825.4,359.7" fill="#85704c"/><polygon points="794.0,373.8 793.5,372.1 794.9,369.2 797.8,369.0 799.2,370.1 799.5,371.9 797.5,374.5" fill="#8a7350"/><polygon points="789.7,279.3 788.4,280.1 786.2,280.3 784.9,279.2 785.5,277.8 788.3,277.1 790.6,277.5" fill="#877250"/><polygon points="766.8,323.6 770.4,323.0 772.7,325.8 772.2,327.8 768.5,329.3 765.1,328.3 764.9,326.2" fill="#85704c"/><polygon points="805.4,354.9 802.0,353.2 802.2,352.2 805.1,351.1 807.4,350.9 809.3,352.6 807.6,353.9" fill="#956f4d"/><polygon points="771.4,368.6 768.3,368.5 766.4,365.2 768.5,363.4 771.6,363.2 774.9,365.0 773.4,367.4" fill="#8c7852"/><polygon points="746.2,315.2 747.5,313.4 750.0,312.5 753.0,313.0 753.5,314.8 751.7,316.4 748.1,316.9" fill="#8f7550"/><polygon points="757.9,344.8 753.5,345.0 752.5,343.9 753.5,340.7 756.2,339.9 759.4,340.6 760.4,342.9" fill="#877250"/><polygon points="802.1,387.8 804.5,388.8 803.4,391.0 801.3,391.9 798.8,391.8 798.6,390.2 800.1,388.5" fill="#8c7852"/><polygon points="772.7,380.0 772.5,378.5 773.2,377.2 776.5,377.6 777.7,378.9 777.0,380.2 775.4,380.4" fill="#8c7852"/><polygon points="836.0,289.1 833.2,289.4 831.1,288.0 831.0,286.4 832.9,285.9 835.6,286.1 837.3,288.0" fill="#85704c"/><polygon points="806.6,344.0 808.7,343.0 812.4,342.8 813.5,344.4 812.7,346.0 808.3,347.0 807.4,346.2" fill="#956f4d"/><polygon points="788.2,357.2 790.6,357.8 790.5,358.8 789.1,360.6 785.5,361.1 784.9,360.3 785.0,358.7" fill="#8f7550"/><polygon points="798.6,335.6 796.7,333.0 798.7,331.5 802.2,331.2 804.3,332.9 805.1,335.4 802.4,336.6" fill="#8a7350"/><polygon points="787.8,347.0 786.4,346.1 785.7,343.6 788.9,341.7 791.9,343.0 794.0,344.8 792.0,347.1" fill="#8c7852"/><polygon points="808.9,377.9 806.2,378.8 803.8,377.4 803.8,375.6 805.1,373.9 808.5,374.6 809.6,375.5" fill="#8c7852"/><polygon points="810.1,373.6 808.2,374.1 807.7,371.7 808.8,369.9 810.8,369.8 812.7,370.9 812.8,372.3" fill="#8f7550"/><polygon points="788.6,335.2 788.1,336.2 786.7,337.7 783.8,336.4 782.4,334.5 783.5,332.4 786.3,332.2" fill="#8f7550"/><polygon points="759.7,312.3 757.0,311.9 755.1,309.6 756.8,308.4 758.8,307.9 761.2,309.2 761.8,310.7" fill="#85704c"/><polygon points="781.8,386.3 783.2,388.9 782.3,390.9 780.6,390.8 778.0,389.0 778.0,387.2 779.8,386.3" fill="#877250"/><polygon points="767.0,302.8 769.3,301.3 773.0,300.1 776.5,301.7 774.8,304.5 773.3,305.5 769.4,305.6" fill="#8a7350"/><polygon points="781.0,323.3 782.8,323.0 785.4,324.5 784.1,327.1 781.7,328.1 778.6,327.3 778.0,325.4" fill="#956f4d"/><polygon points="792.0,326.8 790.1,327.4 786.1,326.4 785.4,324.6 788.0,323.6 791.8,323.5 794.7,325.3" fill="#877250"/><polygon points="805.0,383.1 805.3,381.1 807.7,380.3 810.1,380.6 811.5,381.4 809.8,383.4 807.7,384.3" fill="#8a7350"/><polygon points="796.4,316.3 797.1,318.9 794.2,320.8 791.2,319.6 790.1,316.8 791.3,315.3 793.9,315.2" fill="#8f7550"/><polygon points="837.9,367.4 837.0,369.0 833.4,368.6 830.0,366.5 830.8,365.2 834.1,364.1 836.8,365.6" fill="#8a7350"/><polygon points="759.1,353.3 763.2,352.0 765.2,353.2 764.0,355.0 762.3,357.0 758.5,356.9 758.0,354.6" fill="#8a7350"/><polygon points="777.5,299.6 776.0,300.4 772.6,299.6 771.8,298.3 771.5,296.1 775.5,296.0 777.1,297.3" fill="#877250"/><polygon points="827.0,290.7 828.7,289.8 831.0,290.7 831.3,292.9 829.3,294.0 826.6,293.8 825.6,293.2" fill="#956f4d"/><polygon points="830.6,379.3 831.2,380.8 829.5,382.2 827.2,381.6 825.9,381.0 825.8,379.1 828.9,378.1" fill="#85704c"/><polygon points="776.5,342.3 779.2,342.8 780.6,344.3 777.8,347.3 774.8,347.2 772.3,346.0 772.5,344.5" fill="#8f7550"/><polygon points="796.3,365.5 793.1,366.9 791.0,366.5 791.2,364.5 793.4,362.5 795.9,362.1 797.3,362.6" fill="#8f7550"/><polygon points="746.7,360.5 746.3,358.5 748.1,357.1 750.5,357.1 752.8,358.8 751.1,359.9 749.4,360.7" fill="#8a7350"/><polygon points="750.8,338.0 749.0,336.5 750.9,334.2 752.3,333.8 755.1,334.1 755.0,337.3 753.1,338.3" fill="#956f4d"/><polygon points="752.5,305.0 750.5,303.8 750.1,301.4 752.9,300.3 756.2,301.6 756.0,303.7 755.3,304.8" fill="#8f7550"/><polygon points="820.3,301.7 823.0,301.5 825.4,304.0 825.5,305.9 823.0,306.9 819.3,304.6 818.8,303.0" fill="#877250"/><polygon points="779.6,321.4 777.8,322.0 775.7,320.3 775.6,317.7 777.2,317.2 781.6,318.0 781.8,320.1" fill="#8f7550"/><polygon points="762.5,381.5 764.4,384.1 762.4,386.2 760.2,385.9 757.4,384.4 755.8,382.5 759.6,381.1" fill="#8f7550"/><polygon points="836.2,298.6 834.8,297.2 835.7,295.6 837.5,295.0 839.6,295.4 841.3,297.5 839.4,298.1" fill="#877250"/><polygon points="823.0,290.8 823.5,292.6 822.2,293.7 819.4,294.0 817.4,293.1 817.4,290.9 818.7,290.1" fill="#8f7550"/><polygon points="769.8,341.6 771.8,344.0 770.7,346.7 767.9,347.3 765.2,346.1 764.4,343.8 766.7,341.6" fill="#8a7350"/><polygon points="796.3,281.1 795.2,280.4 797.0,278.7 799.3,278.3 800.5,279.2 800.6,281.6 799.0,281.9" fill="#8f7550"/><polygon points="763.0,289.1 765.2,289.0 768.5,290.3 768.8,292.2 767.5,293.8 763.4,292.3 761.9,290.8" fill="#8a7350"/><polygon points="808.2,356.8 811.9,359.6 811.2,362.2 809.6,363.2 805.3,362.9 803.5,359.3 805.6,357.9" fill="#956f4d"/><polygon points="785.1,382.0 786.8,384.3 784.6,385.4 781.3,385.6 779.2,383.1 779.2,381.5 782.2,380.3" fill="#8a7350"/><polygon points="802.2,310.0 800.2,312.2 796.3,313.0 794.4,310.2 795.5,308.4 799.3,306.2 802.1,308.3" fill="#8a7350"/><polygon points="813.6,323.6 810.8,324.3 807.5,322.2 808.8,320.8 813.6,317.8 815.0,318.8 815.5,321.5" fill="#8c7852"/><polygon points="749.4,343.9 747.5,346.0 744.4,345.0 742.8,343.8 742.1,341.9 746.3,340.3 748.9,341.1" fill="#8f7550"/><polygon points="825.4,282.9 823.6,281.5 824.6,279.3 828.2,279.0 830.7,280.6 831.2,283.8 828.3,284.5" fill="#956f4d"/><polygon points="814.3,289.6 810.4,288.4 810.3,286.2 811.9,285.7 815.6,285.5 817.6,287.4 816.8,289.2" fill="#8a7350"/><polygon points="762.0,298.5 765.4,298.2 768.3,298.6 767.9,301.5 765.1,302.4 762.2,302.1 760.4,300.8" fill="#8a7350"/><polygon points="816.7,344.9 814.8,343.7 813.5,342.6 816.6,340.2 820.0,339.3 820.7,341.0 819.9,342.9" fill="#8c7852"/><polygon points="752.9,347.0 755.8,348.4 755.6,351.1 753.1,352.3 749.7,350.8 748.6,349.2 750.7,346.2" fill="#956f4d"/><polygon points="816.6,336.4 815.0,338.3 811.0,337.2 809.4,334.8 811.3,333.3 813.8,332.6 816.7,334.3" fill="#877250"/><polygon points="819.8,284.8 820.2,283.5 823.2,282.9 824.6,284.7 825.3,286.7 823.0,288.0 820.6,288.1" fill="#8c7852"/><polygon points="806.8,313.4 808.6,311.9 812.4,311.2 815.2,314.5 813.2,316.3 810.4,317.2 806.7,316.5" fill="#85704c"/><polygon points="821.5,312.8 818.3,313.0 815.7,312.2 814.0,310.4 816.6,308.9 819.0,308.7 821.0,311.1" fill="#8a7350"/><polygon points="778.0,292.3 776.7,294.3 774.0,294.1 771.8,293.7 771.7,290.9 774.4,290.0 777.6,290.4" fill="#85704c"/><polygon points="809.3,305.9 808.2,307.9 805.5,308.1 802.5,305.8 803.4,304.2 804.5,303.1 807.3,304.2" fill="#8f7550"/><polygon points="759.0,363.0 757.4,363.8 753.6,364.2 751.7,363.0 752.3,361.8 754.8,359.8 757.4,360.2" fill="#8f7550"/><polygon points="777.6,332.5 779.0,333.8 778.7,336.0 775.9,336.1 773.7,335.6 773.5,333.5 774.5,332.3" fill="#85704c"/><polygon points="771.1,385.5 772.6,386.8 774.1,388.6 771.8,389.9 768.3,389.4 767.3,387.7 768.5,386.1" fill="#85704c"/><polygon points="791.2,285.9 793.1,286.3 794.6,287.3 795.0,288.6 793.1,289.5 790.6,289.1 790.1,287.9" fill="#877250"/><polygon points="824.3,332.2 821.8,332.6 818.0,331.8 819.0,329.5 820.3,328.0 824.4,328.8 824.7,330.0" fill="#956f4d"/><polygon points="797.3,298.1 800.8,297.0 804.1,297.7 805.1,299.4 803.7,301.4 800.4,301.7 797.3,299.8" fill="#85704c"/><polygon points="815.2,384.3 815.3,381.7 818.1,381.6 819.7,382.8 819.9,384.5 818.1,385.9 815.7,385.2" fill="#956f4d"/><polygon points="825.9,373.2 824.6,374.9 822.2,375.4 820.5,374.5 819.6,372.1 822.1,371.4 824.6,371.9" fill="#956f4d"/><polygon points="834.1,277.9 836.9,278.9 837.4,280.1 836.0,281.5 833.3,282.0 830.5,280.6 832.2,278.2" fill="#8c7852"/><polygon points="830.2,313.4 829.3,310.9 830.7,308.7 833.5,309.2 835.7,311.4 836.0,313.9 831.6,314.8" fill="#956f4d"/><polygon points="751.1,311.3 748.7,310.3 747.5,308.2 748.7,306.8 752.5,307.6 754.5,309.2 753.5,310.2" fill="#8c7852"/><polygon points="806.4,282.9 805.4,282.2 805.4,281.3 807.2,279.7 809.0,279.8 810.2,280.7 809.3,282.2" fill="#8f7550"/><polygon points="756.4,371.7 755.7,373.4 753.5,374.4 752.1,373.9 750.6,371.2 750.6,369.9 754.0,369.8" fill="#8a7350"/><polygon points="765.0,357.6 767.2,356.3 769.2,356.2 771.1,358.1 769.7,359.2 767.3,360.5 764.9,359.2" fill="#956f4d"/><polygon points="783.7,352.2 783.5,354.2 780.6,355.4 778.4,354.9 778.0,352.6 780.3,351.7 782.7,351.5" fill="#877250"/><polygon points="812.7,299.7 815.5,300.9 815.8,302.8 815.3,303.9 813.0,304.1 809.7,302.4 810.0,300.7" fill="#8f7550"/><polygon points="763.1,377.4 761.3,379.4 758.4,379.4 755.7,377.4 757.6,375.0 761.0,374.5 762.9,375.9" fill="#8f7550"/><polygon points="791.1,304.9 787.7,306.2 785.5,305.7 782.5,302.7 784.9,301.2 788.5,300.6 790.5,301.9" fill="#8c7852"/><polygon points="805.1,392.4 808.9,391.7 811.3,392.9 812.0,394.8 809.9,396.5 807.5,396.5 804.0,393.9" fill="#8f7550"/><polygon points="748.5,321.6 747.7,319.9 749.3,318.3 753.5,318.5 754.8,320.6 753.8,322.8 751.6,322.8" fill="#956f4d"/><polygon points="741.5,326.6 740.6,325.5 741.4,324.0 743.1,323.3 746.1,323.8 746.2,324.7 744.6,326.0" fill="#85704c"/><polygon points="820.9,317.8 818.9,315.9 821.2,313.5 825.3,312.8 828.3,314.0 827.2,316.3 824.9,318.8" fill="#8f7550"/><polygon points="820.0,358.6 816.6,359.1 812.8,358.1 812.1,355.9 813.1,354.7 816.9,354.2 820.9,356.3" fill="#956f4d"/><polygon points="776.9,281.1 778.5,280.6 781.8,280.5 784.2,282.0 783.3,283.8 779.9,285.1 778.7,283.8" fill="#956f4d"/><polygon points="821.4,383.9 823.3,382.9 825.3,382.7 827.9,384.4 828.1,385.9 825.6,386.7 823.4,386.6" fill="#8f7550"/><polygon points="797.8,378.8 795.2,380.5 792.7,379.9 790.3,376.6 791.0,375.0 795.0,374.7 797.2,377.2" fill="#8c7852"/><polygon points="832.6,374.3 836.5,374.9 837.0,376.2 836.5,377.9 834.4,378.1 832.0,377.1 832.0,375.5" fill="#8f7550"/><polygon points="827.3,366.2 825.6,366.0 822.8,363.7 823.9,362.1 826.7,361.5 830.2,362.7 830.0,365.7" fill="#85704c"/><polygon points="794.7,389.7 796.0,390.8 795.2,392.9 793.4,393.0 791.1,392.7 791.1,391.1 791.9,389.8" fill="#8c7852"/><polygon points="823.9,333.5 825.8,335.8 825.5,338.5 824.1,340.0 819.4,338.5 819.7,335.6 820.1,334.0" fill="#8f7550"/><polygon points="765.6,384.1 765.8,381.8 767.5,380.1 770.3,380.0 772.6,382.2 769.8,384.9 767.6,386.0" fill="#877250"/><polygon points="823.7,344.7 825.0,343.9 827.6,344.0 828.7,346.4 827.7,347.3 823.6,348.2 823.1,346.7" fill="#85704c"/><polygon points="815.4,380.2 811.6,380.8 810.5,379.5 813.1,376.0 815.4,374.9 818.2,376.1 818.7,378.0" fill="#8c7852"/><polygon points="767.6,307.5 770.8,307.1 773.0,308.4 773.5,310.2 771.4,311.2 768.0,310.7 766.3,308.9" fill="#8f7550"/><polygon points="828.3,294.5 829.4,296.5 828.8,298.4 826.2,300.0 823.2,298.6 822.1,296.3 825.1,295.0" fill="#877250"/><polygon points="766.6,322.9 765.4,320.9 766.8,317.8 770.1,316.5 774.6,317.8 774.6,320.6 771.8,322.3" fill="#8f7550"/><polygon points="776.3,309.6 778.0,307.4 779.4,306.3 784.0,307.5 784.2,308.7 781.9,310.5 778.3,311.2" fill="#956f4d"/><polygon points="810.5,386.5 811.3,388.1 811.1,389.6 809.5,390.9 807.2,389.5 805.8,386.8 807.7,386.3" fill="#8c7852"/><polygon points="742.0,350.7 743.5,348.8 746.5,349.8 747.1,350.8 747.2,352.7 743.8,353.0 741.8,351.9" fill="#8f7550"/><polygon points="770.9,286.1 771.5,284.1 774.8,282.7 776.9,284.5 778.6,287.1 776.9,288.3 773.5,287.6" fill="#85704c"/><polygon points="803.4,325.8 802.3,326.7 798.9,327.1 797.4,325.8 799.6,323.3 801.9,321.8 803.8,323.8" fill="#8f7550"/><polygon points="828.5,388.8 828.7,390.5 826.8,392.1 823.3,392.0 823.1,390.5 824.0,388.5 827.9,388.3" fill="#8f7550"/><polygon points="783.7,371.3 787.8,372.8 788.9,374.3 787.5,375.8 785.2,376.6 782.6,374.7 782.9,373.0" fill="#956f4d"/><polygon points="787.5,348.5 789.8,348.5 792.1,349.1 792.0,351.0 790.1,352.7 787.2,351.7 786.8,350.4" fill="#85704c"/><polygon points="757.8,368.1 760.3,367.0 764.0,369.4 762.7,371.2 760.9,372.5 757.1,371.3 756.5,368.9" fill="#8a7350"/><polygon points="748.6,364.8 747.8,367.0 744.9,368.2 742.0,366.4 740.9,365.2 743.5,363.6 746.3,363.3" fill="#85704c"/><polygon points="768.8,312.2 768.7,314.3 767.4,315.5 765.4,316.2 764.2,315.6 764.2,313.4 766.0,312.5" fill="#8a7350"/><polygon points="802.1,289.9 800.8,288.6 803.5,286.9 805.9,287.2 808.0,289.1 808.0,291.5 805.9,292.0" fill="#956f4d"/><polygon points="779.4,313.1 782.3,312.5 785.3,312.6 786.6,314.5 786.4,316.5 784.7,317.7 780.6,316.0" fill="#8a7350"/><polygon points="802.0,276.9 801.4,275.0 803.1,274.0 805.0,274.8 806.8,276.0 805.0,277.7 802.9,277.5" fill="#8a7350"/><polygon points="779.0,298.2 781.3,297.1 784.3,298.1 785.0,299.4 783.4,301.1 780.0,301.4 778.3,299.7" fill="#8f7550"/><polygon points="745.9,334.5 746.8,336.4 747.1,338.6 743.4,338.8 741.3,337.7 740.9,335.2 743.9,334.1" fill="#8a7350"/><polygon points="790.1,388.7 788.9,390.3 786.1,390.0 784.4,388.7 785.1,387.4 787.0,386.8 790.0,387.3" fill="#956f4d"/><polygon points="744.6,355.4 745.5,357.2 744.6,358.9 740.9,359.8 739.4,357.8 740.2,355.5 743.3,354.8" fill="#877250"/><polygon points="743.0,319.1 740.1,318.6 739.9,316.8 739.8,314.5 744.5,314.4 746.7,315.9 746.9,317.8" fill="#85704c"/><polygon points="829.1,306.8 830.1,308.8 828.5,310.7 825.5,310.6 823.2,308.8 823.5,306.4 825.3,305.5" fill="#85704c"/><polygon points="825.5,325.2 825.0,326.8 821.9,327.8 818.5,326.6 817.8,323.0 821.7,322.3 824.6,322.6" fill="#956f4d"/><polygon points="780.6,369.8 780.6,372.9 778.6,374.7 774.5,375.5 773.5,373.5 773.6,370.8 777.3,369.8" fill="#8a7350"/><polygon points="760.8,296.7 759.8,298.0 757.0,298.0 754.0,295.9 754.4,294.3 757.5,294.0 760.3,295.4" fill="#85704c"/><polygon points="820.1,275.0 821.4,275.6 823.6,276.5 823.4,278.0 821.1,278.3 819.0,277.3 818.6,276.3" fill="#8a7350"/><polygon points="833.0,359.1 835.6,359.4 835.0,361.0 833.8,362.3 831.2,363.1 829.6,362.2 830.5,360.2" fill="#956f4d"/><polygon points="839.4,288.7 841.9,290.6 842.0,292.5 841.2,293.6 838.2,293.6 835.7,291.2 837.6,289.4" fill="#85704c"/><polygon points="789.9,332.6 790.4,330.2 794.0,329.5 795.8,329.7 796.5,331.2 795.7,333.2 791.1,333.5" fill="#8c7852"/><polygon points="799.7,368.0 801.5,365.8 805.7,365.3 806.0,367.6 804.7,369.6 800.6,371.5 799.3,369.6" fill="#8c7852"/><polygon points="812.6,347.7 814.9,349.7 815.0,351.2 814.4,352.5 811.1,352.4 809.2,349.6 810.6,348.7" fill="#877250"/><polygon points="764.5,348.9 762.7,350.0 760.8,350.3 758.8,348.7 759.5,346.5 761.2,346.3 764.3,346.8" fill="#8a7350"/><polygon points="793.4,335.9 797.7,336.2 798.5,338.5 797.0,340.5 794.6,341.0 792.0,339.3 791.9,337.5" fill="#877250"/><polygon points="746.2,368.8 749.2,369.9 750.2,372.7 747.8,374.4 745.5,373.6 742.8,372.8 743.3,370.0" fill="#956f4d"/><polygon points="833.2,386.4 830.7,386.6 830.3,384.7 831.6,383.7 834.1,383.7 835.3,384.9 835.4,385.7" fill="#956f4d"/><polygon points="815.3,297.0 817.1,296.4 819.9,296.4 821.0,297.0 820.0,299.1 818.2,299.8 816.8,299.2" fill="#8c7852"/><polygon points="819.1,369.3 817.7,367.9 818.7,366.5 821.2,366.0 823.4,366.9 823.3,368.4 821.2,369.8" fill="#8f7550"/><polygon points="799.9,303.6 797.0,305.5 793.9,305.6 792.4,303.5 793.3,301.7 796.3,301.0 800.1,302.4" fill="#8c7852"/><polygon points="763.8,336.7 766.7,336.9 767.9,337.6 768.6,339.5 767.1,340.4 764.3,339.9 763.3,338.2" fill="#85704c"/><polygon points="834.4,306.4 836.9,306.0 838.8,307.1 839.4,308.3 838.2,309.4 835.9,309.7 833.6,307.7" fill="#8f7550"/><polygon points="782.0,338.2 785.3,338.3 786.8,341.3 784.7,343.1 781.0,343.0 779.6,341.1 779.4,339.2" fill="#877250"/><polygon points="748.7,377.2 750.2,375.6 752.0,375.9 754.0,376.9 753.5,378.3 752.4,379.3 750.3,378.5" fill="#8c7852"/><polygon points="795.5,349.4 792.6,346.9 793.3,345.3 797.1,345.2 799.2,345.9 800.9,348.0 798.8,349.7" fill="#8c7852"/><polygon points="811.8,338.4 811.4,339.8 807.6,341.6 804.2,340.6 802.7,339.3 805.9,336.8 809.0,335.7" fill="#956f4d"/><polygon points="786.5,289.2 783.7,289.1 782.2,287.4 782.5,285.2 785.8,283.5 789.0,284.4 789.4,286.9" fill="#85704c"/><polygon points="806.4,365.8 806.6,363.9 809.2,362.6 812.9,364.5 813.3,366.2 811.0,368.2 807.5,366.9" fill="#8a7350"/><polygon points="825.0,352.9 826.9,351.0 829.2,350.8 831.9,351.8 832.3,354.5 829.2,355.6 825.6,354.8" fill="#8c7852"/><polygon points="773.2,384.9 774.0,382.8 776.9,381.3 779.1,382.4 778.8,384.7 776.9,385.4 774.9,385.8" fill="#956f4d"/><polygon points="822.4,376.5 825.2,377.9 824.6,379.7 823.6,380.7 820.6,380.1 818.8,379.0 820.2,377.2" fill="#956f4d"/></g>
<path d="M742.5,316.0 L742.8,314.7 L743.1,313.5 L743.4,312.3 L743.7,311.2 L744.1,310.1 L744.6,309.1 L745.1,308.1 L745.6,307.1 L746.3,306.0 L747.0,305.0 L748.1,303.6 L749.3,302.3 L750.7,301.0 L752.3,299.7 L753.9,298.4 L755.5,297.1 L757.2,295.9 L758.8,294.6 L760.5,293.3 L762.0,292.0 L763.5,290.7 L764.9,289.2 L766.3,287.8 L767.7,286.3 L769.1,284.9 L770.6,283.5 L772.1,282.2 L773.6,281.0 L775.3,279.9 L777.0,279.0 L779.0,278.2 L781.1,277.5 L783.2,276.9 L785.4,276.5 L787.7,276.2 L790.1,275.9 L792.5,275.7 L795.0,275.6 L797.5,275.5 L800.0,275.5 L803.4,275.5 L807.2,275.5 L811.3,275.6 L815.5,275.7 L819.7,276.0 L823.7,276.4 L827.5,277.0 L830.9,277.8 L833.8,278.8 L836.0,280.0 L837.0,280.8 L837.8,281.7 L838.5,282.7 L839.1,283.7 L839.6,284.8 L840.0,285.9 L840.3,287.0 L840.6,288.2 L840.8,289.3 L841.0,290.5 L841.2,291.8 L841.3,293.0 L841.3,294.3 L841.3,295.7 L841.2,297.0 L841.0,298.4 L840.8,299.8 L840.4,301.2 L840.1,302.6 L839.6,304.0 L838.8,305.8 L837.7,307.7 L836.5,309.6 L835.1,311.5 L833.6,313.5 L832.1,315.4 L830.6,317.4 L829.3,319.3 L828.2,321.3 L827.3,323.2 L826.7,324.8 L826.1,326.4 L825.6,328.0 L825.2,329.6 L824.8,331.2 L824.6,332.9 L824.4,334.5 L824.3,336.2 L824.4,337.9 L824.5,339.6 L825.0,341.9 L825.8,344.4 L826.8,346.9 L828.1,349.5 L829.4,352.1 L830.8,354.7 L832.1,357.2 L833.3,359.6 L834.3,361.9 L835.0,364.0 L835.3,365.2 L835.6,366.4 L835.9,367.6 L836.1,368.7 L836.3,369.7 L836.4,370.8 L836.5,371.8 L836.5,372.8 L836.5,373.9 L836.4,375.0 L836.3,376.2 L836.1,377.5 L835.9,378.8 L835.6,380.2 L835.3,381.5 L834.8,382.8 L834.4,384.0 L833.8,385.2 L833.1,386.3 L832.3,387.3 L831.3,388.3 L830.1,389.2 L828.7,390.1 L827.3,390.8 L825.7,391.5 L824.1,392.1 L822.5,392.7 L820.7,393.2 L819.0,393.6 L817.3,394.0 L815.2,394.4 L813.0,394.6 L810.7,394.8 L808.3,394.8 L805.9,394.8 L803.5,394.7 L801.0,394.6 L798.6,394.4 L796.3,394.2 L794.0,394.0 L791.9,393.8 L789.8,393.5 L787.8,393.3 L785.7,393.0 L783.7,392.6 L781.7,392.2 L779.6,391.8 L777.6,391.2 L775.6,390.7 L773.6,390.0 L771.4,389.2 L769.1,388.3 L766.7,387.4 L764.4,386.4 L762.0,385.3 L759.8,384.1 L757.6,382.9 L755.6,381.7 L753.7,380.4 L752.0,379.0 L750.8,377.9 L749.6,376.7 L748.5,375.6 L747.5,374.4 L746.6,373.1 L745.7,371.8 L744.9,370.5 L744.2,369.1 L743.6,367.6 L743.0,366.0 L742.4,363.8 L742.1,361.5 L741.9,358.9 L741.9,356.3 L741.9,353.6 L742.1,350.8 L742.2,348.1 L742.4,345.3 L742.5,342.6 L742.5,340.0 L742.4,337.5 L742.3,335.0 L742.2,332.4 L742.1,329.9 L742.0,327.3 L741.9,324.8 L741.9,322.4 L742.0,320.2 L742.2,318.0 L742.5,316.0Z" fill="none" stroke="#8f7b5a" stroke-width="1.2"/>
<path d="M210.7,377.0 L211.0,376.0 L211.8,374.9 L213.1,373.7 L214.8,372.6 L216.7,371.5 L218.8,370.3 L221.0,369.2 L223.2,368.1 L225.2,367.0 L227.0,366.0 L228.6,365.0 L230.2,364.0 L231.7,363.1 L233.3,362.1 L234.8,361.2 L236.4,360.3 L238.1,359.5 L240.0,358.7 L241.9,358.0 L244.0,357.3 L247.6,356.5 L251.6,355.8 L255.9,355.4 L260.4,355.0 L265.1,354.8 L270.0,354.6 L275.0,354.5 L280.0,354.3 L285.0,354.2 L290.0,353.9 L295.7,353.6 L301.6,353.3 L307.6,353.0 L313.7,352.7 L319.9,352.5 L326.0,352.2 L332.2,351.9 L338.2,351.5 L344.2,351.1 L350.0,350.7 L355.2,350.2 L360.3,349.7 L365.3,349.1 L370.3,348.5 L375.3,347.9 L380.2,347.3 L385.1,346.7 L390.1,346.1 L395.0,345.5 L400.0,345.0 L404.9,344.5 L409.7,344.1 L414.5,343.6 L419.2,343.2 L423.9,342.8 L428.8,342.4 L433.7,342.0 L438.9,341.6 L444.3,341.2 L450.0,340.7 L458.6,340.0 L467.8,339.2 L477.5,338.4 L487.5,337.6 L497.9,336.8 L508.4,335.9 L518.9,335.1 L529.4,334.2 L539.8,333.4 L550.0,332.6 L560.2,331.8 L570.8,330.9 L581.6,330.1 L592.5,329.2 L603.2,328.3 L613.7,327.5 L623.8,326.7 L633.3,326.1 L642.1,325.5 L650.0,325.0 L654.3,324.7 L658.5,324.5 L662.5,324.2 L666.3,323.9 L670.0,323.7 L673.4,323.5 L676.6,323.4 L679.5,323.4 L682.2,323.5 L684.5,323.8 L685.5,324.0 L686.4,324.2 L687.2,324.4 L688.0,324.6 L688.7,324.9 L689.4,325.1 L690.1,325.5 L690.7,325.8 L691.4,326.1 L692.0,326.5 L692.6,326.9 L693.2,327.3 L693.8,327.7 L694.3,328.1 L694.8,328.6 L695.4,329.1 L695.9,329.6 L696.4,330.1 L696.8,330.6 L697.3,331.2 L697.8,331.8 L698.3,332.5 L698.8,333.2 L699.2,333.9 L699.7,334.7 L700.1,335.4 L700.5,336.2 L700.9,337.0 L701.2,337.8 L701.5,338.6 L701.8,339.5 L702.0,340.4 L702.3,341.4 L702.4,342.4 L702.6,343.4 L702.7,344.4 L702.8,345.4 L702.8,346.4 L702.7,347.3 L702.6,348.2 L702.4,348.9 L702.2,349.6 L702.0,350.2 L701.6,350.9 L701.3,351.5 L700.9,352.1 L700.6,352.7 L700.2,353.3 L699.8,353.9 L699.4,354.5 L699.0,355.2 L698.6,355.8 L698.3,356.5 L697.9,357.2 L697.5,357.8 L697.0,358.5 L696.6,359.1 L696.1,359.8 L695.6,360.4 L695.0,361.0 L694.3,361.7 L693.5,362.4 L692.8,363.1 L691.9,363.8 L691.1,364.5 L690.1,365.1 L689.1,365.7 L688.0,366.3 L686.9,366.8 L685.6,367.3 L683.1,368.0 L680.3,368.5 L677.3,368.8 L674.0,369.0 L670.4,369.0 L666.7,369.1 L662.8,369.1 L658.7,369.1 L654.4,369.1 L650.0,369.2 L642.0,369.4 L633.2,369.6 L623.7,369.7 L613.6,369.8 L603.2,369.9 L592.4,369.9 L581.6,370.0 L570.8,370.1 L560.2,370.3 L550.0,370.5 L539.8,370.8 L529.4,371.0 L518.9,371.4 L508.3,371.7 L497.8,372.1 L487.5,372.4 L477.5,372.8 L467.8,373.2 L458.6,373.7 L450.0,374.1 L444.3,374.4 L438.9,374.7 L433.7,375.0 L428.8,375.4 L423.9,375.7 L419.2,376.0 L414.5,376.4 L409.7,376.8 L404.9,377.2 L400.0,377.6 L395.0,378.1 L390.1,378.5 L385.1,379.1 L380.2,379.6 L375.3,380.2 L370.3,380.7 L365.3,381.3 L360.3,381.8 L355.2,382.3 L350.0,382.8 L344.2,383.3 L338.3,383.8 L332.2,384.2 L326.1,384.7 L320.0,385.1 L313.9,385.6 L307.8,386.0 L301.7,386.4 L295.8,386.9 L290.0,387.3 L284.7,387.8 L279.3,388.4 L273.8,389.1 L268.3,389.8 L262.9,390.5 L257.7,391.1 L252.8,391.5 L248.1,391.7 L243.8,391.7 L240.0,391.4 L238.0,391.1 L236.1,390.7 L234.4,390.2 L232.8,389.6 L231.3,389.0 L229.8,388.4 L228.3,387.7 L226.9,387.0 L225.5,386.2 L224.0,385.5 L222.5,384.8 L220.8,384.0 L219.0,383.2 L217.3,382.4 L215.6,381.5 L214.0,380.6 L212.7,379.7 L211.6,378.8 L211.0,377.9 L210.7,377.0Z" fill="url(#mg)"/>
<g clip-path="url(#cm)"><g filter="url(#bl)"><ellipse cx="300" cy="368" rx="40" ry="5" fill="#e4d8b6" opacity="0.7"/><ellipse cx="470" cy="354" rx="45" ry="6" fill="#e4d8b6" opacity="0.6"/><ellipse cx="600" cy="346" rx="40" ry="6" fill="#e4d8b6" opacity="0.6"/><ellipse cx="650" cy="358" rx="18" ry="4" fill="#e6dab8" opacity="0.6"/><ellipse cx="250" cy="380" rx="20" ry="3" fill="#bfa684" opacity="0.5"/></g><ellipse cx="262" cy="370" rx="4" ry="1.5" fill="#bca484" opacity="0.6"/><ellipse cx="325" cy="366" rx="12" ry="1.3" fill="#bca484" opacity="0.5"/><ellipse cx="500" cy="351" rx="6" ry="2" fill="#c8b290" opacity="0.6"/><ellipse cx="618" cy="353" rx="9" ry="2" fill="#c8b290" opacity="0.6"/><ellipse cx="655" cy="344" rx="7" ry="2" fill="#c8b290" opacity="0.6"/></g>
<path d="M210.7,377.0 L211.0,376.0 L211.8,374.9 L213.1,373.7 L214.8,372.6 L216.7,371.5 L218.8,370.3 L221.0,369.2 L223.2,368.1 L225.2,367.0 L227.0,366.0 L228.6,365.0 L230.2,364.0 L231.7,363.1 L233.3,362.1 L234.8,361.2 L236.4,360.3 L238.1,359.5 L240.0,358.7 L241.9,358.0 L244.0,357.3 L247.6,356.5 L251.6,355.8 L255.9,355.4 L260.4,355.0 L265.1,354.8 L270.0,354.6 L275.0,354.5 L280.0,354.3 L285.0,354.2 L290.0,353.9 L295.7,353.6 L301.6,353.3 L307.6,353.0 L313.7,352.7 L319.9,352.5 L326.0,352.2 L332.2,351.9 L338.2,351.5 L344.2,351.1 L350.0,350.7 L355.2,350.2 L360.3,349.7 L365.3,349.1 L370.3,348.5 L375.3,347.9 L380.2,347.3 L385.1,346.7 L390.1,346.1 L395.0,345.5 L400.0,345.0 L404.9,344.5 L409.7,344.1 L414.5,343.6 L419.2,343.2 L423.9,342.8 L428.8,342.4 L433.7,342.0 L438.9,341.6 L444.3,341.2 L450.0,340.7 L458.6,340.0 L467.8,339.2 L477.5,338.4 L487.5,337.6 L497.9,336.8 L508.4,335.9 L518.9,335.1 L529.4,334.2 L539.8,333.4 L550.0,332.6 L560.2,331.8 L570.8,330.9 L581.6,330.1 L592.5,329.2 L603.2,328.3 L613.7,327.5 L623.8,326.7 L633.3,326.1 L642.1,325.5 L650.0,325.0 L654.3,324.7 L658.5,324.5 L662.5,324.2 L666.3,323.9 L670.0,323.7 L673.4,323.5 L676.6,323.4 L679.5,323.4 L682.2,323.5 L684.5,323.8 L685.5,324.0 L686.4,324.2 L687.2,324.4 L688.0,324.6 L688.7,324.9 L689.4,325.1 L690.1,325.5 L690.7,325.8 L691.4,326.1 L692.0,326.5 L692.6,326.9 L693.2,327.3 L693.8,327.7 L694.3,328.1 L694.8,328.6 L695.4,329.1 L695.9,329.6 L696.4,330.1 L696.8,330.6 L697.3,331.2 L697.8,331.8 L698.3,332.5 L698.8,333.2 L699.2,333.9 L699.7,334.7 L700.1,335.4 L700.5,336.2 L700.9,337.0 L701.2,337.8 L701.5,338.6 L701.8,339.5 L702.0,340.4 L702.3,341.4 L702.4,342.4 L702.6,343.4 L702.7,344.4 L702.8,345.4 L702.8,346.4 L702.7,347.3 L702.6,348.2 L702.4,348.9 L702.2,349.6 L702.0,350.2 L701.6,350.9 L701.3,351.5 L700.9,352.1 L700.6,352.7 L700.2,353.3 L699.8,353.9 L699.4,354.5 L699.0,355.2 L698.6,355.8 L698.3,356.5 L697.9,357.2 L697.5,357.8 L697.0,358.5 L696.6,359.1 L696.1,359.8 L695.6,360.4 L695.0,361.0 L694.3,361.7 L693.5,362.4 L692.8,363.1 L691.9,363.8 L691.1,364.5 L690.1,365.1 L689.1,365.7 L688.0,366.3 L686.9,366.8 L685.6,367.3 L683.1,368.0 L680.3,368.5 L677.3,368.8 L674.0,369.0 L670.4,369.0 L666.7,369.1 L662.8,369.1 L658.7,369.1 L654.4,369.1 L650.0,369.2 L642.0,369.4 L633.2,369.6 L623.7,369.7 L613.6,369.8 L603.2,369.9 L592.4,369.9 L581.6,370.0 L570.8,370.1 L560.2,370.3 L550.0,370.5 L539.8,370.8 L529.4,371.0 L518.9,371.4 L508.3,371.7 L497.8,372.1 L487.5,372.4 L477.5,372.8 L467.8,373.2 L458.6,373.7 L450.0,374.1 L444.3,374.4 L438.9,374.7 L433.7,375.0 L428.8,375.4 L423.9,375.7 L419.2,376.0 L414.5,376.4 L409.7,376.8 L404.9,377.2 L400.0,377.6 L395.0,378.1 L390.1,378.5 L385.1,379.1 L380.2,379.6 L375.3,380.2 L370.3,380.7 L365.3,381.3 L360.3,381.8 L355.2,382.3 L350.0,382.8 L344.2,383.3 L338.3,383.8 L332.2,384.2 L326.1,384.7 L320.0,385.1 L313.9,385.6 L307.8,386.0 L301.7,386.4 L295.8,386.9 L290.0,387.3 L284.7,387.8 L279.3,388.4 L273.8,389.1 L268.3,389.8 L262.9,390.5 L257.7,391.1 L252.8,391.5 L248.1,391.7 L243.8,391.7 L240.0,391.4 L238.0,391.1 L236.1,390.7 L234.4,390.2 L232.8,389.6 L231.3,389.0 L229.8,388.4 L228.3,387.7 L226.9,387.0 L225.5,386.2 L224.0,385.5 L222.5,384.8 L220.8,384.0 L219.0,383.2 L217.3,382.4 L215.6,381.5 L214.0,380.6 L212.7,379.7 L211.6,378.8 L211.0,377.9 L210.7,377.0Z" fill="none" stroke="#a88e72" stroke-width="1"/>
</g>
<text transform="translate(55.5 195.7) scale(1.2 1)" font-family="&quot;Liberation Sans&quot;, sans-serif" font-size="17" font-weight="normal" fill="#262626" stroke="#262626" stroke-width="0.3">Articular cartilage</text>
<text transform="translate(132 237.6) scale(1.2 1)" font-family="&quot;Liberation Sans&quot;, sans-serif" font-size="17" font-weight="normal" fill="#262626" stroke="#262626" stroke-width="0.3">Cancellous bone</text>
<text transform="translate(183.3 277) scale(1.205 1)" font-family="&quot;Liberation Sans&quot;, sans-serif" font-size="17" font-weight="normal" fill="#262626" stroke="#262626" stroke-width="0.3">Epiphyseal</text>
<text transform="translate(295.4 277) scale(1.0 1)" font-family="&quot;Liberation Sans&quot;, sans-serif" font-size="14" font-weight="bold" fill="#111">Line</text>
<text transform="translate(381.3 238.1) scale(1.19 1)" font-family="&quot;Liberation Sans&quot;, sans-serif" font-size="17" font-weight="normal" fill="#262626" stroke="#262626" stroke-width="0.3">Marrow cavity</text>
<text transform="translate(522.8 196) scale(1.2 1)" font-family="&quot;Liberation Sans&quot;, sans-serif" font-size="17" font-weight="normal" fill="#262626" stroke="#262626" stroke-width="0.3">Periosteum</text>
<text transform="translate(593 237.3) scale(1.19 1)" font-family="&quot;Liberation Sans&quot;, sans-serif" font-size="17" font-weight="normal" fill="#262626" stroke="#262626" stroke-width="0.3">Compact bone</text>
<line x1="57" y1="202" x2="57" y2="263" stroke="#111" stroke-width="1.6"/><rect x="53" y="261.5" width="8" height="3" fill="#111"/>
<line x1="133" y1="242.5" x2="133" y2="364.5" stroke="#111" stroke-width="1.6"/><rect x="129" y="363.0" width="8" height="3" fill="#111"/>
<line x1="185.6" y1="281" x2="185.6" y2="381" stroke="#111" stroke-width="1.6"/><rect x="181.6" y="379.5" width="8" height="3" fill="#111"/>
<line x1="382.6" y1="241.5" x2="382.6" y2="364.8" stroke="#111" stroke-width="1.6"/><rect x="378.6" y="363.3" width="8" height="3" fill="#111"/>
<line x1="524.8" y1="203.6" x2="524.8" y2="326.4" stroke="#111" stroke-width="1.6"/><rect x="520.8" y="324.9" width="8" height="3" fill="#111"/>
<line x1="593.7" y1="241.5" x2="593.7" y2="326.4" stroke="#111" stroke-width="1.6"/><rect x="589.7" y="324.9" width="8" height="3" fill="#111"/>
<text transform="translate(63 489.5) scale(1.19 1)" font-family="&quot;Liberation Sans&quot;, sans-serif" font-size="17" font-weight="bold" fill="#2a2420">Epiphysis</text>
<text transform="translate(83 513.7) scale(1.17 1)" font-family="&quot;Liberation Sans&quot;, sans-serif" font-size="17" font-weight="normal" fill="#2a2420" stroke="#2a2420" stroke-width="0.3">Head</text>
<text transform="translate(407.6 489) scale(1.2 1)" font-family="&quot;Liberation Sans&quot;, sans-serif" font-size="17" font-weight="bold" fill="#2a2420">Diaphysis</text>
<text transform="translate(431 513.3) scale(1.17 1)" font-family="&quot;Liberation Sans&quot;, sans-serif" font-size="17" font-weight="normal" fill="#2a2420" stroke="#2a2420" stroke-width="0.3">Shaft</text>
<text transform="translate(757 489) scale(1.195 1)" font-family="&quot;Liberation Sans&quot;, sans-serif" font-size="17" font-weight="bold" fill="#2a2420">Epiphysis</text>
<path d="M95.6,519.6 L119.6,519.6 L119.6,556.3 L131.4,556.3 L107.6,580.0 L83.8,556.3 L95.6,556.3 Z" fill="#4f81bd" stroke="#3a67a0" stroke-width="1.2"/>
<path d="M427.7,519.6 L451.7,519.6 L451.7,556.3 L463.5,556.3 L439.7,580.0 L415.9,556.3 L427.7,556.3 Z" fill="#4f81bd" stroke="#3a67a0" stroke-width="1.2"/>
<path d="M782.5,519.6 L806.5,519.6 L806.5,556.3 L818.3,556.3 L794.5,580.0 L770.7,556.3 L782.5,556.3 Z" fill="#4f81bd" stroke="#3a67a0" stroke-width="1.2"/>
<text transform="translate(44.2 604.0) scale(1.0 1)" font-family="&quot;Liberation Serif&quot;, serif" font-size="22.2" font-weight="bold" fill="#000">Spongy Bone</text>
<text transform="translate(378.4 604.8) scale(1.0 1)" font-family="&quot;Liberation Serif&quot;, serif" font-size="21.8" font-weight="bold" fill="#000">Compact Bone</text>
<text transform="translate(714.0 603.8) scale(1.0 1)" font-family="&quot;Liberation Serif&quot;, serif" font-size="22.2" font-weight="bold" fill="#000">Spongy Bone</text>
<text transform="translate(269.6 101.1) scale(1.0 1)" font-family="&quot;Liberation Serif&quot;, serif" font-size="53.9" font-weight="normal" fill="#000">LONG BONES</text>
</svg>
</body></html>
